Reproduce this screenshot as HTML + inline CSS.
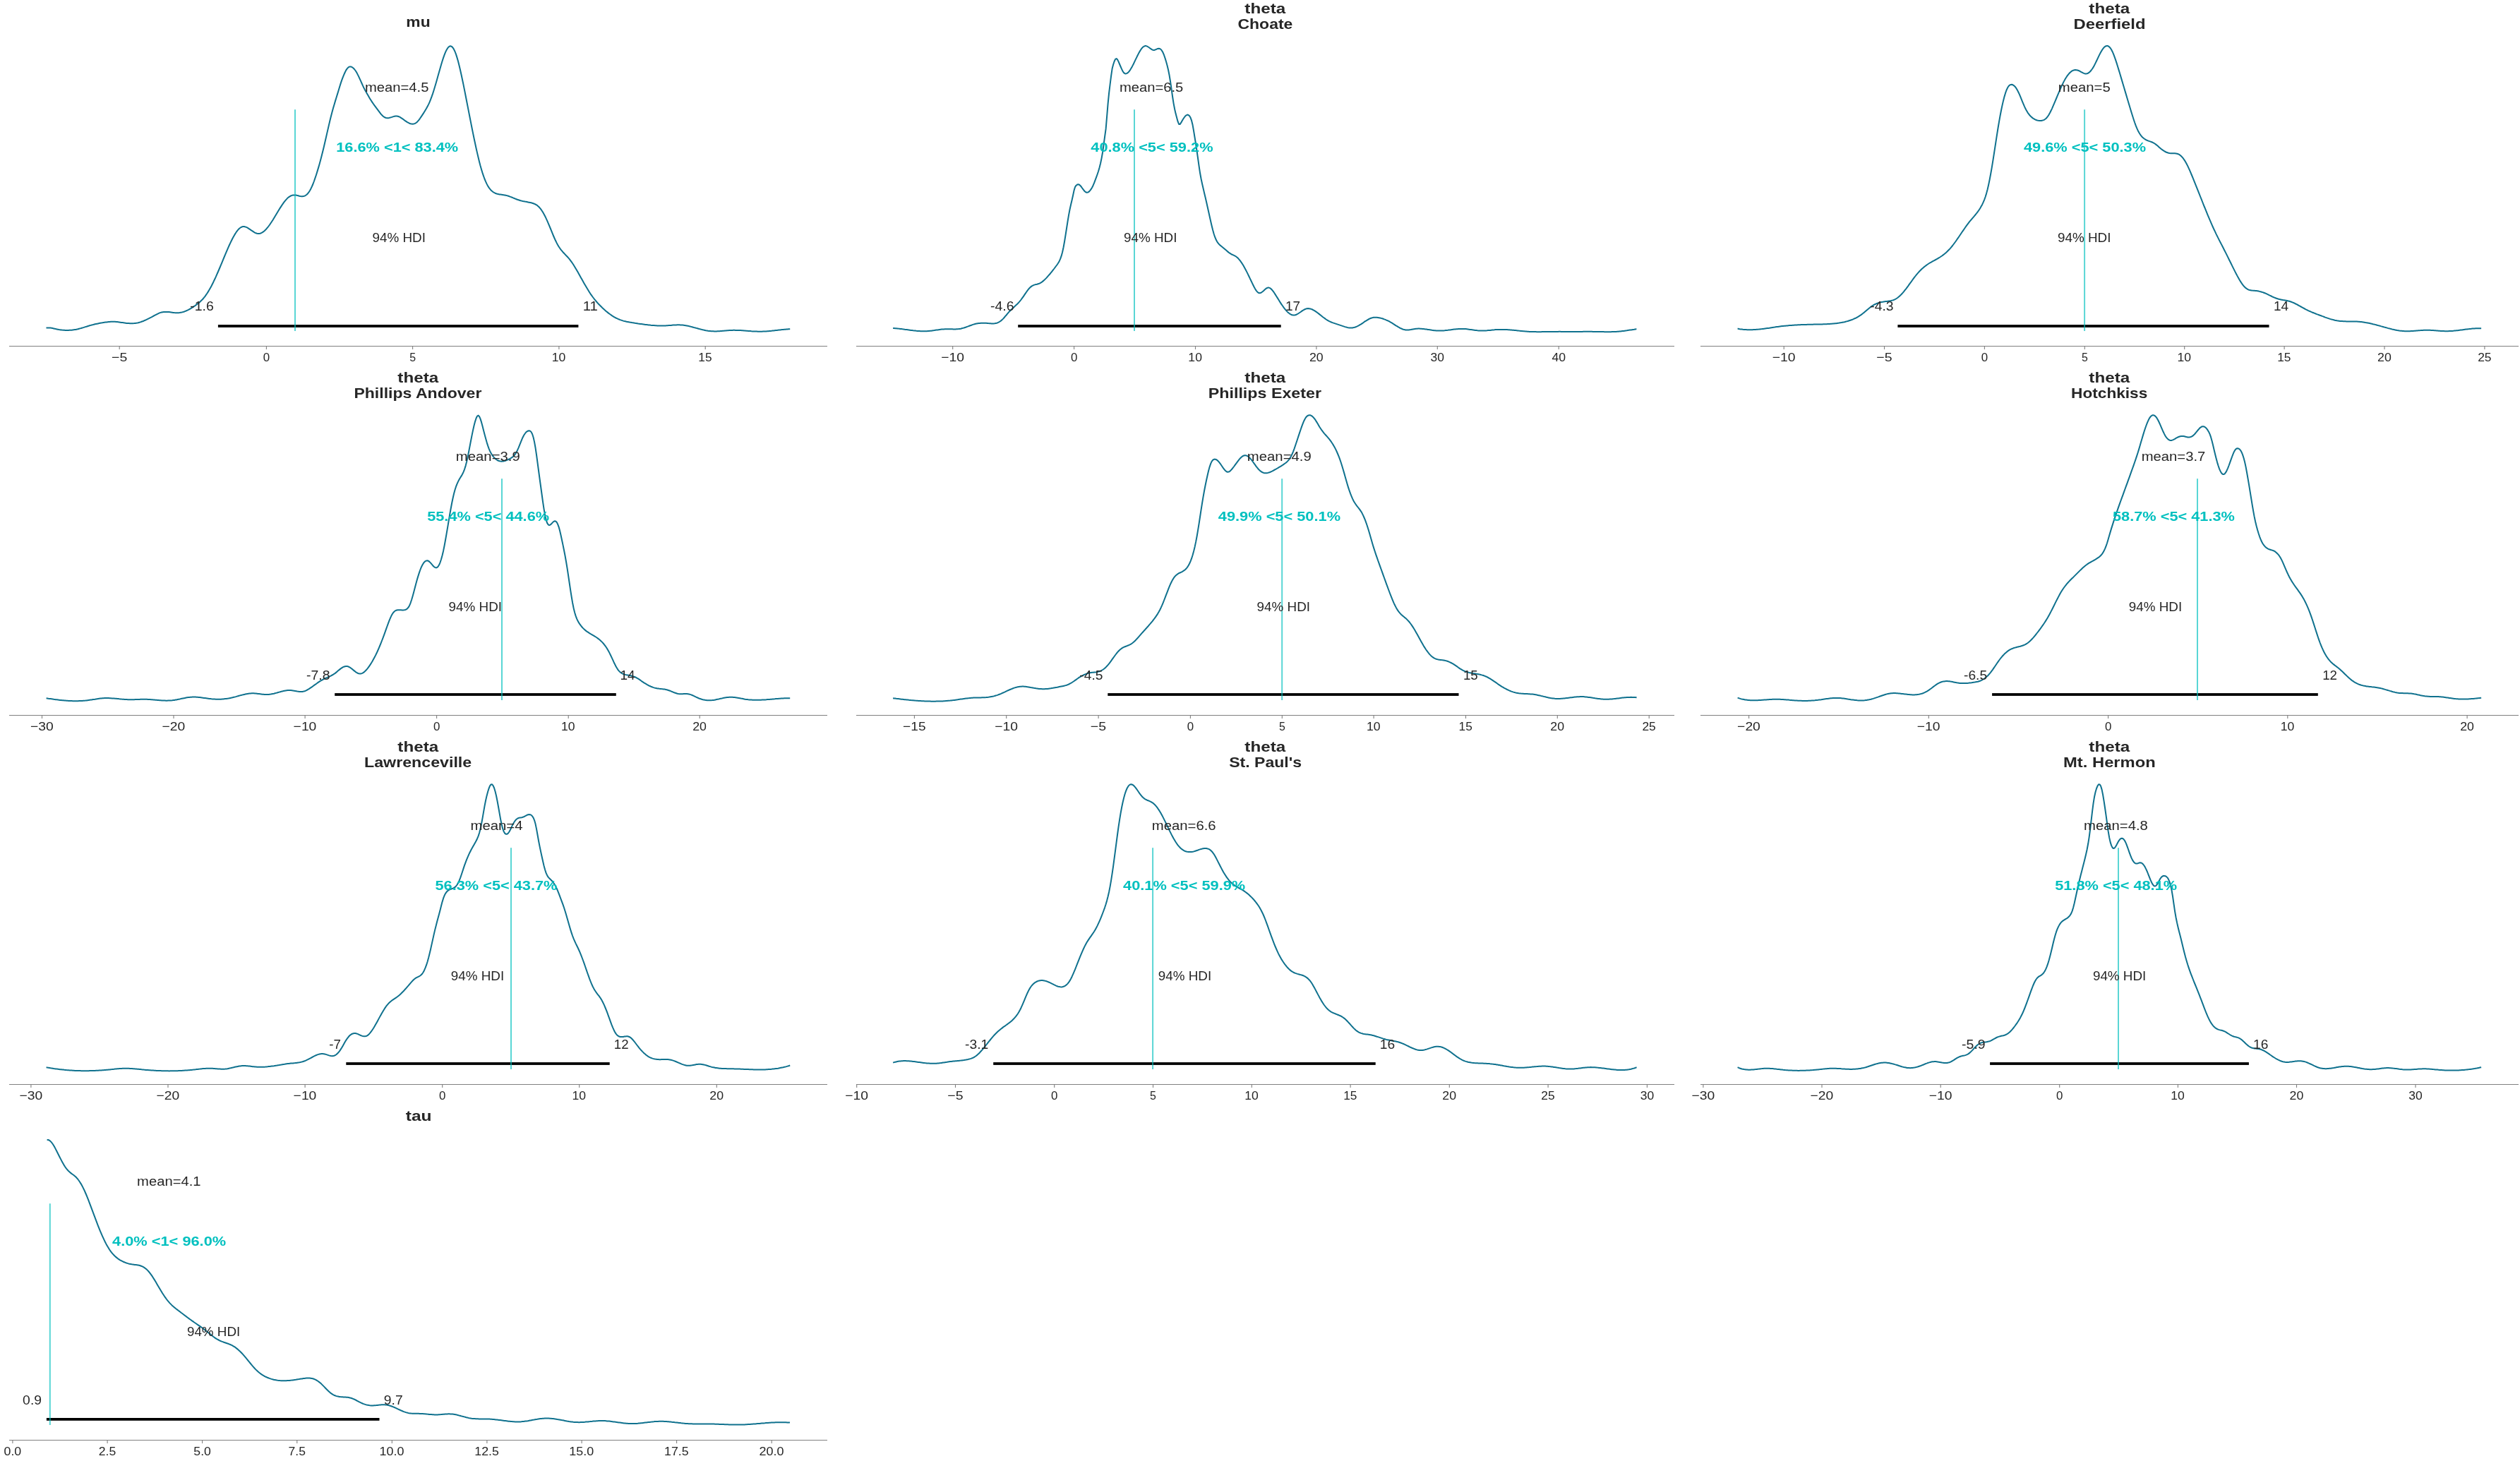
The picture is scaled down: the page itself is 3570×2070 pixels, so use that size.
<!DOCTYPE html><html><head><meta charset="utf-8"><title>Posterior plot</title><style>html,body{margin:0;padding:0;background:#fff;}svg{display:block;will-change:transform;}text{font-family:"Liberation Sans",sans-serif;}</style></head><body>
<svg xmlns="http://www.w3.org/2000/svg" width="3570" height="2070" viewBox="0 0 3570 2070">
<rect width="3570" height="2070" fill="#fff"/>
<g><text x="575.36" y="37.90" font-size="20.685" font-weight="bold" fill="#262626" textLength="34.27" lengthAdjust="spacingAndGlyphs">mu</text><rect x="13" y="490" width="1159" height="1" fill="#808080"/><rect x="168.65" y="491" width="1.1" height="4" fill="#808080"/><text x="157.99" y="511.70" font-size="16.960" fill="#262626" textLength="22.28" lengthAdjust="spacingAndGlyphs">−5</text><rect x="376.85" y="491" width="1.1" height="4" fill="#808080"/><text x="372.71" y="511.70" font-size="16.960" fill="#262626" textLength="9.38" lengthAdjust="spacingAndGlyphs">0</text><rect x="584.05" y="491" width="1.1" height="4" fill="#808080"/><text x="580.19" y="511.70" font-size="16.960" fill="#262626" textLength="8.85" lengthAdjust="spacingAndGlyphs">5</text><rect x="791.35" y="491" width="1.1" height="4" fill="#808080"/><text x="781.79" y="511.70" font-size="16.960" fill="#262626" textLength="19.57" lengthAdjust="spacingAndGlyphs">10</text><rect x="998.65" y="491" width="1.1" height="4" fill="#808080"/><text x="989.28" y="511.70" font-size="16.960" fill="#262626" textLength="19.25" lengthAdjust="spacingAndGlyphs">15</text><path d="M65.5,464.5 L67.0,464.4 L68.5,464.4 L70.0,464.5 L71.5,464.6 L73.0,464.8 L74.5,465.1 L76.0,465.4 L77.5,465.7 L79.0,466.1 L80.5,466.4 L82.0,466.7 L83.5,467.0 L85.0,467.2 L86.5,467.4 L88.0,467.6 L89.5,467.7 L91.0,467.8 L92.5,467.9 L94.0,467.9 L95.5,467.9 L97.0,467.9 L98.5,467.8 L100.0,467.8 L101.5,467.7 L103.0,467.5 L104.5,467.3 L106.0,467.1 L107.5,466.9 L109.0,466.6 L110.5,466.2 L112.0,465.8 L113.5,465.4 L115.0,465.0 L116.5,464.5 L118.0,464.1 L119.5,463.6 L121.0,463.1 L122.5,462.7 L124.0,462.2 L125.5,461.8 L127.0,461.3 L128.5,460.9 L130.0,460.5 L131.5,460.1 L133.0,459.7 L134.5,459.3 L136.0,459.0 L137.5,458.7 L139.0,458.4 L140.5,458.1 L142.0,457.8 L143.5,457.5 L145.0,457.3 L146.5,457.0 L148.0,456.8 L149.5,456.6 L151.0,456.4 L152.5,456.2 L154.0,456.0 L155.5,455.9 L157.0,455.8 L158.5,455.7 L160.0,455.7 L161.5,455.7 L163.0,455.8 L164.5,455.9 L166.0,456.1 L167.5,456.3 L169.0,456.5 L170.5,456.7 L172.0,456.9 L173.5,457.1 L175.0,457.3 L176.5,457.5 L178.0,457.7 L179.5,457.9 L181.0,458.0 L182.5,458.1 L184.0,458.2 L185.5,458.2 L187.0,458.2 L188.5,458.2 L190.0,458.1 L191.5,457.9 L193.0,457.7 L194.5,457.5 L196.0,457.2 L197.5,456.8 L199.0,456.4 L200.5,455.8 L202.0,455.3 L203.5,454.7 L205.0,454.0 L206.5,453.3 L208.0,452.6 L209.5,451.9 L211.0,451.2 L212.5,450.4 L214.0,449.7 L215.5,448.9 L217.0,448.0 L218.5,447.2 L220.0,446.4 L221.5,445.6 L223.0,444.8 L224.5,444.1 L226.0,443.4 L227.5,442.9 L229.0,442.5 L230.5,442.2 L232.0,442.0 L233.5,441.9 L235.0,441.9 L236.5,441.9 L238.0,442.0 L239.5,442.1 L241.0,442.3 L242.5,442.5 L244.0,442.7 L245.5,442.9 L247.0,443.1 L248.5,443.2 L250.0,443.3 L251.5,443.3 L253.0,443.2 L254.5,443.1 L256.0,442.8 L257.5,442.5 L259.0,442.1 L260.5,441.7 L262.0,441.1 L263.5,440.5 L265.0,439.8 L266.5,439.1 L268.0,438.3 L269.5,437.5 L271.0,436.6 L272.5,435.7 L274.0,434.7 L275.5,433.7 L277.0,432.6 L278.5,431.5 L280.0,430.3 L281.5,429.2 L283.0,427.9 L284.5,426.5 L286.0,425.1 L287.5,423.5 L289.0,421.7 L290.5,419.8 L292.0,417.7 L293.5,415.5 L295.0,413.1 L296.5,410.6 L298.0,407.9 L299.5,405.2 L301.0,402.2 L302.5,399.2 L304.0,396.0 L305.5,392.8 L307.0,389.4 L308.5,386.0 L310.0,382.5 L311.5,379.0 L313.0,375.4 L314.5,371.8 L316.0,368.1 L317.5,364.5 L319.0,360.9 L320.5,357.3 L322.0,353.8 L323.5,350.4 L325.0,347.0 L326.5,343.8 L328.0,340.7 L329.5,337.7 L331.0,335.0 L332.5,332.4 L334.0,330.0 L335.5,327.8 L337.0,325.9 L338.5,324.3 L340.0,323.0 L341.5,322.0 L343.0,321.3 L344.5,321.0 L346.0,321.1 L347.5,321.4 L349.0,321.9 L350.5,322.7 L352.0,323.6 L353.5,324.6 L355.0,325.6 L356.5,326.7 L358.0,327.7 L359.5,328.7 L361.0,329.6 L362.5,330.3 L364.0,330.8 L365.5,331.0 L367.0,331.0 L368.5,330.7 L370.0,330.2 L371.5,329.4 L373.0,328.4 L374.5,327.2 L376.0,325.8 L377.5,324.2 L379.0,322.4 L380.5,320.5 L382.0,318.5 L383.5,316.3 L385.0,314.0 L386.5,311.7 L388.0,309.2 L389.5,306.8 L391.0,304.3 L392.5,301.8 L394.0,299.3 L395.5,296.8 L397.0,294.4 L398.5,292.1 L400.0,289.8 L401.5,287.7 L403.0,285.7 L404.5,283.8 L406.0,282.1 L407.5,280.6 L409.0,279.3 L410.5,278.3 L412.0,277.5 L413.5,276.9 L415.0,276.5 L416.5,276.4 L418.0,276.4 L419.5,276.6 L421.0,276.9 L422.5,277.3 L424.0,277.7 L425.5,278.0 L427.0,278.2 L428.5,278.3 L430.0,278.1 L431.5,277.6 L433.0,276.8 L434.5,275.7 L436.0,274.2 L437.5,272.3 L439.0,270.0 L440.5,267.2 L442.0,264.0 L443.5,260.5 L445.0,256.5 L446.5,252.2 L448.0,247.7 L449.5,242.9 L451.0,237.9 L452.5,232.7 L454.0,227.2 L455.5,221.5 L457.0,215.6 L458.5,209.4 L460.0,203.0 L461.5,196.5 L463.0,189.9 L464.5,183.4 L466.0,176.9 L467.5,170.6 L469.0,164.5 L470.5,158.8 L472.0,153.3 L473.5,148.2 L475.0,143.1 L476.5,138.2 L478.0,133.4 L479.5,128.5 L481.0,123.5 L482.5,118.6 L484.0,114.1 L485.5,110.1 L487.0,106.4 L488.5,103.0 L490.0,99.9 L491.5,97.6 L493.0,95.9 L494.5,94.8 L496.0,94.4 L497.5,94.6 L499.0,95.3 L500.5,96.5 L502.0,98.0 L503.5,100.0 L505.0,102.3 L506.5,105.1 L508.0,108.1 L509.5,111.4 L511.0,114.7 L512.5,118.0 L514.0,121.4 L515.5,124.5 L517.0,127.4 L518.5,130.1 L520.0,132.7 L521.5,135.3 L523.0,137.9 L524.5,140.4 L526.0,142.8 L527.5,145.1 L529.0,147.3 L530.5,149.4 L532.0,151.4 L533.5,153.4 L535.0,155.4 L536.5,157.4 L538.0,159.4 L539.5,161.4 L541.0,163.1 L542.5,164.5 L544.0,165.7 L545.5,166.5 L547.0,167.0 L548.5,167.2 L550.0,167.2 L551.5,166.9 L553.0,166.5 L554.5,166.1 L556.0,165.6 L557.5,165.1 L559.0,164.7 L560.5,164.4 L562.0,164.4 L563.5,164.7 L565.0,165.2 L566.5,165.9 L568.0,166.8 L569.5,167.8 L571.0,168.9 L572.5,170.0 L574.0,171.1 L575.5,172.1 L577.0,173.1 L578.5,173.9 L580.0,174.7 L581.5,175.2 L583.0,175.6 L584.5,175.7 L586.0,175.6 L587.5,175.1 L589.0,174.3 L590.5,173.2 L592.0,171.6 L593.5,169.8 L595.0,167.8 L596.5,165.6 L598.0,163.4 L599.5,161.1 L601.0,158.7 L602.5,156.3 L604.0,153.8 L605.5,151.0 L607.0,148.1 L608.5,144.8 L610.0,141.2 L611.5,137.2 L613.0,132.9 L614.5,128.2 L616.0,123.3 L617.5,118.2 L619.0,113.0 L620.5,107.6 L622.0,102.3 L623.5,97.0 L625.0,91.7 L626.5,86.8 L628.0,82.1 L629.5,77.8 L631.0,74.1 L632.5,70.9 L634.0,68.4 L635.5,66.6 L637.0,65.5 L638.5,65.3 L640.0,66.0 L641.5,67.5 L643.0,69.9 L644.5,73.0 L646.0,76.9 L647.5,81.6 L649.0,86.8 L650.5,92.7 L652.0,99.0 L653.5,105.7 L655.0,112.7 L656.5,119.9 L658.0,127.4 L659.5,135.0 L661.0,142.7 L662.5,150.4 L664.0,158.1 L665.5,165.8 L667.0,173.4 L668.5,181.0 L670.0,188.4 L671.5,195.7 L673.0,202.8 L674.5,209.7 L676.0,216.4 L677.5,222.8 L679.0,228.9 L680.5,234.7 L682.0,240.0 L683.5,244.9 L685.0,249.4 L686.5,253.5 L688.0,257.2 L689.5,260.4 L691.0,263.2 L692.5,265.6 L694.0,267.6 L695.5,269.4 L697.0,270.8 L698.5,272.0 L700.0,272.9 L701.5,273.7 L703.0,274.3 L704.5,274.8 L706.0,275.1 L707.5,275.4 L709.0,275.6 L710.5,275.8 L712.0,276.0 L713.5,276.2 L715.0,276.4 L716.5,276.7 L718.0,277.1 L719.5,277.5 L721.0,278.0 L722.5,278.6 L724.0,279.1 L725.5,279.7 L727.0,280.4 L728.5,281.0 L730.0,281.6 L731.5,282.2 L733.0,282.8 L734.5,283.3 L736.0,283.8 L737.5,284.3 L739.0,284.6 L740.5,285.0 L742.0,285.3 L743.5,285.6 L745.0,285.8 L746.5,286.1 L748.0,286.4 L749.5,286.7 L751.0,287.0 L752.5,287.3 L754.0,287.7 L755.5,288.2 L757.0,288.8 L758.5,289.5 L760.0,290.3 L761.5,291.4 L763.0,292.7 L764.5,294.3 L766.0,296.1 L767.5,298.3 L769.0,300.6 L770.5,303.2 L772.0,306.0 L773.5,309.1 L775.0,312.3 L776.5,315.8 L778.0,319.4 L779.5,323.0 L781.0,326.7 L782.5,330.4 L784.0,334.0 L785.5,337.5 L787.0,340.8 L788.5,343.9 L790.0,346.7 L791.5,349.2 L793.0,351.5 L794.5,353.6 L796.0,355.4 L797.5,357.2 L799.0,358.8 L800.5,360.4 L802.0,362.0 L803.5,363.5 L805.0,365.2 L806.5,366.9 L808.0,368.8 L809.5,370.9 L811.0,373.0 L812.5,375.3 L814.0,377.7 L815.5,380.2 L817.0,382.7 L818.5,385.3 L820.0,388.0 L821.5,390.7 L823.0,393.4 L824.5,396.1 L826.0,398.8 L827.5,401.4 L829.0,404.0 L830.5,406.6 L832.0,409.1 L833.5,411.6 L835.0,414.0 L836.5,416.3 L838.0,418.4 L839.5,420.5 L841.0,422.5 L842.5,424.4 L844.0,426.2 L845.5,428.0 L847.0,429.7 L848.5,431.3 L850.0,432.8 L851.5,434.3 L853.0,435.8 L854.5,437.2 L856.0,438.6 L857.5,439.9 L859.0,441.2 L860.5,442.4 L862.0,443.6 L863.5,444.7 L865.0,445.8 L866.5,446.9 L868.0,447.9 L869.5,448.8 L871.0,449.7 L872.5,450.5 L874.0,451.2 L875.5,451.9 L877.0,452.5 L878.5,453.1 L880.0,453.6 L881.5,454.1 L883.0,454.6 L884.5,455.0 L886.0,455.3 L887.5,455.7 L889.0,456.0 L890.5,456.3 L892.0,456.6 L893.5,456.8 L895.0,457.1 L896.5,457.3 L898.0,457.5 L899.5,457.8 L901.0,458.0 L902.5,458.2 L904.0,458.5 L905.5,458.7 L907.0,458.9 L908.5,459.1 L910.0,459.3 L911.5,459.5 L913.0,459.7 L914.5,459.9 L916.0,460.1 L917.5,460.3 L919.0,460.5 L920.5,460.6 L922.0,460.8 L923.5,460.9 L925.0,461.0 L926.5,461.1 L928.0,461.2 L929.5,461.3 L931.0,461.4 L932.5,461.5 L934.0,461.5 L935.5,461.5 L937.0,461.5 L938.5,461.5 L940.0,461.5 L941.5,461.4 L943.0,461.4 L944.5,461.3 L946.0,461.2 L947.5,461.1 L949.0,461.0 L950.5,460.9 L952.0,460.7 L953.5,460.6 L955.0,460.5 L956.5,460.4 L958.0,460.4 L959.5,460.3 L961.0,460.3 L962.5,460.3 L964.0,460.4 L965.5,460.5 L967.0,460.6 L968.5,460.8 L970.0,461.0 L971.5,461.2 L973.0,461.5 L974.5,461.8 L976.0,462.1 L977.5,462.5 L979.0,462.9 L980.5,463.3 L982.0,463.7 L983.5,464.1 L985.0,464.5 L986.5,464.9 L988.0,465.3 L989.5,465.7 L991.0,466.1 L992.5,466.5 L994.0,466.9 L995.5,467.3 L997.0,467.6 L998.5,467.9 L1000.0,468.2 L1001.5,468.4 L1003.0,468.7 L1004.5,468.9 L1006.0,469.0 L1007.5,469.2 L1009.0,469.3 L1010.5,469.3 L1012.0,469.4 L1013.5,469.4 L1015.0,469.4 L1016.5,469.3 L1018.0,469.3 L1019.5,469.2 L1021.0,469.1 L1022.5,469.0 L1024.0,468.8 L1025.5,468.7 L1027.0,468.6 L1028.5,468.5 L1030.0,468.3 L1031.5,468.2 L1033.0,468.1 L1034.5,468.0 L1036.0,467.9 L1037.5,467.9 L1039.0,467.8 L1040.5,467.8 L1042.0,467.9 L1043.5,467.9 L1045.0,467.9 L1046.5,468.0 L1048.0,468.1 L1049.5,468.1 L1051.0,468.2 L1052.5,468.3 L1054.0,468.5 L1055.5,468.6 L1057.0,468.7 L1058.5,468.8 L1060.0,468.9 L1061.5,469.0 L1063.0,469.1 L1064.5,469.3 L1066.0,469.4 L1067.5,469.4 L1069.0,469.5 L1070.5,469.6 L1072.0,469.6 L1073.5,469.7 L1075.0,469.7 L1076.5,469.7 L1078.0,469.7 L1079.5,469.7 L1081.0,469.6 L1082.5,469.5 L1084.0,469.5 L1085.5,469.4 L1087.0,469.3 L1088.5,469.2 L1090.0,469.0 L1091.5,468.9 L1093.0,468.8 L1094.5,468.6 L1096.0,468.5 L1097.5,468.3 L1099.0,468.1 L1100.5,468.0 L1102.0,467.8 L1103.5,467.6 L1105.0,467.5 L1106.5,467.3 L1108.0,467.1 L1109.5,467.0 L1111.0,466.8 L1112.5,466.7 L1114.0,466.5 L1115.5,466.4 L1117.0,466.3 L1118.5,466.2 L1119.2,466.1" fill="none" stroke="#0f718e" stroke-width="2.0" stroke-linejoin="round"/><rect x="308.90" y="460.10" width="510.50" height="3.8" fill="#000"/><rect x="417.00" y="155.20" width="2.0" height="313.80" fill="#00c0bf" fill-opacity="0.65"/><text x="517.04" y="129.90" font-size="18.218" fill="#262626" textLength="90.43" lengthAdjust="spacingAndGlyphs">mean=4.5</text><text x="476.18" y="215.00" font-size="18.218" font-weight="bold" fill="#00c0bf" textLength="173.05" lengthAdjust="spacingAndGlyphs">16.6% &lt;1&lt; 83.4%</text><text x="527.51" y="342.80" font-size="18.218" fill="#262626" textLength="75.43" lengthAdjust="spacingAndGlyphs">94% HDI</text><text x="269.18" y="440.30" font-size="18.391" fill="#262626" textLength="33.64" lengthAdjust="spacingAndGlyphs">-1.6</text><text x="825.77" y="440.30" font-size="18.391" fill="#262626" textLength="21.10" lengthAdjust="spacingAndGlyphs">11</text></g>
<g><text x="1763.35" y="18.90" font-size="20.685" font-weight="bold" fill="#262626" textLength="57.85" lengthAdjust="spacingAndGlyphs">theta</text><text x="1753.48" y="40.95" font-size="20.685" font-weight="bold" fill="#262626" textLength="77.88" lengthAdjust="spacingAndGlyphs">Choate</text><rect x="1213" y="490" width="1159" height="1" fill="#808080"/><rect x="1349.15" y="491" width="1.1" height="4" fill="#808080"/><text x="1333.24" y="511.70" font-size="16.960" fill="#262626" textLength="32.72" lengthAdjust="spacingAndGlyphs">−10</text><rect x="1521.05" y="491" width="1.1" height="4" fill="#808080"/><text x="1516.91" y="511.70" font-size="16.960" fill="#262626" textLength="9.38" lengthAdjust="spacingAndGlyphs">0</text><rect x="1692.95" y="491" width="1.1" height="4" fill="#808080"/><text x="1683.39" y="511.70" font-size="16.960" fill="#262626" textLength="19.57" lengthAdjust="spacingAndGlyphs">10</text><rect x="1864.35" y="491" width="1.1" height="4" fill="#808080"/><text x="1854.95" y="511.70" font-size="16.960" fill="#262626" textLength="19.71" lengthAdjust="spacingAndGlyphs">20</text><rect x="2035.75" y="491" width="1.1" height="4" fill="#808080"/><text x="2026.60" y="511.70" font-size="16.960" fill="#262626" textLength="19.43" lengthAdjust="spacingAndGlyphs">30</text><rect x="2207.65" y="491" width="1.1" height="4" fill="#808080"/><text x="2198.54" y="511.70" font-size="16.960" fill="#262626" textLength="19.61" lengthAdjust="spacingAndGlyphs">40</text><path d="M1265.1,465.0 L1266.6,465.1 L1268.1,465.2 L1269.6,465.3 L1271.1,465.4 L1272.6,465.6 L1274.1,465.7 L1275.6,465.9 L1277.1,466.1 L1278.6,466.3 L1280.1,466.4 L1281.6,466.7 L1283.1,466.9 L1284.6,467.1 L1286.1,467.3 L1287.6,467.5 L1289.1,467.7 L1290.6,467.9 L1292.1,468.1 L1293.6,468.3 L1295.1,468.4 L1296.6,468.6 L1298.1,468.8 L1299.6,468.9 L1301.1,469.0 L1302.6,469.1 L1304.1,469.2 L1305.6,469.3 L1307.1,469.3 L1308.6,469.3 L1310.1,469.3 L1311.6,469.3 L1313.1,469.2 L1314.6,469.1 L1316.1,469.0 L1317.6,468.8 L1319.1,468.7 L1320.6,468.5 L1322.1,468.3 L1323.6,468.1 L1325.1,467.8 L1326.6,467.6 L1328.1,467.4 L1329.6,467.2 L1331.1,467.0 L1332.6,466.8 L1334.1,466.6 L1335.6,466.5 L1337.1,466.4 L1338.6,466.3 L1340.1,466.2 L1341.6,466.2 L1343.1,466.2 L1344.6,466.2 L1346.1,466.2 L1347.6,466.3 L1349.1,466.3 L1350.6,466.4 L1352.1,466.4 L1353.6,466.4 L1355.1,466.3 L1356.6,466.2 L1358.1,466.1 L1359.6,465.9 L1361.1,465.7 L1362.6,465.3 L1364.1,464.9 L1365.6,464.5 L1367.1,464.0 L1368.6,463.5 L1370.1,462.9 L1371.6,462.4 L1373.1,461.8 L1374.6,461.2 L1376.1,460.7 L1377.6,460.1 L1379.1,459.6 L1380.6,459.2 L1382.1,458.8 L1383.6,458.5 L1385.1,458.2 L1386.6,458.0 L1388.1,457.9 L1389.6,457.8 L1391.1,457.7 L1392.6,457.7 L1394.1,457.7 L1395.6,457.8 L1397.1,457.8 L1398.6,457.9 L1400.1,458.1 L1401.6,458.2 L1403.1,458.3 L1404.6,458.4 L1406.1,458.4 L1407.6,458.4 L1409.1,458.3 L1410.6,458.0 L1412.1,457.7 L1413.6,457.1 L1415.1,456.4 L1416.6,455.5 L1418.1,454.4 L1419.6,453.1 L1421.1,451.6 L1422.6,450.0 L1424.1,448.2 L1425.6,446.5 L1427.1,444.7 L1428.6,442.9 L1430.1,441.2 L1431.6,439.7 L1433.1,438.2 L1434.6,436.8 L1436.1,435.4 L1437.6,434.0 L1439.1,432.6 L1440.6,431.2 L1442.1,429.7 L1443.6,428.1 L1445.1,426.4 L1446.6,424.5 L1448.1,422.4 L1449.6,420.3 L1451.1,418.1 L1452.6,415.9 L1454.1,413.7 L1455.6,411.6 L1457.1,409.7 L1458.6,408.0 L1460.1,406.6 L1461.6,405.4 L1463.1,404.6 L1464.6,403.9 L1466.1,403.4 L1467.6,403.0 L1469.1,402.7 L1470.6,402.2 L1472.1,401.7 L1473.6,401.1 L1475.1,400.2 L1476.6,399.1 L1478.1,397.9 L1479.6,396.6 L1481.1,395.1 L1482.6,393.6 L1484.1,391.9 L1485.6,390.2 L1487.1,388.5 L1488.6,386.7 L1490.1,384.8 L1491.6,382.9 L1493.1,381.0 L1494.6,379.0 L1496.1,377.0 L1497.6,375.0 L1499.1,372.8 L1500.6,370.2 L1502.1,366.9 L1503.6,362.7 L1505.1,357.3 L1506.6,350.3 L1508.1,342.0 L1509.6,332.7 L1511.1,323.0 L1512.6,313.4 L1514.1,304.4 L1515.6,296.5 L1517.1,289.8 L1518.6,283.5 L1520.1,276.7 L1521.6,269.6 L1523.1,264.8 L1524.6,262.7 L1526.1,261.6 L1527.6,261.3 L1529.1,261.8 L1530.6,263.2 L1532.1,265.0 L1533.6,267.2 L1535.1,269.2 L1536.6,271.0 L1538.1,272.2 L1539.6,272.8 L1541.1,272.6 L1542.6,271.7 L1544.1,270.1 L1545.6,268.1 L1547.1,265.7 L1548.6,262.7 L1550.1,259.2 L1551.6,255.2 L1553.1,251.2 L1554.6,247.0 L1556.1,242.5 L1557.6,237.3 L1559.1,231.2 L1560.6,224.1 L1562.1,215.5 L1563.6,204.7 L1565.1,193.7 L1566.6,182.9 L1568.1,165.2 L1569.6,146.8 L1571.1,131.8 L1572.6,119.5 L1574.1,107.7 L1575.6,97.3 L1577.1,91.5 L1578.6,87.0 L1580.1,83.9 L1581.6,83.0 L1583.1,84.5 L1584.6,87.4 L1586.1,91.0 L1587.6,94.5 L1589.1,97.9 L1590.6,101.0 L1592.1,103.2 L1593.6,104.2 L1595.1,104.4 L1596.6,103.9 L1598.1,102.8 L1599.6,101.1 L1601.1,99.1 L1602.6,96.6 L1604.1,93.9 L1605.6,91.0 L1607.1,87.9 L1608.6,84.7 L1610.1,81.6 L1611.6,78.5 L1613.1,75.6 L1614.6,72.9 L1616.1,70.5 L1617.6,68.4 L1619.1,66.8 L1620.6,65.7 L1622.1,65.1 L1623.6,65.1 L1625.1,65.6 L1626.6,66.5 L1628.1,67.5 L1629.6,68.7 L1631.1,69.7 L1632.6,70.6 L1634.1,71.0 L1635.6,70.9 L1637.1,70.3 L1638.6,69.6 L1640.1,68.9 L1641.6,68.7 L1643.1,69.0 L1644.6,70.0 L1646.1,71.9 L1647.6,74.6 L1649.1,78.2 L1650.6,82.6 L1652.1,87.5 L1653.6,93.0 L1655.1,99.3 L1656.6,106.8 L1658.1,116.0 L1659.6,126.4 L1661.1,137.0 L1662.6,146.6 L1664.1,154.5 L1665.6,161.1 L1667.1,166.8 L1668.6,172.2 L1670.1,175.9 L1671.6,176.1 L1673.1,173.9 L1674.6,171.3 L1676.1,168.8 L1677.6,166.5 L1679.1,164.6 L1680.6,163.3 L1682.1,162.6 L1683.6,162.9 L1685.1,164.3 L1686.6,166.8 L1688.1,170.9 L1689.6,177.1 L1691.1,185.6 L1692.6,194.8 L1694.1,204.2 L1695.6,214.1 L1697.1,224.6 L1698.6,235.3 L1700.1,245.3 L1701.6,253.5 L1703.1,260.5 L1704.6,267.0 L1706.1,273.4 L1707.6,279.8 L1709.1,286.3 L1710.6,293.0 L1712.1,299.7 L1713.6,306.5 L1715.1,313.2 L1716.6,319.8 L1718.1,325.8 L1719.6,331.2 L1721.1,335.7 L1722.6,339.3 L1724.1,342.2 L1725.6,344.4 L1727.1,346.2 L1728.6,347.6 L1730.1,348.8 L1731.6,350.0 L1733.1,351.2 L1734.6,352.5 L1736.1,353.8 L1737.6,355.1 L1739.1,356.4 L1740.6,357.6 L1742.1,358.7 L1743.6,359.7 L1745.1,360.5 L1746.6,361.2 L1748.1,361.9 L1749.6,362.6 L1751.1,363.5 L1752.6,364.7 L1754.1,366.1 L1755.6,367.8 L1757.1,369.7 L1758.6,371.8 L1760.1,374.1 L1761.6,376.6 L1763.1,379.3 L1764.6,382.0 L1766.1,384.9 L1767.6,387.9 L1769.1,391.0 L1770.6,394.1 L1772.1,397.2 L1773.6,400.4 L1775.1,403.5 L1776.6,406.5 L1778.1,409.2 L1779.6,411.6 L1781.1,413.5 L1782.6,414.7 L1784.1,415.2 L1785.6,415.1 L1787.1,414.3 L1788.6,413.2 L1790.1,411.9 L1791.6,410.5 L1793.1,409.2 L1794.6,408.2 L1796.1,407.6 L1797.6,407.6 L1799.1,408.1 L1800.6,409.2 L1802.1,410.8 L1803.6,412.6 L1805.1,414.8 L1806.6,417.1 L1808.1,419.5 L1809.6,421.9 L1811.1,424.3 L1812.6,426.7 L1814.1,429.1 L1815.6,431.4 L1817.1,433.5 L1818.6,435.6 L1820.1,437.6 L1821.6,439.4 L1823.1,441.1 L1824.6,442.6 L1826.1,443.8 L1827.6,444.9 L1829.1,445.7 L1830.6,446.3 L1832.1,446.6 L1833.6,446.6 L1835.1,446.3 L1836.6,445.7 L1838.1,444.9 L1839.6,444.0 L1841.1,443.0 L1842.6,442.0 L1844.1,440.9 L1845.6,439.9 L1847.1,439.0 L1848.6,438.2 L1850.1,437.6 L1851.6,437.3 L1853.1,437.1 L1854.6,437.2 L1856.1,437.5 L1857.6,437.9 L1859.1,438.5 L1860.6,439.3 L1862.1,440.1 L1863.6,441.1 L1865.1,442.1 L1866.6,443.2 L1868.1,444.4 L1869.6,445.6 L1871.1,446.8 L1872.6,448.0 L1874.1,449.2 L1875.6,450.3 L1877.1,451.4 L1878.6,452.5 L1880.1,453.5 L1881.6,454.3 L1883.1,455.1 L1884.6,455.8 L1886.1,456.5 L1887.6,457.1 L1889.1,457.6 L1890.6,458.1 L1892.1,458.6 L1893.6,459.1 L1895.1,459.6 L1896.6,460.1 L1898.1,460.6 L1899.6,461.1 L1901.1,461.6 L1902.6,462.1 L1904.1,462.6 L1905.6,463.1 L1907.1,463.5 L1908.6,463.9 L1910.1,464.2 L1911.6,464.4 L1913.1,464.5 L1914.6,464.5 L1916.1,464.4 L1917.6,464.1 L1919.1,463.7 L1920.6,463.2 L1922.1,462.6 L1923.6,461.9 L1925.1,461.1 L1926.6,460.2 L1928.1,459.3 L1929.6,458.3 L1931.1,457.3 L1932.6,456.2 L1934.1,455.2 L1935.6,454.3 L1937.1,453.3 L1938.6,452.5 L1940.1,451.7 L1941.6,451.0 L1943.1,450.5 L1944.6,450.1 L1946.1,449.8 L1947.6,449.7 L1949.1,449.7 L1950.6,449.7 L1952.1,449.9 L1953.6,450.2 L1955.1,450.5 L1956.6,450.9 L1958.1,451.3 L1959.6,451.8 L1961.1,452.4 L1962.6,452.9 L1964.1,453.6 L1965.6,454.2 L1967.1,454.9 L1968.6,455.7 L1970.1,456.6 L1971.6,457.4 L1973.1,458.4 L1974.6,459.3 L1976.1,460.3 L1977.6,461.3 L1979.1,462.2 L1980.6,463.1 L1982.1,464.0 L1983.6,464.8 L1985.1,465.5 L1986.6,466.2 L1988.1,466.7 L1989.6,467.1 L1991.1,467.4 L1992.6,467.5 L1994.1,467.5 L1995.6,467.4 L1997.1,467.2 L1998.6,467.0 L2000.1,466.7 L2001.6,466.4 L2003.1,466.2 L2004.6,466.0 L2006.1,465.8 L2007.6,465.7 L2009.1,465.6 L2010.6,465.6 L2012.1,465.7 L2013.6,465.8 L2015.1,465.9 L2016.6,466.0 L2018.1,466.2 L2019.6,466.4 L2021.1,466.6 L2022.6,466.9 L2024.1,467.1 L2025.6,467.3 L2027.1,467.5 L2028.6,467.8 L2030.1,468.0 L2031.6,468.2 L2033.1,468.3 L2034.6,468.5 L2036.1,468.6 L2037.6,468.6 L2039.1,468.6 L2040.6,468.6 L2042.1,468.6 L2043.6,468.5 L2045.1,468.4 L2046.6,468.3 L2048.1,468.1 L2049.6,467.9 L2051.1,467.8 L2052.6,467.6 L2054.1,467.4 L2055.6,467.2 L2057.1,467.0 L2058.6,466.8 L2060.1,466.6 L2061.6,466.5 L2063.1,466.3 L2064.6,466.2 L2066.1,466.0 L2067.6,466.0 L2069.1,465.9 L2070.6,465.9 L2072.1,465.9 L2073.6,465.9 L2075.1,466.0 L2076.6,466.1 L2078.1,466.3 L2079.6,466.5 L2081.1,466.7 L2082.6,466.9 L2084.1,467.1 L2085.6,467.3 L2087.1,467.5 L2088.6,467.7 L2090.1,467.9 L2091.6,468.1 L2093.1,468.3 L2094.6,468.4 L2096.1,468.5 L2097.6,468.6 L2099.1,468.6 L2100.6,468.6 L2102.1,468.6 L2103.6,468.5 L2105.1,468.4 L2106.6,468.3 L2108.1,468.1 L2109.6,468.0 L2111.1,467.9 L2112.6,467.7 L2114.1,467.5 L2115.6,467.4 L2117.1,467.3 L2118.6,467.1 L2120.1,467.1 L2121.6,467.0 L2123.1,466.9 L2124.6,466.9 L2126.1,466.9 L2127.6,466.9 L2129.1,466.9 L2130.6,466.9 L2132.1,467.0 L2133.6,467.0 L2135.1,467.1 L2136.6,467.2 L2138.1,467.3 L2139.6,467.4 L2141.1,467.5 L2142.6,467.7 L2144.1,467.8 L2145.6,468.0 L2147.1,468.1 L2148.6,468.2 L2150.1,468.4 L2151.6,468.6 L2153.1,468.7 L2154.6,468.9 L2156.1,469.0 L2157.6,469.2 L2159.1,469.3 L2160.6,469.4 L2162.1,469.5 L2163.6,469.7 L2165.1,469.8 L2166.6,469.9 L2168.1,469.9 L2169.6,470.0 L2171.1,470.0 L2172.6,470.1 L2174.1,470.1 L2175.6,470.1 L2177.1,470.2 L2178.6,470.2 L2180.1,470.2 L2181.6,470.2 L2183.1,470.2 L2184.6,470.1 L2186.1,470.1 L2187.6,470.1 L2189.1,470.1 L2190.6,470.1 L2192.1,470.0 L2193.6,470.0 L2195.1,470.0 L2196.6,469.9 L2198.1,469.9 L2199.6,469.9 L2201.1,469.9 L2202.6,469.9 L2204.1,469.9 L2205.6,469.9 L2207.1,469.9 L2208.6,469.8 L2210.1,469.8 L2211.6,469.9 L2213.1,469.9 L2214.6,469.9 L2216.1,469.9 L2217.6,469.9 L2219.1,469.9 L2220.6,469.9 L2222.1,469.9 L2223.6,469.9 L2225.1,469.9 L2226.6,469.9 L2228.1,469.9 L2229.6,469.9 L2231.1,469.9 L2232.6,469.9 L2234.1,469.9 L2235.6,469.9 L2237.1,469.9 L2238.6,469.9 L2240.1,469.9 L2241.6,469.9 L2243.1,469.8 L2244.6,469.8 L2246.1,469.8 L2247.6,469.8 L2249.1,469.8 L2250.6,469.8 L2252.1,469.8 L2253.6,469.8 L2255.1,469.8 L2256.6,469.9 L2258.1,469.9 L2259.6,469.9 L2261.1,469.9 L2262.6,469.9 L2264.1,470.0 L2265.6,470.0 L2267.1,470.0 L2268.6,470.1 L2270.1,470.1 L2271.6,470.1 L2273.1,470.2 L2274.6,470.2 L2276.1,470.2 L2277.6,470.2 L2279.1,470.2 L2280.6,470.2 L2282.1,470.2 L2283.6,470.1 L2285.1,470.1 L2286.6,470.0 L2288.1,470.0 L2289.6,469.9 L2291.1,469.8 L2292.6,469.7 L2294.1,469.5 L2295.6,469.4 L2297.1,469.2 L2298.6,469.0 L2300.1,468.9 L2301.6,468.7 L2303.1,468.5 L2304.6,468.3 L2306.1,468.0 L2307.6,467.8 L2309.1,467.6 L2310.6,467.4 L2312.1,467.2 L2313.6,467.0 L2315.1,466.8 L2316.6,466.5 L2318.1,466.3 L2318.4,466.3" fill="none" stroke="#0f718e" stroke-width="2.0" stroke-linejoin="round"/><rect x="1442.20" y="460.10" width="372.50" height="3.8" fill="#000"/><rect x="1606.00" y="155.20" width="2.0" height="313.80" fill="#00c0bf" fill-opacity="0.65"/><text x="1585.94" y="129.90" font-size="18.218" fill="#262626" textLength="90.43" lengthAdjust="spacingAndGlyphs">mean=6.5</text><text x="1545.33" y="215.00" font-size="18.218" font-weight="bold" fill="#00c0bf" textLength="173.18" lengthAdjust="spacingAndGlyphs">40.8% &lt;5&lt; 59.2%</text><text x="1592.01" y="342.80" font-size="18.218" fill="#262626" textLength="75.43" lengthAdjust="spacingAndGlyphs">94% HDI</text><text x="1402.98" y="440.30" font-size="18.391" fill="#262626" textLength="33.64" lengthAdjust="spacingAndGlyphs">-4.6</text><text x="1820.91" y="440.30" font-size="18.391" fill="#262626" textLength="21.09" lengthAdjust="spacingAndGlyphs">17</text></g>
<g><text x="2959.35" y="18.90" font-size="20.685" font-weight="bold" fill="#262626" textLength="57.85" lengthAdjust="spacingAndGlyphs">theta</text><text x="2937.47" y="40.95" font-size="20.685" font-weight="bold" fill="#262626" textLength="102.03" lengthAdjust="spacingAndGlyphs">Deerfield</text><rect x="2409" y="490" width="1159" height="1" fill="#808080"/><rect x="2526.65" y="491" width="1.1" height="4" fill="#808080"/><text x="2510.74" y="511.70" font-size="16.960" fill="#262626" textLength="32.72" lengthAdjust="spacingAndGlyphs">−10</text><rect x="2668.95" y="491" width="1.1" height="4" fill="#808080"/><text x="2658.29" y="511.70" font-size="16.960" fill="#262626" textLength="22.28" lengthAdjust="spacingAndGlyphs">−5</text><rect x="2810.85" y="491" width="1.1" height="4" fill="#808080"/><text x="2806.71" y="511.70" font-size="16.960" fill="#262626" textLength="9.38" lengthAdjust="spacingAndGlyphs">0</text><rect x="2952.75" y="491" width="1.1" height="4" fill="#808080"/><text x="2948.89" y="511.70" font-size="16.960" fill="#262626" textLength="8.85" lengthAdjust="spacingAndGlyphs">5</text><rect x="3094.15" y="491" width="1.1" height="4" fill="#808080"/><text x="3084.59" y="511.70" font-size="16.960" fill="#262626" textLength="19.57" lengthAdjust="spacingAndGlyphs">10</text><rect x="3235.55" y="491" width="1.1" height="4" fill="#808080"/><text x="3226.18" y="511.70" font-size="16.960" fill="#262626" textLength="19.25" lengthAdjust="spacingAndGlyphs">15</text><rect x="3377.45" y="491" width="1.1" height="4" fill="#808080"/><text x="3368.05" y="511.70" font-size="16.960" fill="#262626" textLength="19.71" lengthAdjust="spacingAndGlyphs">20</text><rect x="3519.35" y="491" width="1.1" height="4" fill="#808080"/><text x="3510.13" y="511.70" font-size="16.960" fill="#262626" textLength="19.40" lengthAdjust="spacingAndGlyphs">25</text><path d="M2461.6,465.6 L2463.1,465.9 L2464.6,466.2 L2466.1,466.4 L2467.6,466.6 L2469.1,466.8 L2470.6,466.9 L2472.1,467.0 L2473.6,467.1 L2475.1,467.2 L2476.6,467.2 L2478.1,467.2 L2479.6,467.2 L2481.1,467.2 L2482.6,467.2 L2484.1,467.1 L2485.6,467.0 L2487.1,466.9 L2488.6,466.8 L2490.1,466.7 L2491.6,466.6 L2493.1,466.4 L2494.6,466.2 L2496.1,466.1 L2497.6,465.9 L2499.1,465.7 L2500.6,465.5 L2502.1,465.3 L2503.6,465.1 L2505.1,464.9 L2506.6,464.7 L2508.1,464.4 L2509.6,464.2 L2511.1,464.0 L2512.6,463.8 L2514.1,463.6 L2515.6,463.3 L2517.1,463.1 L2518.6,462.9 L2520.1,462.7 L2521.6,462.5 L2523.1,462.3 L2524.6,462.1 L2526.1,462.0 L2527.6,461.8 L2529.1,461.7 L2530.6,461.5 L2532.1,461.4 L2533.6,461.2 L2535.1,461.1 L2536.6,461.0 L2538.1,460.9 L2539.6,460.8 L2541.1,460.7 L2542.6,460.6 L2544.1,460.5 L2545.6,460.4 L2547.1,460.3 L2548.6,460.3 L2550.1,460.2 L2551.6,460.1 L2553.1,460.1 L2554.6,460.0 L2556.1,460.0 L2557.6,459.9 L2559.1,459.9 L2560.6,459.8 L2562.1,459.8 L2563.6,459.8 L2565.1,459.7 L2566.6,459.7 L2568.1,459.7 L2569.6,459.6 L2571.1,459.6 L2572.6,459.6 L2574.1,459.6 L2575.6,459.5 L2577.1,459.5 L2578.6,459.5 L2580.1,459.4 L2581.6,459.4 L2583.1,459.3 L2584.6,459.3 L2586.1,459.2 L2587.6,459.2 L2589.1,459.1 L2590.6,459.0 L2592.1,458.9 L2593.6,458.8 L2595.1,458.7 L2596.6,458.6 L2598.1,458.5 L2599.6,458.3 L2601.1,458.2 L2602.6,458.0 L2604.1,457.8 L2605.6,457.6 L2607.1,457.3 L2608.6,457.1 L2610.1,456.8 L2611.6,456.5 L2613.1,456.2 L2614.6,455.8 L2616.1,455.4 L2617.6,455.0 L2619.1,454.5 L2620.6,454.0 L2622.1,453.5 L2623.6,453.0 L2625.1,452.4 L2626.6,451.7 L2628.1,451.0 L2629.6,450.3 L2631.1,449.5 L2632.6,448.6 L2634.1,447.7 L2635.6,446.7 L2637.1,445.6 L2638.6,444.5 L2640.1,443.3 L2641.6,442.1 L2643.1,440.8 L2644.6,439.5 L2646.1,438.2 L2647.6,437.0 L2649.1,435.8 L2650.6,434.6 L2652.1,433.6 L2653.6,432.6 L2655.1,431.7 L2656.6,431.0 L2658.1,430.3 L2659.6,429.7 L2661.1,429.1 L2662.6,428.7 L2664.1,428.3 L2665.6,427.9 L2667.1,427.7 L2668.6,427.4 L2670.1,427.2 L2671.6,427.0 L2673.1,426.9 L2674.6,426.7 L2676.1,426.5 L2677.6,426.3 L2679.1,426.0 L2680.6,425.6 L2682.1,425.2 L2683.6,424.6 L2685.1,423.9 L2686.6,423.0 L2688.1,422.0 L2689.6,420.8 L2691.1,419.5 L2692.6,418.1 L2694.1,416.5 L2695.6,414.9 L2697.1,413.1 L2698.6,411.2 L2700.1,409.3 L2701.6,407.3 L2703.1,405.3 L2704.6,403.2 L2706.1,401.1 L2707.6,399.1 L2709.1,397.0 L2710.6,394.9 L2712.1,392.9 L2713.6,391.0 L2715.1,389.1 L2716.6,387.3 L2718.1,385.6 L2719.6,384.0 L2721.1,382.5 L2722.6,381.0 L2724.1,379.7 L2725.6,378.4 L2727.1,377.2 L2728.6,376.1 L2730.1,375.0 L2731.6,374.0 L2733.1,373.0 L2734.6,372.1 L2736.1,371.3 L2737.6,370.4 L2739.1,369.6 L2740.6,368.8 L2742.1,368.0 L2743.6,367.2 L2745.1,366.3 L2746.6,365.4 L2748.1,364.5 L2749.6,363.5 L2751.1,362.5 L2752.6,361.4 L2754.1,360.2 L2755.6,359.0 L2757.1,357.7 L2758.6,356.3 L2760.1,354.8 L2761.6,353.3 L2763.1,351.6 L2764.6,349.8 L2766.1,348.0 L2767.6,346.0 L2769.1,344.0 L2770.6,342.0 L2772.1,339.8 L2773.6,337.7 L2775.1,335.5 L2776.6,333.3 L2778.1,331.0 L2779.6,328.8 L2781.1,326.6 L2782.6,324.5 L2784.1,322.3 L2785.6,320.2 L2787.1,318.2 L2788.6,316.2 L2790.1,314.2 L2791.6,312.4 L2793.1,310.6 L2794.6,308.8 L2796.1,307.1 L2797.6,305.3 L2799.1,303.5 L2800.6,301.6 L2802.1,299.6 L2803.6,297.5 L2805.1,295.2 L2806.6,292.6 L2808.1,289.9 L2809.6,286.7 L2811.1,283.1 L2812.6,279.0 L2814.1,274.1 L2815.6,268.5 L2817.1,262.0 L2818.6,254.8 L2820.1,246.8 L2821.6,238.3 L2823.1,229.2 L2824.6,219.7 L2826.1,209.9 L2827.6,200.1 L2829.1,190.4 L2830.6,181.0 L2832.1,172.1 L2833.6,163.8 L2835.1,156.0 L2836.6,148.9 L2838.1,142.4 L2839.6,136.6 L2841.1,131.7 L2842.6,127.5 L2844.1,124.3 L2845.6,122.0 L2847.1,120.6 L2848.6,119.9 L2850.1,119.8 L2851.6,120.3 L2853.1,121.3 L2854.6,122.7 L2856.1,124.7 L2857.6,127.1 L2859.1,130.0 L2860.6,133.2 L2862.1,136.7 L2863.6,140.4 L2865.1,144.1 L2866.6,147.7 L2868.1,151.1 L2869.6,154.3 L2871.1,157.1 L2872.6,159.6 L2874.1,161.7 L2875.6,163.5 L2877.1,165.1 L2878.6,166.4 L2880.1,167.6 L2881.6,168.5 L2883.1,169.3 L2884.6,170.0 L2886.1,170.5 L2887.6,170.8 L2889.1,171.0 L2890.6,171.0 L2892.1,170.9 L2893.6,170.6 L2895.1,170.1 L2896.6,169.3 L2898.1,168.2 L2899.6,166.7 L2901.1,164.8 L2902.6,162.5 L2904.1,159.8 L2905.6,156.8 L2907.1,153.6 L2908.6,150.2 L2910.1,146.7 L2911.6,143.1 L2913.1,139.5 L2914.6,135.9 L2916.1,132.3 L2917.6,128.8 L2919.1,125.3 L2920.6,122.0 L2922.1,118.9 L2923.6,115.9 L2925.1,113.1 L2926.6,110.5 L2928.1,108.2 L2929.6,106.1 L2931.1,104.3 L2932.6,102.7 L2934.1,101.4 L2935.6,100.4 L2937.1,99.7 L2938.6,99.3 L2940.1,99.1 L2941.6,99.2 L2943.1,99.5 L2944.6,100.0 L2946.1,100.7 L2947.6,101.6 L2949.1,102.4 L2950.6,103.2 L2952.1,103.9 L2953.6,104.4 L2955.1,104.5 L2956.6,104.3 L2958.1,103.7 L2959.6,102.7 L2961.1,101.3 L2962.6,99.5 L2964.1,97.5 L2965.6,95.1 L2967.1,92.4 L2968.6,89.4 L2970.1,86.3 L2971.6,83.1 L2973.1,79.9 L2974.6,76.9 L2976.1,74.0 L2977.6,71.4 L2979.1,69.2 L2980.6,67.3 L2982.1,66.0 L2983.6,65.2 L2985.1,64.9 L2986.6,65.3 L2988.1,66.3 L2989.6,68.0 L2991.1,70.3 L2992.6,73.2 L2994.1,76.6 L2995.6,80.6 L2997.1,84.9 L2998.6,89.4 L3000.1,94.2 L3001.6,99.1 L3003.1,104.0 L3004.6,109.1 L3006.1,114.1 L3007.6,119.2 L3009.1,124.3 L3010.6,129.4 L3012.1,134.4 L3013.6,139.5 L3015.1,144.5 L3016.6,149.5 L3018.1,154.5 L3019.6,159.5 L3021.1,164.3 L3022.6,169.0 L3024.1,173.5 L3025.6,177.6 L3027.1,181.4 L3028.6,184.7 L3030.1,187.5 L3031.6,190.0 L3033.1,192.1 L3034.6,193.9 L3036.1,195.3 L3037.6,196.5 L3039.1,197.5 L3040.6,198.3 L3042.1,199.0 L3043.6,199.6 L3045.1,200.1 L3046.6,200.6 L3048.1,201.2 L3049.6,201.8 L3051.1,202.6 L3052.6,203.5 L3054.1,204.6 L3055.6,205.8 L3057.1,207.1 L3058.6,208.4 L3060.1,209.7 L3061.6,211.0 L3063.1,212.1 L3064.6,213.2 L3066.1,214.2 L3067.6,215.0 L3069.1,215.8 L3070.6,216.3 L3072.1,216.8 L3073.6,217.1 L3075.1,217.2 L3076.6,217.2 L3078.1,217.2 L3079.6,217.2 L3081.1,217.2 L3082.6,217.4 L3084.1,217.7 L3085.6,218.2 L3087.1,218.9 L3088.6,220.0 L3090.1,221.3 L3091.6,222.9 L3093.1,224.7 L3094.6,226.9 L3096.1,229.3 L3097.6,232.0 L3099.1,234.9 L3100.6,238.1 L3102.1,241.4 L3103.6,244.9 L3105.1,248.5 L3106.6,252.2 L3108.1,255.9 L3109.6,259.7 L3111.1,263.4 L3112.6,267.2 L3114.1,270.9 L3115.6,274.7 L3117.1,278.5 L3118.6,282.2 L3120.1,286.0 L3121.6,289.8 L3123.1,293.5 L3124.6,297.2 L3126.1,300.9 L3127.6,304.6 L3129.1,308.2 L3130.6,311.7 L3132.1,315.2 L3133.6,318.7 L3135.1,322.0 L3136.6,325.3 L3138.1,328.4 L3139.6,331.6 L3141.1,334.6 L3142.6,337.6 L3144.1,340.6 L3145.6,343.5 L3147.1,346.4 L3148.6,349.3 L3150.1,352.2 L3151.6,355.2 L3153.1,358.1 L3154.6,361.1 L3156.1,364.1 L3157.6,367.2 L3159.1,370.2 L3160.6,373.3 L3162.1,376.4 L3163.6,379.4 L3165.1,382.4 L3166.6,385.4 L3168.1,388.3 L3169.6,391.1 L3171.1,393.8 L3172.6,396.5 L3174.1,398.9 L3175.6,401.2 L3177.1,403.3 L3178.6,405.2 L3180.1,406.8 L3181.6,408.2 L3183.1,409.2 L3184.6,410.1 L3186.1,410.7 L3187.6,411.1 L3189.1,411.4 L3190.6,411.6 L3192.1,411.7 L3193.6,411.8 L3195.1,411.9 L3196.6,412.1 L3198.1,412.3 L3199.6,412.5 L3201.1,412.9 L3202.6,413.2 L3204.1,413.7 L3205.6,414.1 L3207.1,414.7 L3208.6,415.3 L3210.1,415.9 L3211.6,416.6 L3213.1,417.3 L3214.6,418.1 L3216.1,418.8 L3217.6,419.5 L3219.1,420.3 L3220.6,421.0 L3222.1,421.6 L3223.6,422.2 L3225.1,422.8 L3226.6,423.3 L3228.1,423.7 L3229.6,424.1 L3231.1,424.4 L3232.6,424.7 L3234.1,425.0 L3235.6,425.2 L3237.1,425.5 L3238.6,425.8 L3240.1,426.1 L3241.6,426.4 L3243.1,426.8 L3244.6,427.3 L3246.1,427.8 L3247.6,428.4 L3249.1,429.0 L3250.6,429.7 L3252.1,430.5 L3253.6,431.2 L3255.1,432.0 L3256.6,432.8 L3258.1,433.7 L3259.6,434.5 L3261.1,435.3 L3262.6,436.2 L3264.1,437.0 L3265.6,437.8 L3267.1,438.6 L3268.6,439.3 L3270.1,440.1 L3271.6,440.8 L3273.1,441.4 L3274.6,442.1 L3276.1,442.7 L3277.6,443.3 L3279.1,443.9 L3280.6,444.5 L3282.1,445.1 L3283.6,445.6 L3285.1,446.2 L3286.6,446.8 L3288.1,447.3 L3289.6,447.9 L3291.1,448.4 L3292.6,449.0 L3294.1,449.6 L3295.6,450.1 L3297.1,450.6 L3298.6,451.1 L3300.1,451.6 L3301.6,452.1 L3303.1,452.5 L3304.6,452.9 L3306.1,453.3 L3307.6,453.7 L3309.1,454.0 L3310.6,454.3 L3312.1,454.5 L3313.6,454.7 L3315.1,454.9 L3316.6,455.0 L3318.1,455.1 L3319.6,455.2 L3321.1,455.3 L3322.6,455.3 L3324.1,455.4 L3325.6,455.4 L3327.1,455.4 L3328.6,455.4 L3330.1,455.4 L3331.6,455.4 L3333.1,455.4 L3334.6,455.5 L3336.1,455.5 L3337.6,455.6 L3339.1,455.6 L3340.6,455.7 L3342.1,455.8 L3343.6,456.0 L3345.1,456.1 L3346.6,456.3 L3348.1,456.5 L3349.6,456.7 L3351.1,457.0 L3352.6,457.2 L3354.1,457.5 L3355.6,457.8 L3357.1,458.1 L3358.6,458.4 L3360.1,458.8 L3361.6,459.2 L3363.1,459.5 L3364.6,459.9 L3366.1,460.3 L3367.6,460.7 L3369.1,461.1 L3370.6,461.5 L3372.1,461.9 L3373.6,462.4 L3375.1,462.8 L3376.6,463.2 L3378.1,463.6 L3379.6,464.0 L3381.1,464.4 L3382.6,464.9 L3384.1,465.3 L3385.6,465.6 L3387.1,466.0 L3388.6,466.4 L3390.1,466.7 L3391.6,467.1 L3393.1,467.4 L3394.6,467.7 L3396.1,468.0 L3397.6,468.2 L3399.1,468.5 L3400.6,468.7 L3402.1,468.8 L3403.6,469.0 L3405.1,469.1 L3406.6,469.2 L3408.1,469.2 L3409.6,469.3 L3411.1,469.3 L3412.6,469.2 L3414.1,469.2 L3415.6,469.1 L3417.1,469.0 L3418.6,468.9 L3420.1,468.8 L3421.6,468.7 L3423.1,468.5 L3424.6,468.4 L3426.1,468.3 L3427.6,468.2 L3429.1,468.1 L3430.6,467.9 L3432.1,467.9 L3433.6,467.8 L3435.1,467.7 L3436.6,467.7 L3438.1,467.7 L3439.6,467.7 L3441.1,467.8 L3442.6,467.8 L3444.1,467.9 L3445.6,468.0 L3447.1,468.1 L3448.6,468.2 L3450.1,468.3 L3451.6,468.4 L3453.1,468.5 L3454.6,468.7 L3456.1,468.8 L3457.6,468.9 L3459.1,469.0 L3460.6,469.0 L3462.1,469.1 L3463.6,469.2 L3465.1,469.2 L3466.6,469.2 L3468.1,469.2 L3469.6,469.1 L3471.1,469.1 L3472.6,469.0 L3474.1,468.9 L3475.6,468.8 L3477.1,468.6 L3478.6,468.5 L3480.1,468.3 L3481.6,468.2 L3483.1,468.0 L3484.6,467.8 L3486.1,467.6 L3487.6,467.4 L3489.1,467.2 L3490.6,467.0 L3492.1,466.8 L3493.6,466.6 L3495.1,466.4 L3496.6,466.2 L3498.1,466.1 L3499.6,465.9 L3501.1,465.8 L3502.6,465.6 L3504.1,465.5 L3505.6,465.4 L3507.1,465.3 L3508.6,465.3 L3510.1,465.2 L3511.6,465.2 L3513.1,465.2 L3514.6,465.3 L3515.1,465.3" fill="none" stroke="#0f718e" stroke-width="2.0" stroke-linejoin="round"/><rect x="2688.40" y="460.10" width="526.10" height="3.8" fill="#000"/><rect x="2952.10" y="155.20" width="2.0" height="313.80" fill="#00c0bf" fill-opacity="0.65"/><text x="2915.81" y="129.90" font-size="18.218" fill="#262626" textLength="73.89" lengthAdjust="spacingAndGlyphs">mean=5</text><text x="2866.93" y="215.00" font-size="18.218" font-weight="bold" fill="#00c0bf" textLength="173.18" lengthAdjust="spacingAndGlyphs">49.6% &lt;5&lt; 50.3%</text><text x="2915.01" y="342.80" font-size="18.218" fill="#262626" textLength="75.43" lengthAdjust="spacingAndGlyphs">94% HDI</text><text x="2649.23" y="440.30" font-size="18.391" fill="#262626" textLength="33.32" lengthAdjust="spacingAndGlyphs">-4.3</text><text x="3220.95" y="440.30" font-size="18.391" fill="#262626" textLength="21.21" lengthAdjust="spacingAndGlyphs">14</text></g>
<g><text x="563.35" y="541.90" font-size="20.685" font-weight="bold" fill="#262626" textLength="57.85" lengthAdjust="spacingAndGlyphs">theta</text><text x="501.40" y="563.95" font-size="20.685" font-weight="bold" fill="#262626" textLength="181.02" lengthAdjust="spacingAndGlyphs">Phillips Andover</text><rect x="13" y="1013" width="1159" height="1" fill="#808080"/><rect x="58.95" y="1014" width="1.1" height="4" fill="#808080"/><text x="43.04" y="1034.70" font-size="16.960" fill="#262626" textLength="32.72" lengthAdjust="spacingAndGlyphs">−30</text><rect x="245.45" y="1014" width="1.1" height="4" fill="#808080"/><text x="229.54" y="1034.70" font-size="16.960" fill="#262626" textLength="32.72" lengthAdjust="spacingAndGlyphs">−20</text><rect x="431.55" y="1014" width="1.1" height="4" fill="#808080"/><text x="415.64" y="1034.70" font-size="16.960" fill="#262626" textLength="32.72" lengthAdjust="spacingAndGlyphs">−10</text><rect x="618.05" y="1014" width="1.1" height="4" fill="#808080"/><text x="613.91" y="1034.70" font-size="16.960" fill="#262626" textLength="9.38" lengthAdjust="spacingAndGlyphs">0</text><rect x="804.65" y="1014" width="1.1" height="4" fill="#808080"/><text x="795.09" y="1034.70" font-size="16.960" fill="#262626" textLength="19.57" lengthAdjust="spacingAndGlyphs">10</text><rect x="990.65" y="1014" width="1.1" height="4" fill="#808080"/><text x="981.25" y="1034.70" font-size="16.960" fill="#262626" textLength="19.71" lengthAdjust="spacingAndGlyphs">20</text><path d="M65.6,989.2 L67.1,989.4 L68.6,989.7 L70.1,989.9 L71.6,990.1 L73.1,990.3 L74.6,990.5 L76.1,990.8 L77.6,991.0 L79.1,991.2 L80.6,991.3 L82.1,991.5 L83.6,991.7 L85.1,991.9 L86.6,992.0 L88.1,992.2 L89.6,992.3 L91.1,992.5 L92.6,992.6 L94.1,992.7 L95.6,992.8 L97.1,992.9 L98.6,993.0 L100.1,993.1 L101.6,993.1 L103.1,993.2 L104.6,993.2 L106.1,993.2 L107.6,993.2 L109.1,993.2 L110.6,993.2 L112.1,993.1 L113.6,993.1 L115.1,993.0 L116.6,992.9 L118.1,992.8 L119.6,992.7 L121.1,992.6 L122.6,992.4 L124.1,992.2 L125.6,992.0 L127.1,991.8 L128.6,991.6 L130.1,991.4 L131.6,991.1 L133.1,990.9 L134.6,990.7 L136.1,990.4 L137.6,990.2 L139.1,990.0 L140.6,989.8 L142.1,989.6 L143.6,989.5 L145.1,989.3 L146.6,989.2 L148.1,989.1 L149.6,989.1 L151.1,989.1 L152.6,989.1 L154.1,989.1 L155.6,989.2 L157.1,989.3 L158.6,989.4 L160.1,989.5 L161.6,989.6 L163.1,989.7 L164.6,989.8 L166.1,990.0 L167.6,990.1 L169.1,990.3 L170.6,990.4 L172.1,990.6 L173.6,990.7 L175.1,990.8 L176.6,990.9 L178.1,991.1 L179.6,991.1 L181.1,991.2 L182.6,991.3 L184.1,991.3 L185.6,991.3 L187.1,991.3 L188.6,991.2 L190.1,991.2 L191.6,991.1 L193.1,991.1 L194.6,991.0 L196.1,990.9 L197.6,990.9 L199.1,990.8 L200.6,990.7 L202.1,990.7 L203.6,990.7 L205.1,990.7 L206.6,990.7 L208.1,990.8 L209.6,990.9 L211.1,991.0 L212.6,991.1 L214.1,991.2 L215.6,991.3 L217.1,991.4 L218.6,991.5 L220.1,991.7 L221.6,991.8 L223.1,992.0 L224.6,992.1 L226.1,992.2 L227.6,992.3 L229.1,992.4 L230.6,992.5 L232.1,992.6 L233.6,992.6 L235.1,992.7 L236.6,992.7 L238.1,992.6 L239.6,992.6 L241.1,992.5 L242.6,992.4 L244.1,992.3 L245.6,992.1 L247.1,991.9 L248.6,991.6 L250.1,991.4 L251.6,991.1 L253.1,990.8 L254.6,990.5 L256.1,990.1 L257.6,989.8 L259.1,989.5 L260.6,989.2 L262.1,988.9 L263.6,988.6 L265.1,988.3 L266.6,988.1 L268.1,987.9 L269.6,987.8 L271.1,987.7 L272.6,987.6 L274.1,987.6 L275.6,987.6 L277.1,987.6 L278.6,987.7 L280.1,987.8 L281.6,987.9 L283.1,988.1 L284.6,988.3 L286.1,988.5 L287.6,988.7 L289.1,988.9 L290.6,989.1 L292.1,989.3 L293.6,989.5 L295.1,989.7 L296.6,989.9 L298.1,990.1 L299.6,990.3 L301.1,990.4 L302.6,990.5 L304.1,990.6 L305.6,990.7 L307.1,990.8 L308.6,990.8 L310.1,990.8 L311.6,990.7 L313.1,990.7 L314.6,990.6 L316.1,990.5 L317.6,990.3 L319.1,990.1 L320.6,989.9 L322.1,989.7 L323.6,989.5 L325.1,989.2 L326.6,988.9 L328.1,988.6 L329.6,988.2 L331.1,987.8 L332.6,987.5 L334.1,987.1 L335.6,986.6 L337.1,986.2 L338.6,985.8 L340.1,985.4 L341.6,985.0 L343.1,984.6 L344.6,984.2 L346.1,983.9 L347.6,983.6 L349.1,983.3 L350.6,983.0 L352.1,982.8 L353.6,982.6 L355.1,982.4 L356.6,982.3 L358.1,982.3 L359.6,982.3 L361.1,982.4 L362.6,982.5 L364.1,982.7 L365.6,982.9 L367.1,983.1 L368.6,983.3 L370.1,983.5 L371.6,983.7 L373.1,983.8 L374.6,984.0 L376.1,984.1 L377.6,984.1 L379.1,984.1 L380.6,984.0 L382.1,983.8 L383.6,983.6 L385.1,983.3 L386.6,983.0 L388.1,982.7 L389.6,982.3 L391.1,981.9 L392.6,981.5 L394.1,981.0 L395.6,980.6 L397.1,980.2 L398.6,979.8 L400.1,979.4 L401.6,979.1 L403.1,978.8 L404.6,978.5 L406.1,978.3 L407.6,978.1 L409.1,978.1 L410.6,978.0 L412.1,978.1 L413.6,978.3 L415.1,978.5 L416.6,978.7 L418.1,979.0 L419.6,979.3 L421.1,979.6 L422.6,979.8 L424.1,980.0 L425.6,980.1 L427.1,980.0 L428.6,979.9 L430.1,979.6 L431.6,979.2 L433.1,978.6 L434.6,977.8 L436.1,977.0 L437.6,976.1 L439.1,975.1 L440.6,974.1 L442.1,973.1 L443.6,972.0 L445.1,970.9 L446.6,969.8 L448.1,968.8 L449.6,967.7 L451.1,966.7 L452.6,965.7 L454.1,964.7 L455.6,963.8 L457.1,963.0 L458.6,962.2 L460.1,961.4 L461.6,960.7 L463.1,960.1 L464.6,959.4 L466.1,958.8 L467.6,958.1 L469.1,957.3 L470.6,956.5 L472.1,955.7 L473.6,954.7 L475.1,953.6 L476.6,952.4 L478.1,951.1 L479.6,949.8 L481.1,948.6 L482.6,947.4 L484.1,946.4 L485.6,945.4 L487.1,944.7 L488.6,944.2 L490.1,943.9 L491.6,944.0 L493.1,944.3 L494.6,945.0 L496.1,945.9 L497.6,947.0 L499.1,948.1 L500.6,949.4 L502.1,950.6 L503.6,951.8 L505.1,952.8 L506.6,953.7 L508.1,954.3 L509.6,954.6 L511.1,954.5 L512.6,954.1 L514.1,953.4 L515.6,952.4 L517.1,951.1 L518.6,949.5 L520.1,947.8 L521.6,945.9 L523.1,943.8 L524.6,941.6 L526.1,939.3 L527.6,936.8 L529.1,934.1 L530.6,931.3 L532.1,928.4 L533.6,925.3 L535.1,922.0 L536.6,918.6 L538.1,915.0 L539.6,911.3 L541.1,907.5 L542.6,903.6 L544.1,899.6 L545.6,895.4 L547.1,891.2 L548.6,887.0 L550.1,882.8 L551.6,878.9 L553.1,875.3 L554.6,872.1 L556.1,869.5 L557.6,867.4 L559.1,866.0 L560.6,865.0 L562.1,864.5 L563.6,864.2 L565.1,864.2 L566.6,864.2 L568.1,864.3 L569.6,864.4 L571.1,864.4 L572.6,864.3 L574.1,864.0 L575.6,863.4 L577.1,862.2 L578.6,860.5 L580.1,857.9 L581.6,854.3 L583.1,849.8 L584.6,844.7 L586.1,839.2 L587.6,833.4 L589.1,827.7 L590.6,822.3 L592.1,817.1 L593.6,812.4 L595.1,808.0 L596.6,804.2 L598.1,801.0 L599.6,798.4 L601.1,796.4 L602.6,795.1 L604.1,794.4 L605.6,794.3 L607.1,794.9 L608.6,796.1 L610.1,797.6 L611.6,799.4 L613.1,801.2 L614.6,802.8 L616.1,803.9 L617.6,804.4 L619.1,804.1 L620.6,802.7 L622.1,800.3 L623.6,796.8 L625.1,792.3 L626.6,786.8 L628.1,780.4 L629.6,773.0 L631.1,764.8 L632.6,756.2 L634.1,747.3 L635.6,738.3 L637.1,729.5 L638.6,721.0 L640.1,713.0 L641.6,705.7 L643.1,699.3 L644.6,693.8 L646.1,689.2 L647.6,685.4 L649.1,682.1 L650.6,679.3 L652.1,676.8 L653.6,674.4 L655.1,671.7 L656.6,668.6 L658.1,664.8 L659.6,660.1 L661.1,654.3 L662.6,647.4 L664.1,640.0 L665.6,632.1 L667.1,624.2 L668.6,616.6 L670.1,609.4 L671.6,602.8 L673.1,597.1 L674.6,592.5 L676.1,589.5 L677.6,588.6 L679.1,590.2 L680.6,593.6 L682.1,598.4 L683.6,604.0 L685.1,609.9 L686.6,615.7 L688.1,621.3 L689.6,626.6 L691.1,631.4 L692.6,635.6 L694.1,639.1 L695.6,642.1 L697.1,644.6 L698.6,646.7 L700.1,648.4 L701.6,649.8 L703.1,651.1 L704.6,652.0 L706.1,652.8 L707.6,653.3 L709.1,653.6 L710.6,653.7 L712.1,653.6 L713.6,653.4 L715.1,653.0 L716.6,652.5 L718.1,651.9 L719.6,651.3 L721.1,650.5 L722.6,649.8 L724.1,648.9 L725.6,647.9 L727.1,646.7 L728.6,645.1 L730.1,643.2 L731.6,640.7 L733.1,637.7 L734.6,634.3 L736.1,630.6 L737.6,626.8 L739.1,623.1 L740.6,619.7 L742.1,616.8 L743.6,614.5 L745.1,612.6 L746.6,611.3 L748.1,610.5 L749.6,610.2 L751.1,610.6 L752.6,612.1 L754.1,615.0 L755.6,619.7 L757.1,626.4 L758.6,634.8 L760.1,645.0 L761.6,656.1 L763.1,667.5 L764.6,678.6 L766.1,689.5 L767.6,700.5 L769.1,711.3 L770.6,721.3 L772.1,729.8 L773.6,736.4 L775.1,740.9 L776.6,743.3 L778.1,744.1 L779.6,743.6 L781.1,742.2 L782.6,740.6 L784.1,739.1 L785.6,738.3 L787.1,738.4 L788.6,739.8 L790.1,742.6 L791.6,746.6 L793.1,752.0 L794.6,758.4 L796.1,765.5 L797.6,772.6 L799.1,780.0 L800.6,787.8 L802.1,796.2 L803.6,805.4 L805.1,815.3 L806.6,825.5 L808.1,835.6 L809.6,845.2 L811.1,854.0 L812.6,861.5 L814.1,867.7 L815.6,872.6 L817.1,876.6 L818.6,879.8 L820.1,882.4 L821.6,884.7 L823.1,886.7 L824.6,888.5 L826.1,890.1 L827.6,891.6 L829.1,892.9 L830.6,894.1 L832.1,895.2 L833.6,896.2 L835.1,897.2 L836.6,898.1 L838.1,898.9 L839.6,899.8 L841.1,900.7 L842.6,901.6 L844.1,902.5 L845.6,903.5 L847.1,904.6 L848.6,905.8 L850.1,907.0 L851.6,908.4 L853.1,909.9 L854.6,911.5 L856.1,913.3 L857.6,915.3 L859.1,917.5 L860.6,919.9 L862.1,922.5 L863.6,925.4 L865.1,928.5 L866.6,931.7 L868.1,934.9 L869.6,938.2 L871.1,941.3 L872.6,944.2 L874.1,946.8 L875.6,949.1 L877.1,950.9 L878.6,952.4 L880.1,953.5 L881.6,954.4 L883.1,955.0 L884.6,955.5 L886.1,955.9 L887.6,956.2 L889.1,956.4 L890.6,956.7 L892.1,957.0 L893.6,957.3 L895.1,957.7 L896.6,958.1 L898.1,958.6 L899.6,959.2 L901.1,960.0 L902.6,960.8 L904.1,961.7 L905.6,962.7 L907.1,963.7 L908.6,964.8 L910.1,965.8 L911.6,966.8 L913.1,967.8 L914.6,968.7 L916.1,969.6 L917.6,970.5 L919.1,971.3 L920.6,972.0 L922.1,972.7 L923.6,973.3 L925.1,973.9 L926.6,974.4 L928.1,974.8 L929.6,975.1 L931.1,975.4 L932.6,975.6 L934.1,975.8 L935.6,975.9 L937.1,976.1 L938.6,976.2 L940.1,976.4 L941.6,976.6 L943.1,976.9 L944.6,977.2 L946.1,977.7 L947.6,978.2 L949.1,978.7 L950.6,979.4 L952.1,980.0 L953.6,980.6 L955.1,981.2 L956.6,981.7 L958.1,982.2 L959.6,982.7 L961.1,983.0 L962.6,983.2 L964.1,983.3 L965.6,983.3 L967.1,983.2 L968.6,983.1 L970.1,983.1 L971.6,983.0 L973.1,983.0 L974.6,983.2 L976.1,983.5 L977.6,983.9 L979.1,984.4 L980.6,985.0 L982.1,985.7 L983.6,986.4 L985.1,987.1 L986.6,987.8 L988.1,988.5 L989.6,989.2 L991.1,989.8 L992.6,990.3 L994.1,990.8 L995.6,991.2 L997.1,991.5 L998.6,991.8 L1000.1,992.0 L1001.6,992.2 L1003.1,992.3 L1004.6,992.3 L1006.1,992.3 L1007.6,992.2 L1009.1,992.1 L1010.6,991.9 L1012.1,991.7 L1013.6,991.4 L1015.1,991.1 L1016.6,990.8 L1018.1,990.5 L1019.6,990.1 L1021.1,989.8 L1022.6,989.5 L1024.1,989.1 L1025.6,988.8 L1027.1,988.5 L1028.6,988.3 L1030.1,988.1 L1031.6,987.9 L1033.1,987.8 L1034.6,987.7 L1036.1,987.7 L1037.6,987.8 L1039.1,987.9 L1040.6,988.0 L1042.1,988.2 L1043.6,988.4 L1045.1,988.7 L1046.6,989.0 L1048.1,989.3 L1049.6,989.6 L1051.1,989.8 L1052.6,990.1 L1054.1,990.4 L1055.6,990.7 L1057.1,990.9 L1058.6,991.1 L1060.1,991.3 L1061.6,991.4 L1063.1,991.5 L1064.6,991.6 L1066.1,991.7 L1067.6,991.8 L1069.1,991.8 L1070.6,991.8 L1072.1,991.8 L1073.6,991.8 L1075.1,991.8 L1076.6,991.7 L1078.1,991.7 L1079.6,991.6 L1081.1,991.5 L1082.6,991.5 L1084.1,991.4 L1085.6,991.3 L1087.1,991.1 L1088.6,991.0 L1090.1,990.9 L1091.6,990.8 L1093.1,990.7 L1094.6,990.5 L1096.1,990.4 L1097.6,990.3 L1099.1,990.1 L1100.6,990.0 L1102.1,989.9 L1103.6,989.8 L1105.1,989.7 L1106.6,989.6 L1108.1,989.5 L1109.6,989.4 L1111.1,989.3 L1112.6,989.3 L1114.1,989.2 L1115.6,989.2 L1117.1,989.2 L1118.6,989.2 L1119.2,989.2" fill="none" stroke="#0f718e" stroke-width="2.0" stroke-linejoin="round"/><rect x="474.20" y="982.10" width="398.60" height="3.8" fill="#000"/><rect x="710.00" y="678.20" width="2.0" height="313.80" fill="#00c0bf" fill-opacity="0.65"/><text x="645.88" y="652.90" font-size="18.218" fill="#262626" textLength="90.85" lengthAdjust="spacingAndGlyphs">mean=3.9</text><text x="605.17" y="738.00" font-size="18.218" font-weight="bold" fill="#00c0bf" textLength="172.96" lengthAdjust="spacingAndGlyphs">55.4% &lt;5&lt; 44.6%</text><text x="635.61" y="865.80" font-size="18.218" fill="#262626" textLength="75.43" lengthAdjust="spacingAndGlyphs">94% HDI</text><text x="434.03" y="963.30" font-size="18.391" fill="#262626" textLength="33.53" lengthAdjust="spacingAndGlyphs">-7.8</text><text x="878.45" y="963.30" font-size="18.391" fill="#262626" textLength="21.21" lengthAdjust="spacingAndGlyphs">14</text></g>
<g><text x="1763.35" y="541.90" font-size="20.685" font-weight="bold" fill="#262626" textLength="57.85" lengthAdjust="spacingAndGlyphs">theta</text><text x="1711.79" y="563.95" font-size="20.685" font-weight="bold" fill="#262626" textLength="160.22" lengthAdjust="spacingAndGlyphs">Phillips Exeter</text><rect x="1213" y="1013" width="1159" height="1" fill="#808080"/><rect x="1294.85" y="1014" width="1.1" height="4" fill="#808080"/><text x="1279.12" y="1034.70" font-size="16.960" fill="#262626" textLength="32.42" lengthAdjust="spacingAndGlyphs">−15</text><rect x="1425.15" y="1014" width="1.1" height="4" fill="#808080"/><text x="1409.24" y="1034.70" font-size="16.960" fill="#262626" textLength="32.72" lengthAdjust="spacingAndGlyphs">−10</text><rect x="1555.55" y="1014" width="1.1" height="4" fill="#808080"/><text x="1544.89" y="1034.70" font-size="16.960" fill="#262626" textLength="22.28" lengthAdjust="spacingAndGlyphs">−5</text><rect x="1685.85" y="1014" width="1.1" height="4" fill="#808080"/><text x="1681.71" y="1034.70" font-size="16.960" fill="#262626" textLength="9.38" lengthAdjust="spacingAndGlyphs">0</text><rect x="1815.75" y="1014" width="1.1" height="4" fill="#808080"/><text x="1811.89" y="1034.70" font-size="16.960" fill="#262626" textLength="8.85" lengthAdjust="spacingAndGlyphs">5</text><rect x="1945.55" y="1014" width="1.1" height="4" fill="#808080"/><text x="1935.99" y="1034.70" font-size="16.960" fill="#262626" textLength="19.57" lengthAdjust="spacingAndGlyphs">10</text><rect x="2075.95" y="1014" width="1.1" height="4" fill="#808080"/><text x="2066.58" y="1034.70" font-size="16.960" fill="#262626" textLength="19.25" lengthAdjust="spacingAndGlyphs">15</text><rect x="2205.75" y="1014" width="1.1" height="4" fill="#808080"/><text x="2196.35" y="1034.70" font-size="16.960" fill="#262626" textLength="19.71" lengthAdjust="spacingAndGlyphs">20</text><rect x="2335.65" y="1014" width="1.1" height="4" fill="#808080"/><text x="2326.43" y="1034.70" font-size="16.960" fill="#262626" textLength="19.40" lengthAdjust="spacingAndGlyphs">25</text><path d="M1265.1,989.2 L1266.6,989.4 L1268.1,989.6 L1269.6,989.8 L1271.1,989.9 L1272.6,990.1 L1274.1,990.3 L1275.6,990.5 L1277.1,990.7 L1278.6,990.8 L1280.1,991.0 L1281.6,991.2 L1283.1,991.3 L1284.6,991.5 L1286.1,991.6 L1287.6,991.8 L1289.1,991.9 L1290.6,992.1 L1292.1,992.2 L1293.6,992.3 L1295.1,992.4 L1296.6,992.6 L1298.1,992.7 L1299.6,992.8 L1301.1,992.9 L1302.6,993.0 L1304.1,993.1 L1305.6,993.2 L1307.1,993.3 L1308.6,993.3 L1310.1,993.4 L1311.6,993.5 L1313.1,993.5 L1314.6,993.6 L1316.1,993.6 L1317.6,993.6 L1319.1,993.7 L1320.6,993.7 L1322.1,993.7 L1323.6,993.7 L1325.1,993.7 L1326.6,993.6 L1328.1,993.6 L1329.6,993.6 L1331.1,993.5 L1332.6,993.5 L1334.1,993.4 L1335.6,993.4 L1337.1,993.3 L1338.6,993.2 L1340.1,993.1 L1341.6,993.0 L1343.1,992.8 L1344.6,992.7 L1346.1,992.6 L1347.6,992.4 L1349.1,992.2 L1350.6,992.1 L1352.1,991.9 L1353.6,991.7 L1355.1,991.5 L1356.6,991.3 L1358.1,991.0 L1359.6,990.8 L1361.1,990.6 L1362.6,990.4 L1364.1,990.2 L1365.6,990.0 L1367.1,989.8 L1368.6,989.6 L1370.1,989.4 L1371.6,989.2 L1373.1,989.1 L1374.6,988.9 L1376.1,988.8 L1377.6,988.7 L1379.1,988.6 L1380.6,988.6 L1382.1,988.5 L1383.6,988.5 L1385.1,988.4 L1386.6,988.4 L1388.1,988.4 L1389.6,988.4 L1391.1,988.3 L1392.6,988.3 L1394.1,988.2 L1395.6,988.2 L1397.1,988.1 L1398.6,987.9 L1400.1,987.8 L1401.6,987.6 L1403.1,987.3 L1404.6,987.0 L1406.1,986.7 L1407.6,986.4 L1409.1,986.0 L1410.6,985.5 L1412.1,985.1 L1413.6,984.6 L1415.1,984.0 L1416.6,983.5 L1418.1,982.9 L1419.6,982.2 L1421.1,981.5 L1422.6,980.9 L1424.1,980.2 L1425.6,979.4 L1427.1,978.7 L1428.6,978.0 L1430.1,977.3 L1431.6,976.7 L1433.1,976.1 L1434.6,975.5 L1436.1,974.9 L1437.6,974.4 L1439.1,974.0 L1440.6,973.6 L1442.1,973.3 L1443.6,973.0 L1445.1,972.8 L1446.6,972.7 L1448.1,972.6 L1449.6,972.6 L1451.1,972.7 L1452.6,972.8 L1454.1,973.0 L1455.6,973.2 L1457.1,973.4 L1458.6,973.7 L1460.1,974.0 L1461.6,974.2 L1463.1,974.5 L1464.6,974.8 L1466.1,975.0 L1467.6,975.3 L1469.1,975.5 L1470.6,975.7 L1472.1,975.9 L1473.6,976.0 L1475.1,976.1 L1476.6,976.2 L1478.1,976.2 L1479.6,976.2 L1481.1,976.1 L1482.6,976.0 L1484.1,975.9 L1485.6,975.7 L1487.1,975.5 L1488.6,975.3 L1490.1,975.0 L1491.6,974.8 L1493.1,974.5 L1494.6,974.2 L1496.1,973.9 L1497.6,973.7 L1499.1,973.4 L1500.6,973.1 L1502.1,972.8 L1503.6,972.5 L1505.1,972.2 L1506.6,971.9 L1508.1,971.6 L1509.6,971.1 L1511.1,970.7 L1512.6,970.1 L1514.1,969.5 L1515.6,968.7 L1517.1,967.9 L1518.6,967.0 L1520.1,966.0 L1521.6,965.0 L1523.1,963.9 L1524.6,962.9 L1526.1,961.8 L1527.6,960.7 L1529.1,959.7 L1530.6,958.8 L1532.1,957.9 L1533.6,957.1 L1535.1,956.3 L1536.6,955.7 L1538.1,955.1 L1539.6,954.5 L1541.1,954.0 L1542.6,953.6 L1544.1,953.3 L1545.6,953.0 L1547.1,952.8 L1548.6,952.7 L1550.1,952.5 L1551.6,952.4 L1553.1,952.2 L1554.6,951.9 L1556.1,951.6 L1557.6,951.2 L1559.1,950.6 L1560.6,949.9 L1562.1,949.0 L1563.6,948.0 L1565.1,946.8 L1566.6,945.4 L1568.1,943.8 L1569.6,942.1 L1571.1,940.3 L1572.6,938.4 L1574.1,936.3 L1575.6,934.2 L1577.1,932.1 L1578.6,930.0 L1580.1,928.0 L1581.6,926.0 L1583.1,924.2 L1584.6,922.5 L1586.1,921.0 L1587.6,919.7 L1589.1,918.6 L1590.6,917.7 L1592.1,916.9 L1593.6,916.3 L1595.1,915.7 L1596.6,915.1 L1598.1,914.5 L1599.6,913.9 L1601.1,913.2 L1602.6,912.3 L1604.1,911.2 L1605.6,910.0 L1607.1,908.7 L1608.6,907.2 L1610.1,905.6 L1611.6,904.0 L1613.1,902.3 L1614.6,900.6 L1616.1,898.9 L1617.6,897.2 L1619.1,895.5 L1620.6,893.8 L1622.1,892.2 L1623.6,890.5 L1625.1,888.8 L1626.6,887.2 L1628.1,885.4 L1629.6,883.7 L1631.1,881.9 L1632.6,880.1 L1634.1,878.1 L1635.6,876.2 L1637.1,874.1 L1638.6,871.9 L1640.1,869.6 L1641.6,867.0 L1643.1,864.2 L1644.6,861.2 L1646.1,857.9 L1647.6,854.3 L1649.1,850.5 L1650.6,846.6 L1652.1,842.7 L1653.6,838.8 L1655.1,834.9 L1656.6,831.2 L1658.1,827.7 L1659.6,824.5 L1661.1,821.6 L1662.6,819.2 L1664.1,817.1 L1665.6,815.5 L1667.1,814.2 L1668.6,813.1 L1670.1,812.2 L1671.6,811.5 L1673.1,810.8 L1674.6,810.1 L1676.1,809.2 L1677.6,808.2 L1679.1,807.0 L1680.6,805.5 L1682.1,803.6 L1683.6,801.3 L1685.1,798.5 L1686.6,795.1 L1688.1,791.2 L1689.6,786.5 L1691.1,781.1 L1692.6,774.9 L1694.1,767.9 L1695.6,760.0 L1697.1,751.2 L1698.6,741.8 L1700.1,732.0 L1701.6,722.2 L1703.1,712.6 L1704.6,703.6 L1706.1,695.2 L1707.6,687.5 L1709.1,680.3 L1710.6,673.5 L1712.1,667.1 L1713.6,661.6 L1715.1,657.1 L1716.6,653.9 L1718.1,651.9 L1719.6,650.9 L1721.1,650.6 L1722.6,651.0 L1724.1,651.8 L1725.6,653.2 L1727.1,654.9 L1728.6,656.8 L1730.1,659.0 L1731.6,661.2 L1733.1,663.3 L1734.6,665.3 L1736.1,667.0 L1737.6,668.2 L1739.1,668.8 L1740.6,668.6 L1742.1,667.8 L1743.6,666.4 L1745.1,664.8 L1746.6,662.9 L1748.1,661.0 L1749.6,658.9 L1751.1,656.8 L1752.6,654.8 L1754.1,652.8 L1755.6,650.9 L1757.1,649.2 L1758.6,647.7 L1760.1,646.5 L1761.6,645.7 L1763.1,645.2 L1764.6,645.2 L1766.1,645.6 L1767.6,646.3 L1769.1,647.5 L1770.6,648.9 L1772.1,650.6 L1773.6,652.5 L1775.1,654.5 L1776.6,656.6 L1778.1,658.7 L1779.6,660.8 L1781.1,662.7 L1782.6,664.5 L1784.1,666.1 L1785.6,667.4 L1787.1,668.5 L1788.6,669.3 L1790.1,669.9 L1791.6,670.2 L1793.1,670.3 L1794.6,670.2 L1796.1,669.9 L1797.6,669.5 L1799.1,669.0 L1800.6,668.3 L1802.1,667.6 L1803.6,666.8 L1805.1,666.0 L1806.6,665.2 L1808.1,664.4 L1809.6,663.5 L1811.1,662.6 L1812.6,661.7 L1814.1,660.8 L1815.6,659.8 L1817.1,658.9 L1818.6,657.9 L1820.1,656.8 L1821.6,655.7 L1823.1,654.4 L1824.6,652.9 L1826.1,651.1 L1827.6,648.9 L1829.1,646.3 L1830.6,643.3 L1832.1,639.6 L1833.6,635.6 L1835.1,631.2 L1836.6,626.7 L1838.1,622.2 L1839.6,617.6 L1841.1,613.1 L1842.6,608.7 L1844.1,604.4 L1845.6,600.4 L1847.1,596.7 L1848.6,593.7 L1850.1,591.3 L1851.6,589.7 L1853.1,588.7 L1854.6,588.2 L1856.1,588.3 L1857.6,588.9 L1859.1,589.9 L1860.6,591.3 L1862.1,593.1 L1863.6,595.2 L1865.1,597.6 L1866.6,600.1 L1868.1,602.7 L1869.6,605.2 L1871.1,607.5 L1872.6,609.7 L1874.1,611.7 L1875.6,613.6 L1877.1,615.3 L1878.6,617.0 L1880.1,618.7 L1881.6,620.4 L1883.1,622.2 L1884.6,624.2 L1886.1,626.2 L1887.6,628.5 L1889.1,630.9 L1890.6,633.5 L1892.1,636.4 L1893.6,639.5 L1895.1,643.0 L1896.6,646.7 L1898.1,650.7 L1899.6,655.0 L1901.1,659.7 L1902.6,664.7 L1904.1,669.9 L1905.6,675.2 L1907.1,680.5 L1908.6,685.7 L1910.1,690.6 L1911.6,695.2 L1913.1,699.4 L1914.6,703.2 L1916.1,706.6 L1917.6,709.7 L1919.1,712.3 L1920.6,714.5 L1922.1,716.6 L1923.6,718.5 L1925.1,720.4 L1926.6,722.4 L1928.1,724.6 L1929.6,727.1 L1931.1,730.1 L1932.6,733.5 L1934.1,737.2 L1935.6,741.3 L1937.1,745.8 L1938.6,750.5 L1940.1,755.5 L1941.6,760.7 L1943.1,766.0 L1944.6,771.2 L1946.1,776.1 L1947.6,780.8 L1949.1,785.4 L1950.6,789.7 L1952.1,794.0 L1953.6,798.2 L1955.1,802.3 L1956.6,806.5 L1958.1,810.7 L1959.6,814.9 L1961.1,819.0 L1962.6,823.2 L1964.1,827.3 L1965.6,831.4 L1967.1,835.5 L1968.6,839.5 L1970.1,843.4 L1971.6,847.2 L1973.1,850.8 L1974.6,854.3 L1976.1,857.5 L1977.6,860.4 L1979.1,863.1 L1980.6,865.4 L1982.1,867.4 L1983.6,869.1 L1985.1,870.7 L1986.6,872.1 L1988.1,873.3 L1989.6,874.6 L1991.1,875.8 L1992.6,877.1 L1994.1,878.6 L1995.6,880.2 L1997.1,882.0 L1998.6,884.0 L2000.1,886.1 L2001.6,888.4 L2003.1,890.8 L2004.6,893.3 L2006.1,895.9 L2007.6,898.5 L2009.1,901.3 L2010.6,904.0 L2012.1,906.7 L2013.6,909.4 L2015.1,912.1 L2016.6,914.7 L2018.1,917.1 L2019.6,919.5 L2021.1,921.7 L2022.6,923.7 L2024.1,925.6 L2025.6,927.4 L2027.1,928.9 L2028.6,930.2 L2030.1,931.4 L2031.6,932.4 L2033.1,933.1 L2034.6,933.7 L2036.1,934.1 L2037.6,934.5 L2039.1,934.7 L2040.6,934.9 L2042.1,935.1 L2043.6,935.2 L2045.1,935.4 L2046.6,935.7 L2048.1,936.1 L2049.6,936.5 L2051.1,937.0 L2052.6,937.6 L2054.1,938.3 L2055.6,939.0 L2057.1,939.8 L2058.6,940.7 L2060.1,941.7 L2061.6,942.7 L2063.1,943.7 L2064.6,944.7 L2066.1,945.8 L2067.6,946.8 L2069.1,947.8 L2070.6,948.7 L2072.1,949.6 L2073.6,950.3 L2075.1,951.0 L2076.6,951.6 L2078.1,952.1 L2079.6,952.5 L2081.1,952.9 L2082.6,953.2 L2084.1,953.5 L2085.6,953.7 L2087.1,954.0 L2088.6,954.2 L2090.1,954.4 L2091.6,954.7 L2093.1,954.9 L2094.6,955.2 L2096.1,955.6 L2097.6,955.9 L2099.1,956.4 L2100.6,956.8 L2102.1,957.3 L2103.6,957.9 L2105.1,958.5 L2106.6,959.2 L2108.1,960.0 L2109.6,960.8 L2111.1,961.7 L2112.6,962.7 L2114.1,963.6 L2115.6,964.6 L2117.1,965.7 L2118.6,966.7 L2120.1,967.7 L2121.6,968.8 L2123.1,969.8 L2124.6,970.8 L2126.1,971.8 L2127.6,972.8 L2129.1,973.7 L2130.6,974.6 L2132.1,975.4 L2133.6,976.2 L2135.1,977.0 L2136.6,977.7 L2138.1,978.4 L2139.6,979.0 L2141.1,979.6 L2142.6,980.1 L2144.1,980.6 L2145.6,981.0 L2147.1,981.4 L2148.6,981.7 L2150.1,982.0 L2151.6,982.3 L2153.1,982.4 L2154.6,982.6 L2156.1,982.7 L2157.6,982.8 L2159.1,982.9 L2160.6,983.0 L2162.1,983.1 L2163.6,983.1 L2165.1,983.2 L2166.6,983.3 L2168.1,983.4 L2169.6,983.5 L2171.1,983.6 L2172.6,983.8 L2174.1,984.0 L2175.6,984.3 L2177.1,984.6 L2178.6,984.9 L2180.1,985.2 L2181.6,985.5 L2183.1,985.9 L2184.6,986.2 L2186.1,986.6 L2187.6,987.0 L2189.1,987.3 L2190.6,987.7 L2192.1,988.1 L2193.6,988.4 L2195.1,988.7 L2196.6,989.0 L2198.1,989.2 L2199.6,989.5 L2201.1,989.6 L2202.6,989.8 L2204.1,989.9 L2205.6,990.0 L2207.1,990.0 L2208.6,990.0 L2210.1,989.9 L2211.6,989.8 L2213.1,989.7 L2214.6,989.6 L2216.1,989.5 L2217.6,989.3 L2219.1,989.1 L2220.6,988.9 L2222.1,988.7 L2223.6,988.5 L2225.1,988.3 L2226.6,988.2 L2228.1,988.0 L2229.6,987.8 L2231.1,987.6 L2232.6,987.5 L2234.1,987.3 L2235.6,987.2 L2237.1,987.2 L2238.6,987.1 L2240.1,987.1 L2241.6,987.1 L2243.1,987.1 L2244.6,987.2 L2246.1,987.4 L2247.6,987.5 L2249.1,987.7 L2250.6,987.9 L2252.1,988.1 L2253.6,988.3 L2255.1,988.5 L2256.6,988.8 L2258.1,989.0 L2259.6,989.3 L2261.1,989.5 L2262.6,989.7 L2264.1,989.9 L2265.6,990.1 L2267.1,990.3 L2268.6,990.5 L2270.1,990.6 L2271.6,990.7 L2273.1,990.7 L2274.6,990.8 L2276.1,990.8 L2277.6,990.7 L2279.1,990.7 L2280.6,990.6 L2282.1,990.5 L2283.6,990.4 L2285.1,990.2 L2286.6,990.1 L2288.1,989.9 L2289.6,989.7 L2291.1,989.5 L2292.6,989.4 L2294.1,989.2 L2295.6,989.0 L2297.1,988.8 L2298.6,988.6 L2300.1,988.5 L2301.6,988.3 L2303.1,988.2 L2304.6,988.1 L2306.1,988.0 L2307.6,987.9 L2309.1,987.9 L2310.6,987.8 L2312.1,987.9 L2313.6,987.9 L2315.1,988.0 L2316.6,988.1 L2318.1,988.2 L2318.6,988.3" fill="none" stroke="#0f718e" stroke-width="2.0" stroke-linejoin="round"/><rect x="1569.30" y="982.10" width="497.20" height="3.8" fill="#000"/><rect x="1815.20" y="678.20" width="2.0" height="313.80" fill="#00c0bf" fill-opacity="0.65"/><text x="1766.88" y="652.90" font-size="18.218" fill="#262626" textLength="90.85" lengthAdjust="spacingAndGlyphs">mean=4.9</text><text x="1725.83" y="738.00" font-size="18.218" font-weight="bold" fill="#00c0bf" textLength="173.18" lengthAdjust="spacingAndGlyphs">49.9% &lt;5&lt; 50.1%</text><text x="1780.61" y="865.80" font-size="18.218" fill="#262626" textLength="75.43" lengthAdjust="spacingAndGlyphs">94% HDI</text><text x="1529.30" y="963.30" font-size="18.391" fill="#262626" textLength="33.15" lengthAdjust="spacingAndGlyphs">-4.5</text><text x="2072.94" y="963.30" font-size="18.391" fill="#262626" textLength="20.87" lengthAdjust="spacingAndGlyphs">15</text></g>
<g><text x="2959.35" y="541.90" font-size="20.685" font-weight="bold" fill="#262626" textLength="57.85" lengthAdjust="spacingAndGlyphs">theta</text><text x="2934.14" y="563.95" font-size="20.685" font-weight="bold" fill="#262626" textLength="108.14" lengthAdjust="spacingAndGlyphs">Hotchkiss</text><rect x="2409" y="1013" width="1159" height="1" fill="#808080"/><rect x="2477.05" y="1014" width="1.1" height="4" fill="#808080"/><text x="2461.14" y="1034.70" font-size="16.960" fill="#262626" textLength="32.72" lengthAdjust="spacingAndGlyphs">−20</text><rect x="2731.75" y="1014" width="1.1" height="4" fill="#808080"/><text x="2715.84" y="1034.70" font-size="16.960" fill="#262626" textLength="32.72" lengthAdjust="spacingAndGlyphs">−10</text><rect x="2986.05" y="1014" width="1.1" height="4" fill="#808080"/><text x="2981.91" y="1034.70" font-size="16.960" fill="#262626" textLength="9.38" lengthAdjust="spacingAndGlyphs">0</text><rect x="3240.25" y="1014" width="1.1" height="4" fill="#808080"/><text x="3230.69" y="1034.70" font-size="16.960" fill="#262626" textLength="19.57" lengthAdjust="spacingAndGlyphs">10</text><rect x="3494.55" y="1014" width="1.1" height="4" fill="#808080"/><text x="3485.15" y="1034.70" font-size="16.960" fill="#262626" textLength="19.71" lengthAdjust="spacingAndGlyphs">20</text><path d="M2461.6,988.6 L2463.1,989.1 L2464.6,989.6 L2466.1,990.1 L2467.6,990.5 L2469.1,990.8 L2470.6,991.1 L2472.1,991.4 L2473.6,991.6 L2475.1,991.8 L2476.6,992.0 L2478.1,992.1 L2479.6,992.2 L2481.1,992.3 L2482.6,992.3 L2484.1,992.3 L2485.6,992.3 L2487.1,992.3 L2488.6,992.3 L2490.1,992.2 L2491.6,992.1 L2493.1,992.0 L2494.6,991.9 L2496.1,991.8 L2497.6,991.7 L2499.1,991.6 L2500.6,991.5 L2502.1,991.4 L2503.6,991.3 L2505.1,991.2 L2506.6,991.1 L2508.1,991.0 L2509.6,990.9 L2511.1,990.8 L2512.6,990.8 L2514.1,990.7 L2515.6,990.7 L2517.1,990.7 L2518.6,990.7 L2520.1,990.8 L2521.6,990.8 L2523.1,990.9 L2524.6,991.0 L2526.1,991.1 L2527.6,991.2 L2529.1,991.3 L2530.6,991.4 L2532.1,991.5 L2533.6,991.6 L2535.1,991.8 L2536.6,991.9 L2538.1,992.0 L2539.6,992.2 L2541.1,992.3 L2542.6,992.4 L2544.1,992.5 L2545.6,992.6 L2547.1,992.7 L2548.6,992.7 L2550.1,992.8 L2551.6,992.8 L2553.1,992.9 L2554.6,992.9 L2556.1,992.9 L2557.6,992.9 L2559.1,992.9 L2560.6,992.9 L2562.1,992.8 L2563.6,992.8 L2565.1,992.7 L2566.6,992.6 L2568.1,992.5 L2569.6,992.4 L2571.1,992.3 L2572.6,992.1 L2574.1,991.9 L2575.6,991.8 L2577.1,991.6 L2578.6,991.4 L2580.1,991.2 L2581.6,990.9 L2583.1,990.7 L2584.6,990.5 L2586.1,990.3 L2587.6,990.1 L2589.1,989.9 L2590.6,989.7 L2592.1,989.5 L2593.6,989.3 L2595.1,989.2 L2596.6,989.1 L2598.1,989.0 L2599.6,988.9 L2601.1,988.9 L2602.6,988.9 L2604.1,988.9 L2605.6,989.0 L2607.1,989.1 L2608.6,989.2 L2610.1,989.4 L2611.6,989.6 L2613.1,989.8 L2614.6,990.0 L2616.1,990.2 L2617.6,990.5 L2619.1,990.7 L2620.6,990.9 L2622.1,991.2 L2623.6,991.4 L2625.1,991.6 L2626.6,991.8 L2628.1,992.0 L2629.6,992.1 L2631.1,992.3 L2632.6,992.4 L2634.1,992.5 L2635.6,992.5 L2637.1,992.5 L2638.6,992.5 L2640.1,992.4 L2641.6,992.3 L2643.1,992.1 L2644.6,991.9 L2646.1,991.6 L2647.6,991.4 L2649.1,991.0 L2650.6,990.7 L2652.1,990.3 L2653.6,989.9 L2655.1,989.4 L2656.6,988.9 L2658.1,988.4 L2659.6,987.9 L2661.1,987.4 L2662.6,986.8 L2664.1,986.3 L2665.6,985.7 L2667.1,985.2 L2668.6,984.7 L2670.1,984.2 L2671.6,983.8 L2673.1,983.4 L2674.6,983.0 L2676.1,982.7 L2677.6,982.5 L2679.1,982.3 L2680.6,982.2 L2682.1,982.1 L2683.6,982.1 L2685.1,982.1 L2686.6,982.2 L2688.1,982.3 L2689.6,982.4 L2691.1,982.5 L2692.6,982.7 L2694.1,982.9 L2695.6,983.1 L2697.1,983.3 L2698.6,983.5 L2700.1,983.6 L2701.6,983.8 L2703.1,984.0 L2704.6,984.1 L2706.1,984.3 L2707.6,984.3 L2709.1,984.4 L2710.6,984.4 L2712.1,984.4 L2713.6,984.3 L2715.1,984.2 L2716.6,984.0 L2718.1,983.8 L2719.6,983.5 L2721.1,983.1 L2722.6,982.7 L2724.1,982.2 L2725.6,981.6 L2727.1,980.9 L2728.6,980.1 L2730.1,979.3 L2731.6,978.4 L2733.1,977.4 L2734.6,976.3 L2736.1,975.2 L2737.6,974.0 L2739.1,972.9 L2740.6,971.8 L2742.1,970.7 L2743.6,969.7 L2745.1,968.7 L2746.6,967.9 L2748.1,967.2 L2749.6,966.5 L2751.1,966.0 L2752.6,965.6 L2754.1,965.4 L2755.6,965.2 L2757.1,965.1 L2758.6,965.1 L2760.1,965.2 L2761.6,965.3 L2763.1,965.6 L2764.6,965.8 L2766.1,966.1 L2767.6,966.4 L2769.1,966.7 L2770.6,967.0 L2772.1,967.3 L2773.6,967.5 L2775.1,967.7 L2776.6,967.9 L2778.1,968.0 L2779.6,968.1 L2781.1,968.1 L2782.6,968.1 L2784.1,968.1 L2785.6,968.0 L2787.1,967.9 L2788.6,967.8 L2790.1,967.6 L2791.6,967.5 L2793.1,967.3 L2794.6,967.0 L2796.1,966.8 L2797.6,966.6 L2799.1,966.3 L2800.6,966.0 L2802.1,965.7 L2803.6,965.2 L2805.1,964.7 L2806.6,964.1 L2808.1,963.4 L2809.6,962.5 L2811.1,961.5 L2812.6,960.4 L2814.1,959.1 L2815.6,957.7 L2817.1,956.2 L2818.6,954.5 L2820.1,952.6 L2821.6,950.6 L2823.1,948.6 L2824.6,946.4 L2826.1,944.2 L2827.6,942.0 L2829.1,939.8 L2830.6,937.6 L2832.1,935.5 L2833.6,933.5 L2835.1,931.6 L2836.6,929.8 L2838.1,928.2 L2839.6,926.6 L2841.1,925.2 L2842.6,923.9 L2844.1,922.7 L2845.6,921.7 L2847.1,920.7 L2848.6,919.9 L2850.1,919.2 L2851.6,918.6 L2853.1,918.0 L2854.6,917.6 L2856.1,917.2 L2857.6,916.8 L2859.1,916.4 L2860.6,916.1 L2862.1,915.7 L2863.6,915.2 L2865.1,914.8 L2866.6,914.2 L2868.1,913.6 L2869.6,912.8 L2871.1,912.0 L2872.6,911.0 L2874.1,909.8 L2875.6,908.5 L2877.1,907.1 L2878.6,905.5 L2880.1,903.9 L2881.6,902.2 L2883.1,900.3 L2884.6,898.5 L2886.1,896.5 L2887.6,894.6 L2889.1,892.6 L2890.6,890.6 L2892.1,888.5 L2893.6,886.4 L2895.1,884.2 L2896.6,882.0 L2898.1,879.6 L2899.6,877.2 L2901.1,874.7 L2902.6,872.1 L2904.1,869.3 L2905.6,866.4 L2907.1,863.5 L2908.6,860.5 L2910.1,857.5 L2911.6,854.4 L2913.1,851.4 L2914.6,848.5 L2916.1,845.6 L2917.6,842.8 L2919.1,840.1 L2920.6,837.6 L2922.1,835.2 L2923.6,833.0 L2925.1,831.0 L2926.6,829.1 L2928.1,827.2 L2929.6,825.5 L2931.1,823.9 L2932.6,822.3 L2934.1,820.8 L2935.6,819.3 L2937.1,817.9 L2938.6,816.4 L2940.1,814.9 L2941.6,813.4 L2943.1,811.9 L2944.6,810.4 L2946.1,808.9 L2947.6,807.4 L2949.1,806.0 L2950.6,804.6 L2952.1,803.3 L2953.6,802.0 L2955.1,800.8 L2956.6,799.7 L2958.1,798.7 L2959.6,797.7 L2961.1,796.8 L2962.6,796.0 L2964.1,795.1 L2965.6,794.3 L2967.1,793.5 L2968.6,792.6 L2970.1,791.7 L2971.6,790.7 L2973.1,789.7 L2974.6,788.5 L2976.1,787.0 L2977.6,785.3 L2979.1,783.2 L2980.6,780.6 L2982.1,777.4 L2983.6,773.7 L2985.1,769.2 L2986.6,764.2 L2988.1,759.0 L2989.6,753.9 L2991.1,748.9 L2992.6,744.1 L2994.1,739.4 L2995.6,734.9 L2997.1,730.4 L2998.6,726.0 L3000.1,721.7 L3001.6,717.4 L3003.1,713.2 L3004.6,709.0 L3006.1,704.9 L3007.6,700.8 L3009.1,696.6 L3010.6,692.5 L3012.1,688.4 L3013.6,684.3 L3015.1,680.2 L3016.6,676.1 L3018.1,671.9 L3019.6,667.7 L3021.1,663.5 L3022.6,659.3 L3024.1,655.0 L3025.6,650.6 L3027.1,646.1 L3028.6,641.5 L3030.1,636.6 L3031.6,631.5 L3033.1,626.3 L3034.6,621.2 L3036.1,616.1 L3037.6,611.3 L3039.1,606.8 L3040.6,602.5 L3042.1,598.7 L3043.6,595.3 L3045.1,592.4 L3046.6,590.3 L3048.1,588.9 L3049.6,588.3 L3051.1,588.3 L3052.6,589.0 L3054.1,590.4 L3055.6,592.4 L3057.1,595.0 L3058.6,598.0 L3060.1,601.3 L3061.6,604.8 L3063.1,608.4 L3064.6,611.8 L3066.1,614.9 L3067.6,617.7 L3069.1,619.9 L3070.6,621.6 L3072.1,622.9 L3073.6,623.7 L3075.1,624.0 L3076.6,623.9 L3078.1,623.4 L3079.6,622.7 L3081.1,621.9 L3082.6,620.9 L3084.1,620.0 L3085.6,619.3 L3087.1,618.7 L3088.6,618.2 L3090.1,618.0 L3091.6,617.9 L3093.1,618.0 L3094.6,618.3 L3096.1,618.7 L3097.6,619.1 L3099.1,619.4 L3100.6,619.5 L3102.1,619.4 L3103.6,619.0 L3105.1,618.4 L3106.6,617.4 L3108.1,616.1 L3109.6,614.5 L3111.1,612.7 L3112.6,610.8 L3114.1,609.0 L3115.6,607.3 L3117.1,605.8 L3118.6,604.8 L3120.1,604.2 L3121.6,604.2 L3123.1,604.7 L3124.6,605.8 L3126.1,607.4 L3127.6,609.4 L3129.1,611.9 L3130.6,615.2 L3132.1,619.4 L3133.6,624.7 L3135.1,630.8 L3136.6,637.2 L3138.1,643.5 L3139.6,649.5 L3141.1,655.1 L3142.6,660.0 L3144.1,664.3 L3145.6,667.7 L3147.1,670.2 L3148.6,671.7 L3150.1,672.1 L3151.6,671.3 L3153.1,669.4 L3154.6,666.7 L3156.1,663.3 L3157.6,659.5 L3159.1,655.4 L3160.6,651.1 L3162.1,647.0 L3163.6,643.1 L3165.1,639.7 L3166.6,637.2 L3168.1,635.8 L3169.6,635.3 L3171.1,635.5 L3172.6,636.4 L3174.1,638.1 L3175.6,640.7 L3177.1,644.4 L3178.6,649.0 L3180.1,654.7 L3181.6,661.6 L3183.1,669.7 L3184.6,678.3 L3186.1,687.2 L3187.6,696.3 L3189.1,705.6 L3190.6,714.8 L3192.1,723.7 L3193.6,731.9 L3195.1,739.0 L3196.6,745.2 L3198.1,750.8 L3199.6,755.8 L3201.1,760.3 L3202.6,764.2 L3204.1,767.5 L3205.6,770.2 L3207.1,772.4 L3208.6,774.2 L3210.1,775.6 L3211.6,776.7 L3213.1,777.6 L3214.6,778.2 L3216.1,778.7 L3217.6,779.2 L3219.1,779.6 L3220.6,780.2 L3222.1,780.9 L3223.6,781.9 L3225.1,783.2 L3226.6,784.7 L3228.1,786.4 L3229.6,788.5 L3231.1,791.0 L3232.6,793.9 L3234.1,797.1 L3235.6,800.6 L3237.1,804.1 L3238.6,807.6 L3240.1,811.0 L3241.6,814.2 L3243.1,817.2 L3244.6,820.0 L3246.1,822.6 L3247.6,825.0 L3249.1,827.3 L3250.6,829.5 L3252.1,831.6 L3253.6,833.6 L3255.1,835.7 L3256.6,837.8 L3258.1,839.9 L3259.6,842.1 L3261.1,844.4 L3262.6,847.0 L3264.1,849.6 L3265.6,852.5 L3267.1,855.6 L3268.6,858.9 L3270.1,862.4 L3271.6,866.2 L3273.1,870.1 L3274.6,874.3 L3276.1,878.8 L3277.6,883.4 L3279.1,888.0 L3280.6,892.7 L3282.1,897.4 L3283.6,902.0 L3285.1,906.3 L3286.6,910.5 L3288.1,914.3 L3289.6,917.9 L3291.1,921.2 L3292.6,924.2 L3294.1,927.0 L3295.6,929.6 L3297.1,931.8 L3298.6,933.9 L3300.1,935.7 L3301.6,937.4 L3303.1,938.8 L3304.6,940.2 L3306.1,941.4 L3307.6,942.6 L3309.1,943.7 L3310.6,944.9 L3312.1,946.0 L3313.6,947.2 L3315.1,948.5 L3316.6,949.9 L3318.1,951.3 L3319.6,952.7 L3321.1,954.2 L3322.6,955.7 L3324.1,957.1 L3325.6,958.6 L3327.1,960.0 L3328.6,961.3 L3330.1,962.6 L3331.6,963.8 L3333.1,964.8 L3334.6,965.9 L3336.1,966.8 L3337.6,967.6 L3339.1,968.4 L3340.6,969.1 L3342.1,969.7 L3343.6,970.2 L3345.1,970.7 L3346.6,971.1 L3348.1,971.5 L3349.6,971.8 L3351.1,972.1 L3352.6,972.4 L3354.1,972.6 L3355.6,972.8 L3357.1,973.0 L3358.6,973.1 L3360.1,973.3 L3361.6,973.4 L3363.1,973.6 L3364.6,973.8 L3366.1,974.0 L3367.6,974.2 L3369.1,974.4 L3370.6,974.7 L3372.1,975.0 L3373.6,975.4 L3375.1,975.8 L3376.6,976.2 L3378.1,976.6 L3379.6,977.1 L3381.1,977.5 L3382.6,978.0 L3384.1,978.4 L3385.6,978.9 L3387.1,979.3 L3388.6,979.8 L3390.1,980.2 L3391.6,980.5 L3393.1,980.9 L3394.6,981.2 L3396.1,981.5 L3397.6,981.7 L3399.1,981.9 L3400.6,982.0 L3402.1,982.1 L3403.6,982.1 L3405.1,982.2 L3406.6,982.2 L3408.1,982.2 L3409.6,982.2 L3411.1,982.3 L3412.6,982.4 L3414.1,982.5 L3415.6,982.6 L3417.1,982.8 L3418.6,983.0 L3420.1,983.3 L3421.6,983.5 L3423.1,983.8 L3424.6,984.2 L3426.1,984.5 L3427.6,984.8 L3429.1,985.2 L3430.6,985.5 L3432.1,985.8 L3433.6,986.0 L3435.1,986.3 L3436.6,986.5 L3438.1,986.6 L3439.6,986.7 L3441.1,986.8 L3442.6,986.9 L3444.1,986.9 L3445.6,986.9 L3447.1,986.9 L3448.6,987.0 L3450.1,987.0 L3451.6,987.0 L3453.1,987.0 L3454.6,987.1 L3456.1,987.2 L3457.6,987.3 L3459.1,987.4 L3460.6,987.6 L3462.1,987.8 L3463.6,988.0 L3465.1,988.2 L3466.6,988.4 L3468.1,988.6 L3469.6,988.9 L3471.1,989.1 L3472.6,989.3 L3474.1,989.5 L3475.6,989.7 L3477.1,989.9 L3478.6,990.1 L3480.1,990.2 L3481.6,990.3 L3483.1,990.4 L3484.6,990.5 L3486.1,990.5 L3487.6,990.6 L3489.1,990.6 L3490.6,990.6 L3492.1,990.6 L3493.6,990.5 L3495.1,990.5 L3496.6,990.4 L3498.1,990.3 L3499.6,990.2 L3501.1,990.1 L3502.6,990.0 L3504.1,989.9 L3505.6,989.7 L3507.1,989.6 L3508.6,989.4 L3510.1,989.2 L3511.6,989.1 L3513.1,988.9 L3514.6,988.7 L3515.1,988.6" fill="none" stroke="#0f718e" stroke-width="2.0" stroke-linejoin="round"/><rect x="2822.10" y="982.10" width="461.70" height="3.8" fill="#000"/><rect x="3112.00" y="678.20" width="2.0" height="313.80" fill="#00c0bf" fill-opacity="0.65"/><text x="3033.72" y="652.90" font-size="18.218" fill="#262626" textLength="90.64" lengthAdjust="spacingAndGlyphs">mean=3.7</text><text x="2992.97" y="738.00" font-size="18.218" font-weight="bold" fill="#00c0bf" textLength="172.96" lengthAdjust="spacingAndGlyphs">58.7% &lt;5&lt; 41.3%</text><text x="3015.71" y="865.80" font-size="18.218" fill="#262626" textLength="75.43" lengthAdjust="spacingAndGlyphs">94% HDI</text><text x="2782.00" y="963.30" font-size="18.391" fill="#262626" textLength="33.15" lengthAdjust="spacingAndGlyphs">-6.5</text><text x="3290.16" y="963.30" font-size="18.391" fill="#262626" textLength="20.80" lengthAdjust="spacingAndGlyphs">12</text></g>
<g><text x="563.35" y="1064.90" font-size="20.685" font-weight="bold" fill="#262626" textLength="57.85" lengthAdjust="spacingAndGlyphs">theta</text><text x="516.01" y="1086.95" font-size="20.685" font-weight="bold" fill="#262626" textLength="152.23" lengthAdjust="spacingAndGlyphs">Lawrenceville</text><rect x="13" y="1536" width="1159" height="1" fill="#808080"/><rect x="43.35" y="1537" width="1.1" height="4" fill="#808080"/><text x="27.44" y="1557.70" font-size="16.960" fill="#262626" textLength="32.72" lengthAdjust="spacingAndGlyphs">−30</text><rect x="237.45" y="1537" width="1.1" height="4" fill="#808080"/><text x="221.54" y="1557.70" font-size="16.960" fill="#262626" textLength="32.72" lengthAdjust="spacingAndGlyphs">−20</text><rect x="431.55" y="1537" width="1.1" height="4" fill="#808080"/><text x="415.64" y="1557.70" font-size="16.960" fill="#262626" textLength="32.72" lengthAdjust="spacingAndGlyphs">−10</text><rect x="626.15" y="1537" width="1.1" height="4" fill="#808080"/><text x="622.01" y="1557.70" font-size="16.960" fill="#262626" textLength="9.38" lengthAdjust="spacingAndGlyphs">0</text><rect x="820.15" y="1537" width="1.1" height="4" fill="#808080"/><text x="810.59" y="1557.70" font-size="16.960" fill="#262626" textLength="19.57" lengthAdjust="spacingAndGlyphs">10</text><rect x="1014.75" y="1537" width="1.1" height="4" fill="#808080"/><text x="1005.35" y="1557.70" font-size="16.960" fill="#262626" textLength="19.71" lengthAdjust="spacingAndGlyphs">20</text><path d="M65.6,1512.2 L67.1,1512.5 L68.6,1512.7 L70.1,1513.0 L71.6,1513.3 L73.1,1513.5 L74.6,1513.7 L76.1,1514.0 L77.6,1514.2 L79.1,1514.4 L80.6,1514.6 L82.1,1514.8 L83.6,1515.0 L85.1,1515.2 L86.6,1515.3 L88.1,1515.5 L89.6,1515.6 L91.1,1515.8 L92.6,1515.9 L94.1,1516.1 L95.6,1516.2 L97.1,1516.3 L98.6,1516.4 L100.1,1516.5 L101.6,1516.6 L103.1,1516.7 L104.6,1516.8 L106.1,1516.9 L107.6,1516.9 L109.1,1517.0 L110.6,1517.0 L112.1,1517.1 L113.6,1517.1 L115.1,1517.2 L116.6,1517.2 L118.1,1517.2 L119.6,1517.2 L121.1,1517.2 L122.6,1517.2 L124.1,1517.2 L125.6,1517.2 L127.1,1517.1 L128.6,1517.1 L130.1,1517.1 L131.6,1517.0 L133.1,1517.0 L134.6,1516.9 L136.1,1516.8 L137.6,1516.8 L139.1,1516.7 L140.6,1516.6 L142.1,1516.5 L143.6,1516.4 L145.1,1516.3 L146.6,1516.2 L148.1,1516.1 L149.6,1516.0 L151.1,1515.8 L152.6,1515.7 L154.1,1515.5 L155.6,1515.4 L157.1,1515.2 L158.6,1515.1 L160.1,1514.9 L161.6,1514.8 L163.1,1514.6 L164.6,1514.5 L166.1,1514.3 L167.6,1514.2 L169.1,1514.1 L170.6,1514.0 L172.1,1513.9 L173.6,1513.8 L175.1,1513.7 L176.6,1513.7 L178.1,1513.7 L179.6,1513.7 L181.1,1513.7 L182.6,1513.8 L184.1,1513.9 L185.6,1513.9 L187.1,1514.0 L188.6,1514.2 L190.1,1514.3 L191.6,1514.4 L193.1,1514.5 L194.6,1514.7 L196.1,1514.8 L197.6,1515.0 L199.1,1515.1 L200.6,1515.3 L202.1,1515.4 L203.6,1515.6 L205.1,1515.7 L206.6,1515.9 L208.1,1516.0 L209.6,1516.1 L211.1,1516.2 L212.6,1516.3 L214.1,1516.4 L215.6,1516.5 L217.1,1516.6 L218.6,1516.7 L220.1,1516.8 L221.6,1516.9 L223.1,1517.0 L224.6,1517.0 L226.1,1517.1 L227.6,1517.1 L229.1,1517.2 L230.6,1517.2 L232.1,1517.3 L233.6,1517.3 L235.1,1517.3 L236.6,1517.3 L238.1,1517.3 L239.6,1517.4 L241.1,1517.3 L242.6,1517.3 L244.1,1517.3 L245.6,1517.3 L247.1,1517.3 L248.6,1517.2 L250.1,1517.2 L251.6,1517.2 L253.1,1517.1 L254.6,1517.0 L256.1,1517.0 L257.6,1516.9 L259.1,1516.8 L260.6,1516.7 L262.1,1516.6 L263.6,1516.5 L265.1,1516.4 L266.6,1516.3 L268.1,1516.2 L269.6,1516.0 L271.1,1515.9 L272.6,1515.7 L274.1,1515.6 L275.6,1515.4 L277.1,1515.3 L278.6,1515.1 L280.1,1514.9 L281.6,1514.7 L283.1,1514.6 L284.6,1514.4 L286.1,1514.2 L287.6,1514.1 L289.1,1514.0 L290.6,1513.9 L292.1,1513.8 L293.6,1513.7 L295.1,1513.7 L296.6,1513.7 L298.1,1513.7 L299.6,1513.7 L301.1,1513.8 L302.6,1513.9 L304.1,1514.0 L305.6,1514.2 L307.1,1514.3 L308.6,1514.4 L310.1,1514.5 L311.6,1514.6 L313.1,1514.7 L314.6,1514.7 L316.1,1514.7 L317.6,1514.7 L319.1,1514.6 L320.6,1514.4 L322.1,1514.2 L323.6,1513.9 L325.1,1513.6 L326.6,1513.3 L328.1,1512.9 L329.6,1512.6 L331.1,1512.2 L332.6,1511.8 L334.1,1511.5 L335.6,1511.2 L337.1,1510.9 L338.6,1510.6 L340.1,1510.4 L341.6,1510.2 L343.1,1510.1 L344.6,1510.0 L346.1,1510.0 L347.6,1510.1 L349.1,1510.2 L350.6,1510.3 L352.1,1510.4 L353.6,1510.6 L355.1,1510.8 L356.6,1511.0 L358.1,1511.2 L359.6,1511.3 L361.1,1511.5 L362.6,1511.6 L364.1,1511.7 L365.6,1511.8 L367.1,1511.8 L368.6,1511.8 L370.1,1511.8 L371.6,1511.8 L373.1,1511.7 L374.6,1511.7 L376.1,1511.6 L377.6,1511.4 L379.1,1511.3 L380.6,1511.1 L382.1,1511.0 L383.6,1510.8 L385.1,1510.6 L386.6,1510.4 L388.1,1510.2 L389.6,1509.9 L391.1,1509.7 L392.6,1509.5 L394.1,1509.2 L395.6,1509.0 L397.1,1508.7 L398.6,1508.5 L400.1,1508.2 L401.6,1508.0 L403.1,1507.8 L404.6,1507.5 L406.1,1507.3 L407.6,1507.1 L409.1,1507.0 L410.6,1506.8 L412.1,1506.6 L413.6,1506.5 L415.1,1506.4 L416.6,1506.2 L418.1,1506.1 L419.6,1505.9 L421.1,1505.7 L422.6,1505.5 L424.1,1505.3 L425.6,1505.0 L427.1,1504.6 L428.6,1504.2 L430.1,1503.7 L431.6,1503.2 L433.1,1502.6 L434.6,1501.9 L436.1,1501.2 L437.6,1500.4 L439.1,1499.6 L440.6,1498.8 L442.1,1498.0 L443.6,1497.2 L445.1,1496.4 L446.6,1495.7 L448.1,1495.0 L449.6,1494.4 L451.1,1493.9 L452.6,1493.5 L454.1,1493.2 L455.6,1493.1 L457.1,1493.0 L458.6,1493.2 L460.1,1493.5 L461.6,1493.9 L463.1,1494.4 L464.6,1494.9 L466.1,1495.4 L467.6,1495.8 L469.1,1496.1 L470.6,1496.3 L472.1,1496.1 L473.6,1495.7 L475.1,1495.0 L476.6,1494.0 L478.1,1492.6 L479.6,1491.0 L481.1,1489.1 L482.6,1486.9 L484.1,1484.5 L485.6,1481.9 L487.1,1479.3 L488.6,1476.6 L490.1,1474.1 L491.6,1471.8 L493.1,1469.8 L494.6,1468.0 L496.1,1466.6 L497.6,1465.5 L499.1,1464.7 L500.6,1464.2 L502.1,1464.0 L503.6,1464.1 L505.1,1464.4 L506.6,1464.9 L508.1,1465.6 L509.6,1466.3 L511.1,1467.0 L512.6,1467.6 L514.1,1468.0 L515.6,1468.3 L517.1,1468.3 L518.6,1468.0 L520.1,1467.3 L521.6,1466.3 L523.1,1464.9 L524.6,1463.2 L526.1,1461.2 L527.6,1459.0 L529.1,1456.7 L530.6,1454.2 L532.1,1451.6 L533.6,1448.9 L535.1,1446.2 L536.6,1443.4 L538.1,1440.6 L539.6,1437.9 L541.1,1435.2 L542.6,1432.7 L544.1,1430.2 L545.6,1427.9 L547.1,1425.7 L548.6,1423.8 L550.1,1422.1 L551.6,1420.5 L553.1,1419.2 L554.6,1418.0 L556.1,1416.8 L557.6,1415.8 L559.1,1414.8 L560.6,1413.8 L562.1,1412.8 L563.6,1411.7 L565.1,1410.5 L566.6,1409.2 L568.1,1407.8 L569.6,1406.3 L571.1,1404.8 L572.6,1403.2 L574.1,1401.5 L575.6,1399.8 L577.1,1398.1 L578.6,1396.4 L580.1,1394.6 L581.6,1392.8 L583.1,1391.1 L584.6,1389.5 L586.1,1388.0 L587.6,1386.7 L589.1,1385.6 L590.6,1384.8 L592.1,1384.1 L593.6,1383.4 L595.1,1382.5 L596.6,1381.3 L598.1,1379.7 L599.6,1377.5 L601.1,1374.7 L602.6,1371.2 L604.1,1367.2 L605.6,1362.5 L607.1,1357.1 L608.6,1351.1 L610.1,1344.7 L611.6,1337.9 L613.1,1331.1 L614.6,1324.4 L616.1,1317.9 L617.6,1311.9 L619.1,1306.1 L620.6,1300.5 L622.1,1295.0 L623.6,1289.2 L625.1,1283.3 L626.6,1277.6 L628.1,1272.7 L629.6,1268.8 L631.1,1265.9 L632.6,1263.8 L634.1,1262.2 L635.6,1261.1 L637.1,1260.3 L638.6,1259.7 L640.1,1259.2 L641.6,1258.6 L643.1,1257.9 L644.6,1256.9 L646.1,1255.5 L647.6,1253.5 L649.1,1250.9 L650.6,1247.6 L652.1,1243.8 L653.6,1239.5 L655.1,1235.0 L656.6,1230.4 L658.1,1225.9 L659.6,1221.8 L661.1,1217.9 L662.6,1214.3 L664.1,1210.9 L665.6,1207.7 L667.1,1204.8 L668.6,1201.9 L670.1,1199.3 L671.6,1196.7 L673.1,1194.1 L674.6,1191.3 L676.1,1188.2 L677.6,1184.6 L679.1,1180.0 L680.6,1174.1 L682.1,1167.0 L683.6,1158.9 L685.1,1150.2 L686.6,1141.7 L688.1,1134.0 L689.6,1127.4 L691.1,1121.7 L692.6,1117.0 L694.1,1113.4 L695.6,1111.4 L697.1,1111.3 L698.6,1113.1 L700.1,1116.5 L701.6,1121.5 L703.1,1127.8 L704.6,1135.2 L706.1,1143.5 L707.6,1152.2 L709.1,1160.6 L710.6,1167.8 L712.1,1173.7 L713.6,1177.9 L715.1,1180.6 L716.6,1181.8 L718.1,1181.8 L719.6,1180.9 L721.1,1179.0 L722.6,1176.3 L724.1,1173.2 L725.6,1169.9 L727.1,1167.0 L728.6,1164.5 L730.1,1162.4 L731.6,1160.8 L733.1,1159.7 L734.6,1159.0 L736.1,1158.6 L737.6,1158.4 L739.1,1158.2 L740.6,1157.8 L742.1,1157.2 L743.6,1156.5 L745.1,1155.6 L746.6,1154.8 L748.1,1154.3 L749.6,1154.0 L751.1,1154.2 L752.6,1154.9 L754.1,1156.4 L755.6,1158.7 L757.1,1162.3 L758.6,1167.6 L760.1,1174.9 L761.6,1183.3 L763.1,1191.7 L764.6,1199.4 L766.1,1206.6 L767.6,1213.5 L769.1,1220.3 L770.6,1226.7 L772.1,1232.3 L773.6,1236.9 L775.1,1240.2 L776.6,1242.6 L778.1,1244.3 L779.6,1245.8 L781.1,1247.2 L782.6,1248.8 L784.1,1250.7 L785.6,1253.0 L787.1,1255.6 L788.6,1258.7 L790.1,1262.2 L791.6,1265.9 L793.1,1269.9 L794.6,1273.8 L796.1,1277.8 L797.6,1281.9 L799.1,1286.3 L800.6,1291.0 L802.1,1296.0 L803.6,1301.2 L805.1,1306.5 L806.6,1311.8 L808.1,1316.9 L809.6,1321.6 L811.1,1326.0 L812.6,1329.8 L814.1,1333.3 L815.6,1336.6 L817.1,1339.7 L818.6,1342.8 L820.1,1346.0 L821.6,1349.4 L823.1,1353.1 L824.6,1357.0 L826.1,1361.0 L827.6,1365.2 L829.1,1369.5 L830.6,1373.8 L832.1,1378.2 L833.6,1382.4 L835.1,1386.6 L836.6,1390.5 L838.1,1394.2 L839.6,1397.5 L841.1,1400.4 L842.6,1403.0 L844.1,1405.2 L845.6,1407.3 L847.1,1409.3 L848.6,1411.2 L850.1,1413.3 L851.6,1415.6 L853.1,1418.2 L854.6,1421.2 L856.1,1424.4 L857.6,1428.0 L859.1,1431.7 L860.6,1435.7 L862.1,1439.8 L863.6,1443.9 L865.1,1448.1 L866.6,1452.1 L868.1,1455.8 L869.6,1459.2 L871.1,1462.2 L872.6,1464.6 L874.1,1466.4 L875.6,1467.7 L877.1,1468.5 L878.6,1469.0 L880.1,1469.1 L881.6,1469.1 L883.1,1468.9 L884.6,1468.6 L886.1,1468.4 L887.6,1468.3 L889.1,1468.3 L890.6,1468.7 L892.1,1469.3 L893.6,1470.3 L895.1,1471.7 L896.6,1473.3 L898.1,1475.1 L899.6,1477.0 L901.1,1479.0 L902.6,1481.0 L904.1,1482.9 L905.6,1484.8 L907.1,1486.6 L908.6,1488.3 L910.1,1489.9 L911.6,1491.4 L913.1,1492.8 L914.6,1494.1 L916.1,1495.3 L917.6,1496.4 L919.1,1497.3 L920.6,1498.1 L922.1,1498.8 L923.6,1499.4 L925.1,1499.9 L926.6,1500.3 L928.1,1500.6 L929.6,1500.8 L931.1,1501.0 L932.6,1501.1 L934.1,1501.2 L935.6,1501.2 L937.1,1501.1 L938.6,1501.1 L940.1,1501.1 L941.6,1501.0 L943.1,1501.0 L944.6,1501.0 L946.1,1501.1 L947.6,1501.2 L949.1,1501.4 L950.6,1501.7 L952.1,1502.1 L953.6,1502.6 L955.1,1503.1 L956.6,1503.7 L958.1,1504.3 L959.6,1505.0 L961.1,1505.6 L962.6,1506.3 L964.1,1506.9 L965.6,1507.6 L967.1,1508.1 L968.6,1508.6 L970.1,1509.1 L971.6,1509.4 L973.1,1509.7 L974.6,1509.8 L976.1,1509.8 L977.6,1509.7 L979.1,1509.5 L980.6,1509.3 L982.1,1509.0 L983.6,1508.7 L985.1,1508.4 L986.6,1508.1 L988.1,1507.9 L989.6,1507.8 L991.1,1507.7 L992.6,1507.8 L994.1,1507.9 L995.6,1508.2 L997.1,1508.5 L998.6,1508.9 L1000.1,1509.3 L1001.6,1509.7 L1003.1,1510.2 L1004.6,1510.7 L1006.1,1511.1 L1007.6,1511.6 L1009.1,1512.0 L1010.6,1512.3 L1012.1,1512.6 L1013.6,1512.9 L1015.1,1513.1 L1016.6,1513.3 L1018.1,1513.5 L1019.6,1513.7 L1021.1,1513.8 L1022.6,1513.9 L1024.1,1514.0 L1025.6,1514.0 L1027.1,1514.1 L1028.6,1514.1 L1030.1,1514.2 L1031.6,1514.2 L1033.1,1514.2 L1034.6,1514.2 L1036.1,1514.3 L1037.6,1514.3 L1039.1,1514.3 L1040.6,1514.4 L1042.1,1514.4 L1043.6,1514.5 L1045.1,1514.5 L1046.6,1514.6 L1048.1,1514.6 L1049.6,1514.7 L1051.1,1514.8 L1052.6,1514.8 L1054.1,1514.9 L1055.6,1514.9 L1057.1,1515.0 L1058.6,1515.1 L1060.1,1515.1 L1061.6,1515.2 L1063.1,1515.2 L1064.6,1515.3 L1066.1,1515.3 L1067.6,1515.4 L1069.1,1515.4 L1070.6,1515.5 L1072.1,1515.5 L1073.6,1515.5 L1075.1,1515.5 L1076.6,1515.5 L1078.1,1515.5 L1079.6,1515.5 L1081.1,1515.5 L1082.6,1515.4 L1084.1,1515.4 L1085.6,1515.3 L1087.1,1515.2 L1088.6,1515.1 L1090.1,1515.0 L1091.6,1514.9 L1093.1,1514.8 L1094.6,1514.6 L1096.1,1514.5 L1097.6,1514.3 L1099.1,1514.1 L1100.6,1513.9 L1102.1,1513.7 L1103.6,1513.4 L1105.1,1513.1 L1106.6,1512.8 L1108.1,1512.5 L1109.6,1512.2 L1111.1,1511.8 L1112.6,1511.5 L1114.1,1511.1 L1115.6,1510.6 L1117.1,1510.2 L1118.6,1509.7 L1119.2,1509.5" fill="none" stroke="#0f718e" stroke-width="2.0" stroke-linejoin="round"/><rect x="490.30" y="1505.10" width="373.40" height="3.8" fill="#000"/><rect x="723.00" y="1201.20" width="2.0" height="313.80" fill="#00c0bf" fill-opacity="0.65"/><text x="666.43" y="1175.90" font-size="18.218" fill="#262626" textLength="74.18" lengthAdjust="spacingAndGlyphs">mean=4</text><text x="616.47" y="1261.00" font-size="18.218" font-weight="bold" fill="#00c0bf" textLength="172.96" lengthAdjust="spacingAndGlyphs">56.3% &lt;5&lt; 43.7%</text><text x="638.81" y="1388.80" font-size="18.218" fill="#262626" textLength="75.43" lengthAdjust="spacingAndGlyphs">94% HDI</text><text x="466.18" y="1486.30" font-size="18.391" fill="#262626" textLength="16.75" lengthAdjust="spacingAndGlyphs">-7</text><text x="869.86" y="1486.30" font-size="18.391" fill="#262626" textLength="20.80" lengthAdjust="spacingAndGlyphs">12</text></g>
<g><text x="1763.35" y="1064.90" font-size="20.685" font-weight="bold" fill="#262626" textLength="57.85" lengthAdjust="spacingAndGlyphs">theta</text><text x="1741.16" y="1086.95" font-size="20.685" font-weight="bold" fill="#262626" textLength="102.96" lengthAdjust="spacingAndGlyphs">St. Paul&#39;s</text><rect x="1213" y="1536" width="1159" height="1" fill="#808080"/><rect x="1213.15" y="1537" width="1.1" height="4" fill="#808080"/><text x="1197.24" y="1557.70" font-size="16.960" fill="#262626" textLength="32.72" lengthAdjust="spacingAndGlyphs">−10</text><rect x="1352.95" y="1537" width="1.1" height="4" fill="#808080"/><text x="1342.29" y="1557.70" font-size="16.960" fill="#262626" textLength="22.28" lengthAdjust="spacingAndGlyphs">−5</text><rect x="1493.15" y="1537" width="1.1" height="4" fill="#808080"/><text x="1489.01" y="1557.70" font-size="16.960" fill="#262626" textLength="9.38" lengthAdjust="spacingAndGlyphs">0</text><rect x="1632.95" y="1537" width="1.1" height="4" fill="#808080"/><text x="1629.09" y="1557.70" font-size="16.960" fill="#262626" textLength="8.85" lengthAdjust="spacingAndGlyphs">5</text><rect x="1772.75" y="1537" width="1.1" height="4" fill="#808080"/><text x="1763.19" y="1557.70" font-size="16.960" fill="#262626" textLength="19.57" lengthAdjust="spacingAndGlyphs">10</text><rect x="1912.55" y="1537" width="1.1" height="4" fill="#808080"/><text x="1903.18" y="1557.70" font-size="16.960" fill="#262626" textLength="19.25" lengthAdjust="spacingAndGlyphs">15</text><rect x="2052.75" y="1537" width="1.1" height="4" fill="#808080"/><text x="2043.35" y="1557.70" font-size="16.960" fill="#262626" textLength="19.71" lengthAdjust="spacingAndGlyphs">20</text><rect x="2192.55" y="1537" width="1.1" height="4" fill="#808080"/><text x="2183.33" y="1557.70" font-size="16.960" fill="#262626" textLength="19.40" lengthAdjust="spacingAndGlyphs">25</text><rect x="2332.85" y="1537" width="1.1" height="4" fill="#808080"/><text x="2323.70" y="1557.70" font-size="16.960" fill="#262626" textLength="19.43" lengthAdjust="spacingAndGlyphs">30</text><path d="M1265.1,1505.6 L1266.6,1505.1 L1268.1,1504.7 L1269.6,1504.4 L1271.1,1504.1 L1272.6,1503.8 L1274.1,1503.6 L1275.6,1503.4 L1277.1,1503.3 L1278.6,1503.2 L1280.1,1503.1 L1281.6,1503.1 L1283.1,1503.1 L1284.6,1503.2 L1286.1,1503.2 L1287.6,1503.3 L1289.1,1503.5 L1290.6,1503.6 L1292.1,1503.7 L1293.6,1503.9 L1295.1,1504.1 L1296.6,1504.3 L1298.1,1504.5 L1299.6,1504.7 L1301.1,1504.9 L1302.6,1505.1 L1304.1,1505.3 L1305.6,1505.5 L1307.1,1505.7 L1308.6,1505.9 L1310.1,1506.1 L1311.6,1506.2 L1313.1,1506.4 L1314.6,1506.5 L1316.1,1506.6 L1317.6,1506.7 L1319.1,1506.8 L1320.6,1506.8 L1322.1,1506.8 L1323.6,1506.8 L1325.1,1506.7 L1326.6,1506.7 L1328.1,1506.5 L1329.6,1506.4 L1331.1,1506.2 L1332.6,1506.1 L1334.1,1505.9 L1335.6,1505.6 L1337.1,1505.4 L1338.6,1505.2 L1340.1,1505.0 L1341.6,1504.8 L1343.1,1504.5 L1344.6,1504.3 L1346.1,1504.1 L1347.6,1504.0 L1349.1,1503.8 L1350.6,1503.6 L1352.1,1503.5 L1353.6,1503.3 L1355.1,1503.2 L1356.6,1503.0 L1358.1,1502.9 L1359.6,1502.7 L1361.1,1502.6 L1362.6,1502.4 L1364.1,1502.2 L1365.6,1502.0 L1367.1,1501.7 L1368.6,1501.5 L1370.1,1501.2 L1371.6,1500.9 L1373.1,1500.5 L1374.6,1500.1 L1376.1,1499.6 L1377.6,1499.0 L1379.1,1498.3 L1380.6,1497.5 L1382.1,1496.5 L1383.6,1495.4 L1385.1,1494.1 L1386.6,1492.7 L1388.1,1491.2 L1389.6,1489.5 L1391.1,1487.8 L1392.6,1486.0 L1394.1,1484.2 L1395.6,1482.4 L1397.1,1480.5 L1398.6,1478.6 L1400.1,1476.7 L1401.6,1474.8 L1403.1,1473.0 L1404.6,1471.2 L1406.1,1469.4 L1407.6,1467.7 L1409.1,1466.0 L1410.6,1464.5 L1412.1,1463.0 L1413.6,1461.6 L1415.1,1460.2 L1416.6,1459.0 L1418.1,1457.7 L1419.6,1456.6 L1421.1,1455.4 L1422.6,1454.3 L1424.1,1453.3 L1425.6,1452.2 L1427.1,1451.1 L1428.6,1450.0 L1430.1,1448.9 L1431.6,1447.7 L1433.1,1446.4 L1434.6,1445.0 L1436.1,1443.5 L1437.6,1441.9 L1439.1,1440.1 L1440.6,1438.2 L1442.1,1436.0 L1443.6,1433.5 L1445.1,1430.8 L1446.6,1427.7 L1448.1,1424.4 L1449.6,1420.9 L1451.1,1417.3 L1452.6,1413.6 L1454.1,1410.1 L1455.6,1406.7 L1457.1,1403.6 L1458.6,1400.9 L1460.1,1398.5 L1461.6,1396.5 L1463.1,1394.8 L1464.6,1393.4 L1466.1,1392.2 L1467.6,1391.3 L1469.1,1390.5 L1470.6,1389.9 L1472.1,1389.5 L1473.6,1389.2 L1475.1,1389.1 L1476.6,1389.1 L1478.1,1389.3 L1479.6,1389.5 L1481.1,1389.9 L1482.6,1390.3 L1484.1,1390.9 L1485.6,1391.5 L1487.1,1392.2 L1488.6,1392.9 L1490.1,1393.7 L1491.6,1394.4 L1493.1,1395.2 L1494.6,1395.9 L1496.1,1396.6 L1497.6,1397.2 L1499.1,1397.7 L1500.6,1398.1 L1502.1,1398.3 L1503.6,1398.4 L1505.1,1398.2 L1506.6,1397.8 L1508.1,1397.2 L1509.6,1396.3 L1511.1,1395.1 L1512.6,1393.6 L1514.1,1391.7 L1515.6,1389.4 L1517.1,1386.7 L1518.6,1383.7 L1520.1,1380.4 L1521.6,1376.9 L1523.1,1373.3 L1524.6,1369.5 L1526.1,1365.7 L1527.6,1361.8 L1529.1,1358.1 L1530.6,1354.4 L1532.1,1350.8 L1533.6,1347.3 L1535.1,1344.0 L1536.6,1340.9 L1538.1,1338.0 L1539.6,1335.3 L1541.1,1332.9 L1542.6,1330.6 L1544.1,1328.4 L1545.6,1326.3 L1547.1,1324.2 L1548.6,1322.0 L1550.1,1319.7 L1551.6,1317.2 L1553.1,1314.5 L1554.6,1311.6 L1556.1,1308.4 L1557.6,1305.1 L1559.1,1301.6 L1560.6,1297.9 L1562.1,1294.0 L1563.6,1290.0 L1565.1,1285.8 L1566.6,1281.2 L1568.1,1276.1 L1569.6,1270.3 L1571.1,1263.7 L1572.6,1256.1 L1574.1,1247.4 L1575.6,1237.7 L1577.1,1227.3 L1578.6,1216.2 L1580.1,1204.8 L1581.6,1193.3 L1583.1,1182.0 L1584.6,1171.2 L1586.1,1161.3 L1587.6,1152.2 L1589.1,1144.0 L1590.6,1136.7 L1592.1,1130.4 L1593.6,1125.0 L1595.1,1120.6 L1596.6,1117.0 L1598.1,1114.4 L1599.6,1112.5 L1601.1,1111.5 L1602.6,1111.3 L1604.1,1111.7 L1605.6,1112.7 L1607.1,1114.1 L1608.6,1115.9 L1610.1,1117.9 L1611.6,1120.0 L1613.1,1122.2 L1614.6,1124.3 L1616.1,1126.3 L1617.6,1128.2 L1619.1,1129.8 L1620.6,1131.1 L1622.1,1132.1 L1623.6,1133.0 L1625.1,1133.7 L1626.6,1134.3 L1628.1,1134.9 L1629.6,1135.6 L1631.1,1136.3 L1632.6,1137.3 L1634.1,1138.4 L1635.6,1139.8 L1637.1,1141.4 L1638.6,1143.2 L1640.1,1145.2 L1641.6,1147.4 L1643.1,1149.7 L1644.6,1152.3 L1646.1,1155.0 L1647.6,1157.9 L1649.1,1160.9 L1650.6,1163.9 L1652.1,1167.0 L1653.6,1170.2 L1655.1,1173.3 L1656.6,1176.4 L1658.1,1179.4 L1659.6,1182.4 L1661.1,1185.2 L1662.6,1188.0 L1664.1,1190.5 L1665.6,1193.0 L1667.1,1195.2 L1668.6,1197.3 L1670.1,1199.1 L1671.6,1200.7 L1673.1,1202.2 L1674.6,1203.4 L1676.1,1204.4 L1677.6,1205.3 L1679.1,1206.0 L1680.6,1206.5 L1682.1,1206.8 L1683.6,1207.0 L1685.1,1207.1 L1686.6,1207.1 L1688.1,1206.9 L1689.6,1206.7 L1691.1,1206.4 L1692.6,1206.0 L1694.1,1205.5 L1695.6,1205.0 L1697.1,1204.5 L1698.6,1203.9 L1700.1,1203.4 L1701.6,1203.0 L1703.1,1202.6 L1704.6,1202.3 L1706.1,1202.1 L1707.6,1202.0 L1709.1,1202.1 L1710.6,1202.4 L1712.1,1202.9 L1713.6,1203.6 L1715.1,1204.7 L1716.6,1206.2 L1718.1,1208.0 L1719.6,1210.1 L1721.1,1212.6 L1722.6,1215.3 L1724.1,1218.1 L1725.6,1221.1 L1727.1,1224.0 L1728.6,1227.0 L1730.1,1229.9 L1731.6,1232.7 L1733.1,1235.4 L1734.6,1237.9 L1736.1,1240.3 L1737.6,1242.6 L1739.1,1244.7 L1740.6,1246.6 L1742.1,1248.4 L1743.6,1249.9 L1745.1,1251.4 L1746.6,1252.6 L1748.1,1253.8 L1749.6,1254.9 L1751.1,1255.8 L1752.6,1256.7 L1754.1,1257.6 L1755.6,1258.5 L1757.1,1259.3 L1758.6,1260.1 L1760.1,1261.0 L1761.6,1261.9 L1763.1,1262.9 L1764.6,1264.0 L1766.1,1265.1 L1767.6,1266.3 L1769.1,1267.6 L1770.6,1269.0 L1772.1,1270.4 L1773.6,1271.9 L1775.1,1273.5 L1776.6,1275.2 L1778.1,1277.0 L1779.6,1278.9 L1781.1,1280.9 L1782.6,1283.0 L1784.1,1285.3 L1785.6,1287.9 L1787.1,1290.7 L1788.6,1293.7 L1790.1,1297.0 L1791.6,1300.7 L1793.1,1304.5 L1794.6,1308.6 L1796.1,1312.7 L1797.6,1317.0 L1799.1,1321.2 L1800.6,1325.3 L1802.1,1329.4 L1803.6,1333.4 L1805.1,1337.3 L1806.6,1341.0 L1808.1,1344.5 L1809.6,1347.9 L1811.1,1351.1 L1812.6,1354.1 L1814.1,1356.8 L1815.6,1359.4 L1817.1,1361.8 L1818.6,1364.0 L1820.1,1366.1 L1821.6,1368.0 L1823.1,1369.8 L1824.6,1371.5 L1826.1,1373.0 L1827.6,1374.4 L1829.1,1375.6 L1830.6,1376.6 L1832.1,1377.5 L1833.6,1378.3 L1835.1,1378.9 L1836.6,1379.4 L1838.1,1379.9 L1839.6,1380.3 L1841.1,1380.7 L1842.6,1381.1 L1844.1,1381.5 L1845.6,1382.0 L1847.1,1382.7 L1848.6,1383.4 L1850.1,1384.3 L1851.6,1385.4 L1853.1,1386.6 L1854.6,1388.2 L1856.1,1389.9 L1857.6,1392.0 L1859.1,1394.3 L1860.6,1396.9 L1862.1,1399.6 L1863.6,1402.4 L1865.1,1405.2 L1866.6,1408.1 L1868.1,1410.9 L1869.6,1413.7 L1871.1,1416.3 L1872.6,1418.9 L1874.1,1421.2 L1875.6,1423.5 L1877.1,1425.5 L1878.6,1427.4 L1880.1,1429.1 L1881.6,1430.5 L1883.1,1431.8 L1884.6,1432.9 L1886.1,1433.8 L1887.6,1434.6 L1889.1,1435.3 L1890.6,1435.9 L1892.1,1436.5 L1893.6,1437.1 L1895.1,1437.7 L1896.6,1438.3 L1898.1,1439.0 L1899.6,1439.7 L1901.1,1440.5 L1902.6,1441.5 L1904.1,1442.6 L1905.6,1443.8 L1907.1,1445.2 L1908.6,1446.8 L1910.1,1448.4 L1911.6,1450.0 L1913.1,1451.7 L1914.6,1453.4 L1916.1,1455.0 L1917.6,1456.6 L1919.1,1458.1 L1920.6,1459.5 L1922.1,1460.7 L1923.6,1461.7 L1925.1,1462.6 L1926.6,1463.3 L1928.1,1463.9 L1929.6,1464.3 L1931.1,1464.7 L1932.6,1465.0 L1934.1,1465.2 L1935.6,1465.4 L1937.1,1465.6 L1938.6,1465.8 L1940.1,1466.0 L1941.6,1466.3 L1943.1,1466.6 L1944.6,1466.9 L1946.1,1467.3 L1947.6,1467.7 L1949.1,1468.2 L1950.6,1468.7 L1952.1,1469.1 L1953.6,1469.6 L1955.1,1470.1 L1956.6,1470.6 L1958.1,1471.1 L1959.6,1471.6 L1961.1,1472.0 L1962.6,1472.5 L1964.1,1472.9 L1965.6,1473.2 L1967.1,1473.5 L1968.6,1473.8 L1970.1,1474.1 L1971.6,1474.4 L1973.1,1474.7 L1974.6,1475.0 L1976.1,1475.3 L1977.6,1475.6 L1979.1,1475.9 L1980.6,1476.3 L1982.1,1476.8 L1983.6,1477.3 L1985.1,1477.8 L1986.6,1478.4 L1988.1,1479.0 L1989.6,1479.7 L1991.1,1480.4 L1992.6,1481.1 L1994.1,1481.8 L1995.6,1482.5 L1997.1,1483.3 L1998.6,1484.0 L2000.1,1484.7 L2001.6,1485.3 L2003.1,1485.9 L2004.6,1486.5 L2006.1,1487.0 L2007.6,1487.4 L2009.1,1487.7 L2010.6,1488.0 L2012.1,1488.1 L2013.6,1488.1 L2015.1,1488.0 L2016.6,1487.7 L2018.1,1487.4 L2019.6,1487.0 L2021.1,1486.6 L2022.6,1486.1 L2024.1,1485.6 L2025.6,1485.1 L2027.1,1484.6 L2028.6,1484.1 L2030.1,1483.7 L2031.6,1483.3 L2033.1,1483.0 L2034.6,1482.8 L2036.1,1482.7 L2037.6,1482.7 L2039.1,1482.9 L2040.6,1483.1 L2042.1,1483.5 L2043.6,1484.0 L2045.1,1484.6 L2046.6,1485.3 L2048.1,1486.1 L2049.6,1487.0 L2051.1,1487.9 L2052.6,1488.9 L2054.1,1489.9 L2055.6,1491.0 L2057.1,1492.1 L2058.6,1493.2 L2060.1,1494.4 L2061.6,1495.5 L2063.1,1496.6 L2064.6,1497.7 L2066.1,1498.7 L2067.6,1499.6 L2069.1,1500.5 L2070.6,1501.4 L2072.1,1502.1 L2073.6,1502.8 L2075.1,1503.4 L2076.6,1503.9 L2078.1,1504.3 L2079.6,1504.7 L2081.1,1505.0 L2082.6,1505.3 L2084.1,1505.6 L2085.6,1505.8 L2087.1,1505.9 L2088.6,1506.1 L2090.1,1506.2 L2091.6,1506.3 L2093.1,1506.3 L2094.6,1506.4 L2096.1,1506.5 L2097.6,1506.5 L2099.1,1506.6 L2100.6,1506.6 L2102.1,1506.7 L2103.6,1506.8 L2105.1,1506.8 L2106.6,1506.9 L2108.1,1507.0 L2109.6,1507.1 L2111.1,1507.3 L2112.6,1507.4 L2114.1,1507.6 L2115.6,1507.7 L2117.1,1507.9 L2118.6,1508.1 L2120.1,1508.4 L2121.6,1508.6 L2123.1,1508.9 L2124.6,1509.1 L2126.1,1509.4 L2127.6,1509.6 L2129.1,1509.9 L2130.6,1510.2 L2132.1,1510.4 L2133.6,1510.7 L2135.1,1511.0 L2136.6,1511.2 L2138.1,1511.5 L2139.6,1511.7 L2141.1,1511.9 L2142.6,1512.1 L2144.1,1512.3 L2145.6,1512.4 L2147.1,1512.6 L2148.6,1512.7 L2150.1,1512.8 L2151.6,1512.8 L2153.1,1512.8 L2154.6,1512.8 L2156.1,1512.8 L2157.6,1512.7 L2159.1,1512.7 L2160.6,1512.6 L2162.1,1512.5 L2163.6,1512.3 L2165.1,1512.2 L2166.6,1512.1 L2168.1,1511.9 L2169.6,1511.8 L2171.1,1511.6 L2172.6,1511.5 L2174.1,1511.3 L2175.6,1511.2 L2177.1,1511.1 L2178.6,1510.9 L2180.1,1510.8 L2181.6,1510.8 L2183.1,1510.7 L2184.6,1510.6 L2186.1,1510.6 L2187.6,1510.6 L2189.1,1510.6 L2190.6,1510.7 L2192.1,1510.8 L2193.6,1510.9 L2195.1,1511.1 L2196.6,1511.2 L2198.1,1511.4 L2199.6,1511.6 L2201.1,1511.9 L2202.6,1512.1 L2204.1,1512.3 L2205.6,1512.6 L2207.1,1512.8 L2208.6,1513.1 L2210.1,1513.3 L2211.6,1513.5 L2213.1,1513.7 L2214.6,1513.9 L2216.1,1514.1 L2217.6,1514.3 L2219.1,1514.4 L2220.6,1514.5 L2222.1,1514.6 L2223.6,1514.6 L2225.1,1514.6 L2226.6,1514.5 L2228.1,1514.5 L2229.6,1514.4 L2231.1,1514.2 L2232.6,1514.1 L2234.1,1513.9 L2235.6,1513.8 L2237.1,1513.6 L2238.6,1513.4 L2240.1,1513.2 L2241.6,1513.0 L2243.1,1512.8 L2244.6,1512.7 L2246.1,1512.5 L2247.6,1512.4 L2249.1,1512.3 L2250.6,1512.2 L2252.1,1512.2 L2253.6,1512.1 L2255.1,1512.2 L2256.6,1512.2 L2258.1,1512.3 L2259.6,1512.3 L2261.1,1512.4 L2262.6,1512.6 L2264.1,1512.7 L2265.6,1512.9 L2267.1,1513.0 L2268.6,1513.2 L2270.1,1513.4 L2271.6,1513.6 L2273.1,1513.8 L2274.6,1514.0 L2276.1,1514.2 L2277.6,1514.4 L2279.1,1514.6 L2280.6,1514.8 L2282.1,1515.0 L2283.6,1515.2 L2285.1,1515.3 L2286.6,1515.5 L2288.1,1515.6 L2289.6,1515.7 L2291.1,1515.9 L2292.6,1515.9 L2294.1,1516.0 L2295.6,1516.0 L2297.1,1516.1 L2298.6,1516.0 L2300.1,1516.0 L2301.6,1515.9 L2303.1,1515.8 L2304.6,1515.7 L2306.1,1515.5 L2307.6,1515.3 L2309.1,1515.0 L2310.6,1514.7 L2312.1,1514.3 L2313.6,1513.9 L2315.1,1513.5 L2316.6,1513.0 L2318.1,1512.4 L2318.6,1512.2" fill="none" stroke="#0f718e" stroke-width="2.0" stroke-linejoin="round"/><rect x="1407.20" y="1505.10" width="541.50" height="3.8" fill="#000"/><rect x="1632.10" y="1201.20" width="2.0" height="313.80" fill="#00c0bf" fill-opacity="0.65"/><text x="1631.72" y="1175.90" font-size="18.218" fill="#262626" textLength="90.91" lengthAdjust="spacingAndGlyphs">mean=6.6</text><text x="1591.03" y="1261.00" font-size="18.218" font-weight="bold" fill="#00c0bf" textLength="173.18" lengthAdjust="spacingAndGlyphs">40.1% &lt;5&lt; 59.9%</text><text x="1640.71" y="1388.80" font-size="18.218" fill="#262626" textLength="75.43" lengthAdjust="spacingAndGlyphs">94% HDI</text><text x="1367.04" y="1486.30" font-size="18.391" fill="#262626" textLength="33.20" lengthAdjust="spacingAndGlyphs">-3.1</text><text x="1954.89" y="1486.30" font-size="18.391" fill="#262626" textLength="21.39" lengthAdjust="spacingAndGlyphs">16</text></g>
<g><text x="2959.35" y="1064.90" font-size="20.685" font-weight="bold" fill="#262626" textLength="57.85" lengthAdjust="spacingAndGlyphs">theta</text><text x="2923.08" y="1086.95" font-size="20.685" font-weight="bold" fill="#262626" textLength="130.72" lengthAdjust="spacingAndGlyphs">Mt. Hermon</text><rect x="2409" y="1536" width="1159" height="1" fill="#808080"/><rect x="2412.35" y="1537" width="1.1" height="4" fill="#808080"/><text x="2396.44" y="1557.70" font-size="16.960" fill="#262626" textLength="32.72" lengthAdjust="spacingAndGlyphs">−30</text><rect x="2580.45" y="1537" width="1.1" height="4" fill="#808080"/><text x="2564.54" y="1557.70" font-size="16.960" fill="#262626" textLength="32.72" lengthAdjust="spacingAndGlyphs">−20</text><rect x="2748.65" y="1537" width="1.1" height="4" fill="#808080"/><text x="2732.74" y="1557.70" font-size="16.960" fill="#262626" textLength="32.72" lengthAdjust="spacingAndGlyphs">−10</text><rect x="2917.15" y="1537" width="1.1" height="4" fill="#808080"/><text x="2913.01" y="1557.70" font-size="16.960" fill="#262626" textLength="9.38" lengthAdjust="spacingAndGlyphs">0</text><rect x="3084.85" y="1537" width="1.1" height="4" fill="#808080"/><text x="3075.29" y="1557.70" font-size="16.960" fill="#262626" textLength="19.57" lengthAdjust="spacingAndGlyphs">10</text><rect x="3252.95" y="1537" width="1.1" height="4" fill="#808080"/><text x="3243.55" y="1557.70" font-size="16.960" fill="#262626" textLength="19.71" lengthAdjust="spacingAndGlyphs">20</text><rect x="3421.45" y="1537" width="1.1" height="4" fill="#808080"/><text x="3412.30" y="1557.70" font-size="16.960" fill="#262626" textLength="19.43" lengthAdjust="spacingAndGlyphs">30</text><path d="M2461.6,1512.2 L2463.1,1512.9 L2464.6,1513.5 L2466.1,1514.0 L2467.6,1514.5 L2469.1,1514.8 L2470.6,1515.1 L2472.1,1515.3 L2473.6,1515.5 L2475.1,1515.6 L2476.6,1515.7 L2478.1,1515.7 L2479.6,1515.7 L2481.1,1515.6 L2482.6,1515.5 L2484.1,1515.4 L2485.6,1515.2 L2487.1,1515.1 L2488.6,1514.9 L2490.1,1514.7 L2491.6,1514.6 L2493.1,1514.4 L2494.6,1514.2 L2496.1,1514.1 L2497.6,1513.9 L2499.1,1513.8 L2500.6,1513.8 L2502.1,1513.7 L2503.6,1513.7 L2505.1,1513.7 L2506.6,1513.8 L2508.1,1513.9 L2509.6,1514.0 L2511.1,1514.1 L2512.6,1514.2 L2514.1,1514.4 L2515.6,1514.6 L2517.1,1514.8 L2518.6,1514.9 L2520.1,1515.1 L2521.6,1515.3 L2523.1,1515.5 L2524.6,1515.6 L2526.1,1515.8 L2527.6,1515.9 L2529.1,1516.1 L2530.6,1516.2 L2532.1,1516.3 L2533.6,1516.4 L2535.1,1516.5 L2536.6,1516.6 L2538.1,1516.6 L2539.6,1516.7 L2541.1,1516.7 L2542.6,1516.8 L2544.1,1516.8 L2545.6,1516.8 L2547.1,1516.9 L2548.6,1516.9 L2550.1,1516.8 L2551.6,1516.8 L2553.1,1516.8 L2554.6,1516.8 L2556.1,1516.7 L2557.6,1516.7 L2559.1,1516.6 L2560.6,1516.5 L2562.1,1516.5 L2563.6,1516.4 L2565.1,1516.3 L2566.6,1516.2 L2568.1,1516.1 L2569.6,1515.9 L2571.1,1515.8 L2572.6,1515.7 L2574.1,1515.5 L2575.6,1515.4 L2577.1,1515.2 L2578.6,1515.1 L2580.1,1514.9 L2581.6,1514.7 L2583.1,1514.6 L2584.6,1514.4 L2586.1,1514.3 L2587.6,1514.2 L2589.1,1514.0 L2590.6,1513.9 L2592.1,1513.8 L2593.6,1513.8 L2595.1,1513.7 L2596.6,1513.7 L2598.1,1513.7 L2599.6,1513.7 L2601.1,1513.8 L2602.6,1513.9 L2604.1,1513.9 L2605.6,1514.0 L2607.1,1514.1 L2608.6,1514.3 L2610.1,1514.4 L2611.6,1514.5 L2613.1,1514.6 L2614.6,1514.7 L2616.1,1514.7 L2617.6,1514.8 L2619.1,1514.8 L2620.6,1514.9 L2622.1,1514.9 L2623.6,1514.9 L2625.1,1514.8 L2626.6,1514.8 L2628.1,1514.7 L2629.6,1514.6 L2631.1,1514.5 L2632.6,1514.3 L2634.1,1514.1 L2635.6,1513.9 L2637.1,1513.6 L2638.6,1513.3 L2640.1,1513.0 L2641.6,1512.6 L2643.1,1512.2 L2644.6,1511.7 L2646.1,1511.3 L2647.6,1510.8 L2649.1,1510.3 L2650.6,1509.8 L2652.1,1509.3 L2653.6,1508.8 L2655.1,1508.3 L2656.6,1507.8 L2658.1,1507.4 L2659.6,1507.0 L2661.1,1506.6 L2662.6,1506.3 L2664.1,1506.0 L2665.6,1505.8 L2667.1,1505.7 L2668.6,1505.6 L2670.1,1505.6 L2671.6,1505.6 L2673.1,1505.7 L2674.6,1505.9 L2676.1,1506.1 L2677.6,1506.4 L2679.1,1506.7 L2680.6,1507.1 L2682.1,1507.5 L2683.6,1507.9 L2685.1,1508.4 L2686.6,1508.8 L2688.1,1509.3 L2689.6,1509.8 L2691.1,1510.3 L2692.6,1510.7 L2694.1,1511.2 L2695.6,1511.6 L2697.1,1512.0 L2698.6,1512.3 L2700.1,1512.6 L2701.6,1512.9 L2703.1,1513.0 L2704.6,1513.1 L2706.1,1513.2 L2707.6,1513.1 L2709.1,1513.0 L2710.6,1512.8 L2712.1,1512.6 L2713.6,1512.3 L2715.1,1511.9 L2716.6,1511.5 L2718.1,1511.0 L2719.6,1510.5 L2721.1,1510.0 L2722.6,1509.4 L2724.1,1508.8 L2725.6,1508.2 L2727.1,1507.5 L2728.6,1506.9 L2730.1,1506.4 L2731.6,1505.8 L2733.1,1505.4 L2734.6,1504.9 L2736.1,1504.6 L2737.6,1504.3 L2739.1,1504.2 L2740.6,1504.1 L2742.1,1504.1 L2743.6,1504.3 L2745.1,1504.5 L2746.6,1504.7 L2748.1,1505.0 L2749.6,1505.3 L2751.1,1505.6 L2752.6,1505.8 L2754.1,1506.0 L2755.6,1506.1 L2757.1,1506.0 L2758.6,1505.9 L2760.1,1505.6 L2761.6,1505.2 L2763.1,1504.6 L2764.6,1503.8 L2766.1,1503.0 L2767.6,1502.1 L2769.1,1501.1 L2770.6,1500.1 L2772.1,1499.2 L2773.6,1498.4 L2775.1,1497.6 L2776.6,1497.0 L2778.1,1496.5 L2779.6,1496.1 L2781.1,1495.8 L2782.6,1495.5 L2784.1,1495.1 L2785.6,1494.6 L2787.1,1493.9 L2788.6,1493.1 L2790.1,1491.9 L2791.6,1490.6 L2793.1,1489.1 L2794.6,1487.6 L2796.1,1485.9 L2797.6,1484.3 L2799.1,1482.8 L2800.6,1481.3 L2802.1,1480.0 L2803.6,1479.0 L2805.1,1478.1 L2806.6,1477.5 L2808.1,1477.1 L2809.6,1476.8 L2811.1,1476.5 L2812.6,1476.4 L2814.1,1476.2 L2815.6,1475.9 L2817.1,1475.6 L2818.6,1475.2 L2820.1,1474.6 L2821.6,1473.8 L2823.1,1473.0 L2824.6,1472.1 L2826.1,1471.3 L2827.6,1470.5 L2829.1,1469.7 L2830.6,1469.1 L2832.1,1468.6 L2833.6,1468.2 L2835.1,1467.8 L2836.6,1467.5 L2838.1,1467.2 L2839.6,1466.8 L2841.1,1466.2 L2842.6,1465.5 L2844.1,1464.6 L2845.6,1463.5 L2847.1,1462.2 L2848.6,1460.7 L2850.1,1459.1 L2851.6,1457.3 L2853.1,1455.5 L2854.6,1453.5 L2856.1,1451.4 L2857.6,1449.3 L2859.1,1447.0 L2860.6,1444.5 L2862.1,1441.9 L2863.6,1439.0 L2865.1,1436.0 L2866.6,1432.6 L2868.1,1429.0 L2869.6,1425.2 L2871.1,1421.2 L2872.6,1417.0 L2874.1,1412.8 L2875.6,1408.6 L2877.1,1404.4 L2878.6,1400.3 L2880.1,1396.5 L2881.6,1393.0 L2883.1,1390.0 L2884.6,1387.5 L2886.1,1385.6 L2887.6,1384.2 L2889.1,1383.2 L2890.6,1382.3 L2892.1,1381.3 L2893.6,1380.1 L2895.1,1378.5 L2896.6,1376.2 L2898.1,1373.4 L2899.6,1369.9 L2901.1,1365.7 L2902.6,1360.8 L2904.1,1355.2 L2905.6,1349.2 L2907.1,1342.9 L2908.6,1336.6 L2910.1,1330.5 L2911.6,1325.0 L2913.1,1320.2 L2914.6,1316.2 L2916.1,1312.9 L2917.6,1310.1 L2919.1,1307.9 L2920.6,1306.2 L2922.1,1304.8 L2923.6,1303.8 L2925.1,1302.8 L2926.6,1302.0 L2928.1,1301.1 L2929.6,1300.0 L2931.1,1298.6 L2932.6,1296.8 L2934.1,1294.4 L2935.6,1290.9 L2937.1,1286.0 L2938.6,1280.0 L2940.1,1273.3 L2941.6,1266.2 L2943.1,1259.3 L2944.6,1252.7 L2946.1,1246.4 L2947.6,1240.3 L2949.1,1234.4 L2950.6,1228.6 L2952.1,1222.8 L2953.6,1216.8 L2955.1,1210.5 L2956.6,1203.7 L2958.1,1195.8 L2959.6,1186.3 L2961.1,1175.0 L2962.6,1162.4 L2964.1,1149.5 L2965.6,1137.8 L2967.1,1128.7 L2968.6,1122.0 L2970.1,1117.0 L2971.6,1113.3 L2973.1,1111.3 L2974.6,1111.4 L2976.1,1113.7 L2977.6,1118.6 L2979.1,1126.0 L2980.6,1135.1 L2982.1,1145.0 L2983.6,1155.6 L2985.1,1166.7 L2986.6,1177.4 L2988.1,1186.4 L2989.6,1193.1 L2991.1,1197.9 L2992.6,1200.9 L2994.1,1202.1 L2995.6,1201.5 L2997.1,1199.6 L2998.6,1196.9 L3000.1,1194.0 L3001.6,1191.3 L3003.1,1189.3 L3004.6,1188.1 L3006.1,1187.8 L3007.6,1188.3 L3009.1,1189.7 L3010.6,1192.1 L3012.1,1195.4 L3013.6,1199.3 L3015.1,1203.5 L3016.6,1207.8 L3018.1,1211.9 L3019.6,1215.6 L3021.1,1218.6 L3022.6,1221.0 L3024.1,1222.6 L3025.6,1223.5 L3027.1,1223.6 L3028.6,1223.2 L3030.1,1222.6 L3031.6,1222.2 L3033.1,1222.4 L3034.6,1223.2 L3036.1,1224.6 L3037.6,1226.5 L3039.1,1229.1 L3040.6,1232.1 L3042.1,1235.5 L3043.6,1239.3 L3045.1,1243.1 L3046.6,1246.9 L3048.1,1250.2 L3049.6,1252.9 L3051.1,1254.8 L3052.6,1255.6 L3054.1,1255.1 L3055.6,1253.4 L3057.1,1250.9 L3058.6,1248.1 L3060.1,1245.4 L3061.6,1243.2 L3063.1,1241.8 L3064.6,1241.0 L3066.1,1240.9 L3067.6,1241.2 L3069.1,1242.1 L3070.6,1243.6 L3072.1,1246.1 L3073.6,1249.6 L3075.1,1254.6 L3076.6,1261.6 L3078.1,1270.7 L3079.6,1281.1 L3081.1,1291.3 L3082.6,1300.0 L3084.1,1307.4 L3085.6,1314.0 L3087.1,1320.0 L3088.6,1325.8 L3090.1,1331.8 L3091.6,1338.0 L3093.1,1344.2 L3094.6,1350.2 L3096.1,1356.0 L3097.6,1361.3 L3099.1,1366.3 L3100.6,1370.9 L3102.1,1375.2 L3103.6,1379.3 L3105.1,1383.2 L3106.6,1387.0 L3108.1,1390.8 L3109.6,1394.5 L3111.1,1398.2 L3112.6,1401.9 L3114.1,1405.6 L3115.6,1409.4 L3117.1,1413.3 L3118.6,1417.2 L3120.1,1421.2 L3121.6,1425.2 L3123.1,1429.1 L3124.6,1433.0 L3126.1,1436.7 L3127.6,1440.2 L3129.1,1443.4 L3130.6,1446.3 L3132.1,1448.9 L3133.6,1451.2 L3135.1,1453.1 L3136.6,1454.8 L3138.1,1456.1 L3139.6,1457.2 L3141.1,1458.0 L3142.6,1458.6 L3144.1,1459.1 L3145.6,1459.5 L3147.1,1459.8 L3148.6,1460.3 L3150.1,1460.8 L3151.6,1461.4 L3153.1,1462.2 L3154.6,1463.1 L3156.1,1464.1 L3157.6,1465.0 L3159.1,1466.0 L3160.6,1466.9 L3162.1,1467.6 L3163.6,1468.2 L3165.1,1468.7 L3166.6,1469.1 L3168.1,1469.5 L3169.6,1469.9 L3171.1,1470.4 L3172.6,1471.1 L3174.1,1472.0 L3175.6,1473.1 L3177.1,1474.4 L3178.6,1475.8 L3180.1,1477.2 L3181.6,1478.7 L3183.1,1480.1 L3184.6,1481.4 L3186.1,1482.5 L3187.6,1483.5 L3189.1,1484.2 L3190.6,1484.7 L3192.1,1485.1 L3193.6,1485.4 L3195.1,1485.6 L3196.6,1485.7 L3198.1,1485.9 L3199.6,1486.1 L3201.1,1486.4 L3202.6,1486.8 L3204.1,1487.3 L3205.6,1488.0 L3207.1,1488.7 L3208.6,1489.5 L3210.1,1490.4 L3211.6,1491.4 L3213.1,1492.4 L3214.6,1493.4 L3216.1,1494.5 L3217.6,1495.5 L3219.1,1496.6 L3220.6,1497.6 L3222.1,1498.5 L3223.6,1499.5 L3225.1,1500.4 L3226.6,1501.2 L3228.1,1501.9 L3229.6,1502.6 L3231.1,1503.3 L3232.6,1503.8 L3234.1,1504.2 L3235.6,1504.5 L3237.1,1504.8 L3238.6,1504.9 L3240.1,1504.9 L3241.6,1504.9 L3243.1,1504.8 L3244.6,1504.6 L3246.1,1504.4 L3247.6,1504.2 L3249.1,1504.0 L3250.6,1503.8 L3252.1,1503.5 L3253.6,1503.4 L3255.1,1503.2 L3256.6,1503.2 L3258.1,1503.2 L3259.6,1503.2 L3261.1,1503.4 L3262.6,1503.7 L3264.1,1504.0 L3265.6,1504.4 L3267.1,1504.9 L3268.6,1505.5 L3270.1,1506.1 L3271.6,1506.8 L3273.1,1507.5 L3274.6,1508.2 L3276.1,1508.9 L3277.6,1509.7 L3279.1,1510.4 L3280.6,1511.0 L3282.1,1511.7 L3283.6,1512.3 L3285.1,1512.8 L3286.6,1513.2 L3288.1,1513.6 L3289.6,1513.8 L3291.1,1514.0 L3292.6,1514.1 L3294.1,1514.2 L3295.6,1514.2 L3297.1,1514.1 L3298.6,1514.0 L3300.1,1513.8 L3301.6,1513.7 L3303.1,1513.4 L3304.6,1513.2 L3306.1,1513.0 L3307.6,1512.7 L3309.1,1512.4 L3310.6,1512.1 L3312.1,1511.9 L3313.6,1511.6 L3315.1,1511.4 L3316.6,1511.2 L3318.1,1511.0 L3319.6,1510.9 L3321.1,1510.7 L3322.6,1510.7 L3324.1,1510.7 L3325.6,1510.7 L3327.1,1510.8 L3328.6,1510.9 L3330.1,1511.1 L3331.6,1511.3 L3333.1,1511.5 L3334.6,1511.8 L3336.1,1512.0 L3337.6,1512.3 L3339.1,1512.6 L3340.6,1512.9 L3342.1,1513.1 L3343.6,1513.4 L3345.1,1513.7 L3346.6,1514.0 L3348.1,1514.2 L3349.6,1514.5 L3351.1,1514.7 L3352.6,1514.8 L3354.1,1515.0 L3355.6,1515.1 L3357.1,1515.2 L3358.6,1515.2 L3360.1,1515.2 L3361.6,1515.1 L3363.1,1515.0 L3364.6,1514.9 L3366.1,1514.7 L3367.6,1514.5 L3369.1,1514.4 L3370.6,1514.2 L3372.1,1514.0 L3373.6,1513.8 L3375.1,1513.6 L3376.6,1513.4 L3378.1,1513.3 L3379.6,1513.2 L3381.1,1513.1 L3382.6,1513.1 L3384.1,1513.1 L3385.6,1513.2 L3387.1,1513.3 L3388.6,1513.4 L3390.1,1513.6 L3391.6,1513.7 L3393.1,1513.9 L3394.6,1514.1 L3396.1,1514.3 L3397.6,1514.5 L3399.1,1514.8 L3400.6,1514.9 L3402.1,1515.1 L3403.6,1515.3 L3405.1,1515.4 L3406.6,1515.5 L3408.1,1515.6 L3409.6,1515.6 L3411.1,1515.6 L3412.6,1515.5 L3414.1,1515.5 L3415.6,1515.4 L3417.1,1515.3 L3418.6,1515.2 L3420.1,1515.1 L3421.6,1515.0 L3423.1,1514.9 L3424.6,1514.7 L3426.1,1514.6 L3427.6,1514.5 L3429.1,1514.4 L3430.6,1514.4 L3432.1,1514.3 L3433.6,1514.3 L3435.1,1514.3 L3436.6,1514.3 L3438.1,1514.4 L3439.6,1514.5 L3441.1,1514.6 L3442.6,1514.7 L3444.1,1514.8 L3445.6,1514.9 L3447.1,1515.1 L3448.6,1515.2 L3450.1,1515.4 L3451.6,1515.5 L3453.1,1515.6 L3454.6,1515.8 L3456.1,1515.9 L3457.6,1516.0 L3459.1,1516.1 L3460.6,1516.2 L3462.1,1516.3 L3463.6,1516.4 L3465.1,1516.4 L3466.6,1516.5 L3468.1,1516.5 L3469.6,1516.6 L3471.1,1516.6 L3472.6,1516.6 L3474.1,1516.6 L3475.6,1516.6 L3477.1,1516.6 L3478.6,1516.5 L3480.1,1516.5 L3481.6,1516.4 L3483.1,1516.4 L3484.6,1516.3 L3486.1,1516.2 L3487.6,1516.1 L3489.1,1516.0 L3490.6,1515.9 L3492.1,1515.7 L3493.6,1515.6 L3495.1,1515.4 L3496.6,1515.2 L3498.1,1515.1 L3499.6,1514.9 L3501.1,1514.7 L3502.6,1514.5 L3504.1,1514.2 L3505.6,1514.0 L3507.1,1513.7 L3508.6,1513.5 L3510.1,1513.2 L3511.6,1512.9 L3513.1,1512.6 L3514.6,1512.3 L3515.1,1512.2" fill="none" stroke="#0f718e" stroke-width="2.0" stroke-linejoin="round"/><rect x="2819.10" y="1505.10" width="366.80" height="3.8" fill="#000"/><rect x="3000.00" y="1201.20" width="2.0" height="313.80" fill="#00c0bf" fill-opacity="0.65"/><text x="2952.07" y="1175.90" font-size="18.218" fill="#262626" textLength="90.80" lengthAdjust="spacingAndGlyphs">mean=4.8</text><text x="2911.17" y="1261.00" font-size="18.218" font-weight="bold" fill="#00c0bf" textLength="172.96" lengthAdjust="spacingAndGlyphs">51.8% &lt;5&lt; 48.1%</text><text x="2964.91" y="1388.80" font-size="18.218" fill="#262626" textLength="75.43" lengthAdjust="spacingAndGlyphs">94% HDI</text><text x="2779.14" y="1486.30" font-size="18.391" fill="#262626" textLength="33.57" lengthAdjust="spacingAndGlyphs">-5.9</text><text x="3191.99" y="1486.30" font-size="18.391" fill="#262626" textLength="21.39" lengthAdjust="spacingAndGlyphs">16</text></g>
<g><text x="574.79" y="1587.90" font-size="20.685" font-weight="bold" fill="#262626" textLength="36.73" lengthAdjust="spacingAndGlyphs">tau</text><rect x="13" y="2040" width="1159" height="1" fill="#808080"/><rect x="17.35" y="2041" width="1.1" height="4" fill="#808080"/><text x="5.54" y="2061.70" font-size="16.960" fill="#262626" textLength="24.72" lengthAdjust="spacingAndGlyphs">0.0</text><rect x="151.55" y="2041" width="1.1" height="4" fill="#808080"/><text x="139.78" y="2061.70" font-size="16.960" fill="#262626" textLength="24.50" lengthAdjust="spacingAndGlyphs">2.5</text><rect x="286.05" y="2041" width="1.1" height="4" fill="#808080"/><text x="274.32" y="2061.70" font-size="16.960" fill="#262626" textLength="24.55" lengthAdjust="spacingAndGlyphs">5.0</text><rect x="420.25" y="2041" width="1.1" height="4" fill="#808080"/><text x="408.53" y="2061.70" font-size="16.960" fill="#262626" textLength="24.37" lengthAdjust="spacingAndGlyphs">7.5</text><rect x="554.75" y="2041" width="1.1" height="4" fill="#808080"/><text x="537.53" y="2061.70" font-size="16.960" fill="#262626" textLength="34.87" lengthAdjust="spacingAndGlyphs">10.0</text><rect x="689.35" y="2041" width="1.1" height="4" fill="#808080"/><text x="672.31" y="2061.70" font-size="16.960" fill="#262626" textLength="34.57" lengthAdjust="spacingAndGlyphs">12.5</text><rect x="823.55" y="2041" width="1.1" height="4" fill="#808080"/><text x="806.33" y="2061.70" font-size="16.960" fill="#262626" textLength="34.87" lengthAdjust="spacingAndGlyphs">15.0</text><rect x="958.05" y="2041" width="1.1" height="4" fill="#808080"/><text x="941.01" y="2061.70" font-size="16.960" fill="#262626" textLength="34.57" lengthAdjust="spacingAndGlyphs">17.5</text><rect x="1092.65" y="2041" width="1.1" height="4" fill="#808080"/><text x="1075.60" y="2061.70" font-size="16.960" fill="#262626" textLength="35.00" lengthAdjust="spacingAndGlyphs">20.0</text><path d="M66.6,1615.0 L68.1,1615.0 L69.6,1615.5 L71.1,1616.6 L72.6,1618.1 L74.1,1620.0 L75.6,1622.3 L77.1,1624.8 L78.6,1627.6 L80.1,1630.5 L81.6,1633.5 L83.1,1636.5 L84.6,1639.5 L86.1,1642.4 L87.6,1645.3 L89.1,1648.0 L90.6,1650.6 L92.1,1653.0 L93.6,1655.1 L95.1,1657.0 L96.6,1658.7 L98.1,1660.1 L99.6,1661.4 L101.1,1662.6 L102.6,1663.7 L104.1,1664.8 L105.6,1666.0 L107.1,1667.3 L108.6,1668.8 L110.1,1670.5 L111.6,1672.5 L113.1,1674.7 L114.6,1677.1 L116.1,1679.8 L117.6,1682.6 L119.1,1685.7 L120.6,1689.0 L122.1,1692.5 L123.6,1696.1 L125.1,1699.9 L126.6,1703.8 L128.1,1707.8 L129.6,1711.8 L131.1,1715.8 L132.6,1719.9 L134.1,1723.9 L135.6,1727.9 L137.1,1731.9 L138.6,1735.8 L140.1,1739.6 L141.6,1743.3 L143.1,1746.9 L144.6,1750.4 L146.1,1753.7 L147.6,1756.9 L149.1,1760.0 L150.6,1762.9 L152.1,1765.6 L153.6,1768.1 L155.1,1770.5 L156.6,1772.6 L158.1,1774.6 L159.6,1776.4 L161.1,1778.0 L162.6,1779.5 L164.1,1780.9 L165.6,1782.1 L167.1,1783.3 L168.6,1784.3 L170.1,1785.3 L171.6,1786.1 L173.1,1786.9 L174.6,1787.7 L176.1,1788.3 L177.6,1788.9 L179.1,1789.5 L180.6,1789.9 L182.1,1790.4 L183.6,1790.7 L185.1,1791.0 L186.6,1791.3 L188.1,1791.5 L189.6,1791.7 L191.1,1791.9 L192.6,1792.0 L194.1,1792.2 L195.6,1792.5 L197.1,1792.8 L198.6,1793.2 L200.1,1793.8 L201.6,1794.4 L203.1,1795.2 L204.6,1796.1 L206.1,1797.2 L207.6,1798.4 L209.1,1799.9 L210.6,1801.5 L212.1,1803.3 L213.6,1805.3 L215.1,1807.4 L216.6,1809.7 L218.1,1812.1 L219.6,1814.6 L221.1,1817.1 L222.6,1819.7 L224.1,1822.2 L225.6,1824.8 L227.1,1827.3 L228.6,1829.8 L230.1,1832.2 L231.6,1834.5 L233.1,1836.8 L234.6,1838.9 L236.1,1841.0 L237.6,1842.9 L239.1,1844.7 L240.6,1846.4 L242.1,1847.9 L243.6,1849.4 L245.1,1850.8 L246.6,1852.1 L248.1,1853.3 L249.6,1854.5 L251.1,1855.6 L252.6,1856.8 L254.1,1857.9 L255.6,1859.0 L257.1,1860.2 L258.6,1861.3 L260.1,1862.5 L261.6,1863.6 L263.1,1864.7 L264.6,1865.9 L266.1,1867.0 L267.6,1868.1 L269.1,1869.2 L270.6,1870.3 L272.1,1871.4 L273.6,1872.4 L275.1,1873.5 L276.6,1874.5 L278.1,1875.5 L279.6,1876.6 L281.1,1877.6 L282.6,1878.6 L284.1,1879.6 L285.6,1880.7 L287.1,1881.8 L288.6,1882.9 L290.1,1884.1 L291.6,1885.2 L293.1,1886.5 L294.6,1887.7 L296.1,1888.9 L297.6,1890.1 L299.1,1891.3 L300.6,1892.5 L302.1,1893.7 L303.6,1894.8 L305.1,1895.8 L306.6,1896.8 L308.1,1897.7 L309.6,1898.5 L311.1,1899.3 L312.6,1900.0 L314.1,1900.6 L315.6,1901.1 L317.1,1901.7 L318.6,1902.2 L320.1,1902.7 L321.6,1903.3 L323.1,1903.8 L324.6,1904.4 L326.1,1905.0 L327.6,1905.7 L329.1,1906.4 L330.6,1907.3 L332.1,1908.2 L333.6,1909.2 L335.1,1910.4 L336.6,1911.6 L338.1,1912.9 L339.6,1914.3 L341.1,1915.7 L342.6,1917.3 L344.1,1918.9 L345.6,1920.6 L347.1,1922.3 L348.6,1924.1 L350.1,1926.0 L351.6,1927.8 L353.1,1929.7 L354.6,1931.5 L356.1,1933.3 L357.6,1935.1 L359.1,1936.8 L360.6,1938.5 L362.1,1940.1 L363.6,1941.6 L365.1,1943.0 L366.6,1944.3 L368.1,1945.5 L369.6,1946.6 L371.1,1947.7 L372.6,1948.6 L374.1,1949.5 L375.6,1950.3 L377.1,1951.0 L378.6,1951.7 L380.1,1952.3 L381.6,1952.9 L383.1,1953.4 L384.6,1953.9 L386.1,1954.3 L387.6,1954.7 L389.1,1955.0 L390.6,1955.3 L392.1,1955.6 L393.6,1955.8 L395.1,1955.9 L396.6,1956.1 L398.1,1956.2 L399.6,1956.2 L401.1,1956.3 L402.6,1956.3 L404.1,1956.2 L405.6,1956.2 L407.1,1956.1 L408.6,1956.0 L410.1,1955.9 L411.6,1955.7 L413.1,1955.6 L414.6,1955.4 L416.1,1955.2 L417.6,1955.0 L419.1,1954.8 L420.6,1954.5 L422.1,1954.3 L423.6,1954.1 L425.1,1953.8 L426.6,1953.6 L428.1,1953.4 L429.6,1953.1 L431.1,1952.9 L432.6,1952.7 L434.1,1952.6 L435.6,1952.5 L437.1,1952.5 L438.6,1952.5 L440.1,1952.7 L441.6,1953.0 L443.1,1953.3 L444.6,1953.8 L446.1,1954.4 L447.6,1955.2 L449.1,1956.0 L450.6,1957.0 L452.1,1958.1 L453.6,1959.3 L455.1,1960.6 L456.6,1962.1 L458.1,1963.6 L459.6,1965.1 L461.1,1966.7 L462.6,1968.3 L464.1,1969.8 L465.6,1971.2 L467.1,1972.6 L468.6,1973.9 L470.1,1974.9 L471.6,1975.9 L473.1,1976.7 L474.6,1977.3 L476.1,1977.9 L477.6,1978.3 L479.1,1978.6 L480.6,1978.9 L482.1,1979.1 L483.6,1979.2 L485.1,1979.3 L486.6,1979.4 L488.1,1979.5 L489.6,1979.5 L491.1,1979.7 L492.6,1979.8 L494.1,1980.1 L495.6,1980.4 L497.1,1980.8 L498.6,1981.3 L500.1,1981.9 L501.6,1982.5 L503.1,1983.2 L504.6,1984.0 L506.1,1984.8 L507.6,1985.6 L509.1,1986.4 L510.6,1987.1 L512.1,1987.8 L513.6,1988.5 L515.1,1989.1 L516.6,1989.6 L518.1,1990.1 L519.6,1990.5 L521.1,1990.8 L522.6,1991.1 L524.1,1991.3 L525.6,1991.4 L527.1,1991.4 L528.6,1991.4 L530.1,1991.3 L531.6,1991.2 L533.1,1991.1 L534.6,1990.9 L536.1,1990.7 L537.6,1990.6 L539.1,1990.4 L540.6,1990.3 L542.1,1990.2 L543.6,1990.2 L545.1,1990.2 L546.6,1990.4 L548.1,1990.6 L549.6,1990.9 L551.1,1991.3 L552.6,1991.7 L554.1,1992.2 L555.6,1992.8 L557.1,1993.4 L558.6,1994.0 L560.1,1994.7 L561.6,1995.4 L563.1,1996.1 L564.6,1996.8 L566.1,1997.5 L567.6,1998.2 L569.1,1998.8 L570.6,1999.5 L572.1,2000.1 L573.6,2000.6 L575.1,2001.1 L576.6,2001.5 L578.1,2001.9 L579.6,2002.2 L581.1,2002.4 L582.6,2002.6 L584.1,2002.7 L585.6,2002.8 L587.1,2002.8 L588.6,2002.8 L590.1,2002.8 L591.6,2002.8 L593.1,2002.8 L594.6,2002.9 L596.1,2002.9 L597.6,2003.0 L599.1,2003.1 L600.6,2003.2 L602.1,2003.3 L603.6,2003.4 L605.1,2003.6 L606.6,2003.7 L608.1,2003.9 L609.6,2004.0 L611.1,2004.1 L612.6,2004.2 L614.1,2004.3 L615.6,2004.4 L617.1,2004.4 L618.6,2004.4 L620.1,2004.4 L621.6,2004.3 L623.1,2004.2 L624.6,2004.1 L626.1,2003.9 L627.6,2003.8 L629.1,2003.7 L630.6,2003.5 L632.1,2003.4 L633.6,2003.4 L635.1,2003.3 L636.6,2003.3 L638.1,2003.4 L639.6,2003.4 L641.1,2003.6 L642.6,2003.8 L644.1,2004.0 L645.6,2004.3 L647.1,2004.6 L648.6,2005.0 L650.1,2005.4 L651.6,2005.7 L653.1,2006.2 L654.6,2006.6 L656.1,2007.0 L657.6,2007.4 L659.1,2007.8 L660.6,2008.2 L662.1,2008.5 L663.6,2008.9 L665.1,2009.2 L666.6,2009.4 L668.1,2009.7 L669.6,2009.9 L671.1,2010.0 L672.6,2010.1 L674.1,2010.2 L675.6,2010.3 L677.1,2010.3 L678.6,2010.4 L680.1,2010.4 L681.6,2010.4 L683.1,2010.4 L684.6,2010.4 L686.1,2010.4 L687.6,2010.4 L689.1,2010.4 L690.6,2010.4 L692.1,2010.5 L693.6,2010.6 L695.1,2010.7 L696.6,2010.8 L698.1,2010.9 L699.6,2011.0 L701.1,2011.2 L702.6,2011.4 L704.1,2011.5 L705.6,2011.7 L707.1,2011.9 L708.6,2012.1 L710.1,2012.3 L711.6,2012.5 L713.1,2012.7 L714.6,2012.9 L716.1,2013.1 L717.6,2013.3 L719.1,2013.5 L720.6,2013.7 L722.1,2013.8 L723.6,2014.0 L725.1,2014.1 L726.6,2014.2 L728.1,2014.3 L729.6,2014.4 L731.1,2014.4 L732.6,2014.4 L734.1,2014.4 L735.6,2014.4 L737.1,2014.4 L738.6,2014.3 L740.1,2014.1 L741.6,2014.0 L743.1,2013.8 L744.6,2013.6 L746.1,2013.4 L747.6,2013.2 L749.1,2012.9 L750.6,2012.6 L752.1,2012.4 L753.6,2012.1 L755.1,2011.8 L756.6,2011.6 L758.1,2011.3 L759.6,2011.0 L761.1,2010.8 L762.6,2010.5 L764.1,2010.3 L765.6,2010.1 L767.1,2009.9 L768.6,2009.8 L770.1,2009.7 L771.6,2009.6 L773.1,2009.5 L774.6,2009.5 L776.1,2009.5 L777.6,2009.6 L779.1,2009.7 L780.6,2009.8 L782.1,2009.9 L783.6,2010.1 L785.1,2010.3 L786.6,2010.5 L788.1,2010.7 L789.6,2011.0 L791.1,2011.2 L792.6,2011.5 L794.1,2011.8 L795.6,2012.1 L797.1,2012.3 L798.6,2012.6 L800.1,2012.9 L801.6,2013.2 L803.1,2013.5 L804.6,2013.7 L806.1,2014.0 L807.6,2014.2 L809.1,2014.4 L810.6,2014.6 L812.1,2014.8 L813.6,2014.9 L815.1,2015.0 L816.6,2015.1 L818.1,2015.1 L819.6,2015.2 L821.1,2015.2 L822.6,2015.1 L824.1,2015.1 L825.6,2015.0 L827.1,2014.9 L828.6,2014.8 L830.1,2014.6 L831.6,2014.5 L833.1,2014.4 L834.6,2014.2 L836.1,2014.1 L837.6,2013.9 L839.1,2013.8 L840.6,2013.6 L842.1,2013.5 L843.6,2013.4 L845.1,2013.3 L846.6,2013.2 L848.1,2013.1 L849.6,2013.0 L851.1,2013.0 L852.6,2013.0 L854.1,2013.0 L855.6,2013.1 L857.1,2013.1 L858.6,2013.2 L860.1,2013.4 L861.6,2013.5 L863.1,2013.6 L864.6,2013.8 L866.1,2014.0 L867.6,2014.2 L869.1,2014.4 L870.6,2014.6 L872.1,2014.8 L873.6,2015.0 L875.1,2015.2 L876.6,2015.4 L878.1,2015.6 L879.6,2015.8 L881.1,2016.0 L882.6,2016.2 L884.1,2016.4 L885.6,2016.5 L887.1,2016.7 L888.6,2016.8 L890.1,2016.9 L891.6,2017.0 L893.1,2017.1 L894.6,2017.1 L896.1,2017.1 L897.6,2017.1 L899.1,2017.0 L900.6,2017.0 L902.1,2016.9 L903.6,2016.8 L905.1,2016.6 L906.6,2016.5 L908.1,2016.3 L909.6,2016.2 L911.1,2016.0 L912.6,2015.8 L914.1,2015.6 L915.6,2015.5 L917.1,2015.3 L918.6,2015.1 L920.1,2014.9 L921.6,2014.7 L923.1,2014.6 L924.6,2014.4 L926.1,2014.3 L927.6,2014.1 L929.1,2014.0 L930.6,2013.9 L932.1,2013.9 L933.6,2013.8 L935.1,2013.8 L936.6,2013.8 L938.1,2013.8 L939.6,2013.8 L941.1,2013.9 L942.6,2014.0 L944.1,2014.1 L945.6,2014.2 L947.1,2014.3 L948.6,2014.5 L950.1,2014.6 L951.6,2014.8 L953.1,2014.9 L954.6,2015.1 L956.1,2015.3 L957.6,2015.4 L959.1,2015.6 L960.6,2015.8 L962.1,2016.0 L963.6,2016.1 L965.1,2016.3 L966.6,2016.4 L968.1,2016.6 L969.6,2016.7 L971.1,2016.9 L972.6,2017.0 L974.1,2017.1 L975.6,2017.2 L977.1,2017.2 L978.6,2017.3 L980.1,2017.3 L981.6,2017.4 L983.1,2017.4 L984.6,2017.5 L986.1,2017.5 L987.6,2017.5 L989.1,2017.5 L990.6,2017.5 L992.1,2017.5 L993.6,2017.5 L995.1,2017.5 L996.6,2017.5 L998.1,2017.5 L999.6,2017.5 L1001.1,2017.5 L1002.6,2017.5 L1004.1,2017.5 L1005.6,2017.5 L1007.1,2017.6 L1008.6,2017.6 L1010.1,2017.6 L1011.6,2017.6 L1013.1,2017.7 L1014.6,2017.7 L1016.1,2017.8 L1017.6,2017.8 L1019.1,2017.9 L1020.6,2017.9 L1022.1,2018.0 L1023.6,2018.1 L1025.1,2018.1 L1026.6,2018.2 L1028.1,2018.2 L1029.6,2018.3 L1031.1,2018.3 L1032.6,2018.4 L1034.1,2018.5 L1035.6,2018.5 L1037.1,2018.5 L1038.6,2018.6 L1040.1,2018.6 L1041.6,2018.6 L1043.1,2018.6 L1044.6,2018.6 L1046.1,2018.6 L1047.6,2018.6 L1049.1,2018.6 L1050.6,2018.5 L1052.1,2018.5 L1053.6,2018.4 L1055.1,2018.4 L1056.6,2018.3 L1058.1,2018.2 L1059.6,2018.1 L1061.1,2018.0 L1062.6,2017.9 L1064.1,2017.8 L1065.6,2017.7 L1067.1,2017.6 L1068.6,2017.5 L1070.1,2017.4 L1071.6,2017.2 L1073.1,2017.1 L1074.6,2017.0 L1076.1,2016.9 L1077.6,2016.7 L1079.1,2016.6 L1080.6,2016.5 L1082.1,2016.4 L1083.6,2016.3 L1085.1,2016.1 L1086.6,2016.0 L1088.1,2015.9 L1089.6,2015.8 L1091.1,2015.7 L1092.6,2015.6 L1094.1,2015.5 L1095.6,2015.5 L1097.1,2015.4 L1098.6,2015.3 L1100.1,2015.3 L1101.6,2015.2 L1103.1,2015.2 L1104.6,2015.2 L1106.1,2015.2 L1107.6,2015.2 L1109.1,2015.2 L1110.6,2015.2 L1112.1,2015.2 L1113.6,2015.3 L1115.1,2015.4 L1116.6,2015.4 L1118.1,2015.5 L1119.0,2015.6" fill="none" stroke="#0f718e" stroke-width="2.0" stroke-linejoin="round"/><rect x="65.90" y="2009.00" width="471.60" height="3.8" fill="#000"/><rect x="69.80" y="1705.20" width="2.0" height="313.80" fill="#00c0bf" fill-opacity="0.65"/><text x="194.08" y="1679.90" font-size="18.218" fill="#262626" textLength="90.49" lengthAdjust="spacingAndGlyphs">mean=4.1</text><text x="159.07" y="1765.00" font-size="18.218" font-weight="bold" fill="#00c0bf" textLength="161.11" lengthAdjust="spacingAndGlyphs">4.0% &lt;1&lt; 96.0%</text><text x="264.91" y="1892.80" font-size="18.218" fill="#262626" textLength="75.43" lengthAdjust="spacingAndGlyphs">94% HDI</text><text x="32.13" y="1990.30" font-size="18.391" fill="#262626" textLength="26.90" lengthAdjust="spacingAndGlyphs">0.9</text><text x="543.78" y="1990.30" font-size="18.391" fill="#262626" textLength="26.90" lengthAdjust="spacingAndGlyphs">9.7</text></g>
</svg></body></html>
